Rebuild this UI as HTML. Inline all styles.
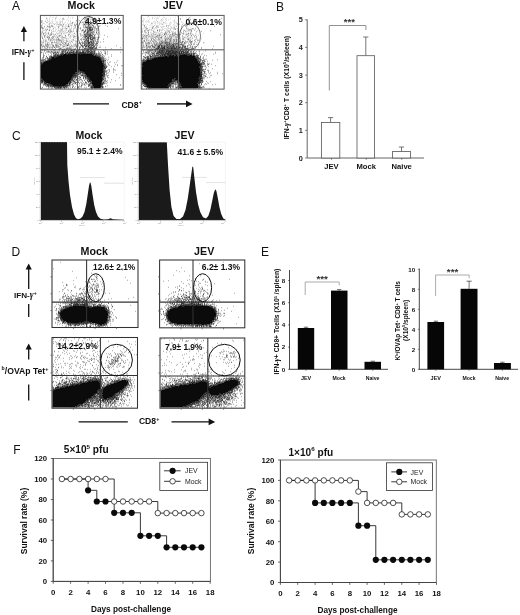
<!DOCTYPE html>
<html lang="en">
<head>
<meta charset="utf-8">
<title>Figure</title>
<style>
html,body{margin:0;padding:0;background:#fff;}
body{width:520px;height:615px;overflow:hidden;font-family:'Liberation Sans', sans-serif;}
svg text{white-space:pre;}
</style>
</head>
<body>
<svg width="520" height="615" viewBox="0 0 520 615" font-family="'Liberation Sans', sans-serif" style="display:block">
<rect width="520" height="615" fill="#fff"/>
<text x="11.9" y="10" font-size="12" font-weight="normal" text-anchor="start" fill="#111">A</text>
<text x="276" y="11.2" font-size="12" font-weight="normal" text-anchor="start" fill="#111">B</text>
<text x="12" y="139.5" font-size="12" font-weight="normal" text-anchor="start" fill="#111">C</text>
<text x="11.5" y="255.5" font-size="12" font-weight="normal" text-anchor="start" fill="#111">D</text>
<text x="261" y="255.5" font-size="12" font-weight="normal" text-anchor="start" fill="#111">E</text>
<text x="13.3" y="454" font-size="12" font-weight="normal" text-anchor="start" fill="#111">F</text>
<text x="81.2" y="9.1" font-size="10.7" font-weight="bold" text-anchor="middle" fill="#111">Mock</text>
<text x="172.8" y="9.1" font-size="10.7" font-weight="bold" text-anchor="middle" fill="#111">JEV</text>
<path d="M81 53h0.5v0.5h-0.5zM75.5 53.5h1.5v0.5h-1.5zM78 53.5h0.5v0.5h-0.5zM72.5 53.5h2v0.5h-2zM90.5 53.5h0.5v0.5h-0.5zM86 53.5h1.5v0.5h-1.5zM81 53.5h1.5v0.5h-1.5zM84 53.5h1.5v0.5h-1.5zM89.5 53.5h0.5v0.5h-0.5zM78 54h2.5v0.5h-2.5zM63.5 54h3v0.5h-3zM68 54h1.5v0.5h-1.5zM70 54h7.5v0.5h-7.5zM81 54h11v0.5h-11zM62 54.5h0.5v0.5h-0.5zM63.5 54.5h29.5v0.5h-29.5zM95 55h0.5v0.5h-0.5zM61 55h1.5v0.5h-1.5zM63 55h30.5v0.5h-30.5zM60 55.5h36.5v0.5h-36.5zM58 55.5h0.5v0.5h-0.5zM58 56h38.5v0.5h-38.5zM55.5 56.5h1.5v0.5h-1.5zM57.5 56.5h41.5v0.5h-41.5zM55.5 57h44v0.5h-44zM52 57h2.5v0.5h-2.5zM55 57.5h45.5v0.5h-45.5zM51.5 57.5h3v0.5h-3zM51.5 58h49v0.5h-49zM51 58.5h50.5v1h-50.5zM50.5 59.5h51v0.5h-51zM48.5 60h52.5v0.5h-52.5zM46.5 60.5h56v0.5h-56zM45.5 61h57v0.5h-57zM44.5 61.5h58v0.5h-58zM44 62h58v0.5h-58zM43.5 62.5h60v0.5h-60zM42.5 63h61v1h-61zM42 64h61.5v1h-61.5zM41 65h63v1.5h-63zM41 66.5h62.5v0.5h-62.5zM41 67h62v2h-62zM41 69h62.5v1.5h-62.5zM41 70.5h37.5v0.5h-37.5zM80 70.5h23.5v0.5h-23.5zM41 71h37v0.5h-37zM81.5 71h22v0.5h-22zM41 71.5h36v0.5h-36zM82.5 71.5h21.5v0.5h-21.5zM41 72h34.5v0.5h-34.5zM83.5 72h20v0.5h-20zM41 72.5h34v0.5h-34zM84.5 72.5h18.5v0.5h-18.5zM41 73h34.5v0.5h-34.5zM84.5 73h18v0.5h-18zM84 73.5h18.5v0.5h-18.5zM41 73.5h34v1h-34zM85.5 74h17.5v0.5h-17.5zM86 74.5h17v0.5h-17zM86.5 75h16.5v1h-16.5zM41 74.5h32v2h-32zM87 76h15.5v1h-15.5zM88 77h14.5v0.5h-14.5zM41 76.5h31.5v1.5h-31.5zM89 77.5h13.5v1h-13.5zM71.5 78h0.5v0.5h-0.5zM41 78h30v0.5h-30zM89.5 78.5h13v0.5h-13zM41.5 78.5h29.5v0.5h-29.5zM41.5 79h0.5v0.5h-0.5zM42.5 79h28.5v0.5h-28.5zM90 79h12v1h-12zM43 79.5h28v0.5h-28zM90.5 80h11.5v0.5h-11.5zM44 80h26v1h-26zM90 80.5h12v0.5h-12zM44 81h25.5v0.5h-25.5zM44.5 81.5h24.5v0.5h-24.5zM91.5 81h10.5v1.5h-10.5zM45 82h23.5v0.5h-23.5zM46 82.5h22.5v0.5h-22.5zM91.5 82.5h10v1h-10zM47 83h21.5v0.5h-21.5zM49.5 83.5h18.5v0.5h-18.5zM91.5 83.5h9.5v1h-9.5zM50 84h16.5v0.5h-16.5zM92.5 84.5h8.5v0.5h-8.5zM51.5 84.5h15v0.5h-15zM52.5 85h14v0.5h-14zM93 85h8.5v0.5h-8.5zM92.5 85.5h9v0.5h-9zM52.5 85.5h12.5v0.5h-12.5zM53 86h3v0.5h-3zM61 86h1v0.5h-1zM57 86h3.5v0.5h-3.5zM63 86h1.5v0.5h-1.5zM93 86h8.5v0.5h-8.5zM94 86.5h7v0.5h-7zM57 86.5h0.5v0.5h-0.5zM58.5 86.5h1.5v0.5h-1.5zM94 87h6.5v0.5h-6.5zM59 87h0.5v0.5h-0.5zM93.5 87.5h7v0.5h-7zM99.5 88h1v0.5h-1zM96 88h2.5v0.5h-2.5zM93.5 88h1.5v0.5h-1.5z" fill="#0b0b0b"/>
<path d="M89.5 16.25h0.5M90.5 16.25h0.5M88.5 16.75h1M84 17.25h0.5M91 17.25h0.5M92 17.25h0.5M84 17.75h0.5M55.5 18.25h0.5M98.5 18.25h0.5M111.5 18.25h0.5M63.5 18.75h0.5M85 18.75h0.5M86 18.75h0.5M84 19.25h0.5M87 19.25h0.5M92 19.25h0.5M94 19.75h0.5M87 20.25h0.5M93 20.25h0.5M41.5 20.75h0.5M79 20.75h0.5M85.5 20.75h0.5M87 20.75h0.5M88.5 20.75h0.5M93 20.75h0.5M45 21.25h0.5M84 21.25h0.5M90.5 21.25h0.5M41.5 21.75h0.5M87.5 21.75h0.5M90 21.75h0.5M97 21.75h0.5M80 22.25h0.5M82.5 22.25h0.5M83.5 22.25h0.5M85.5 22.25h0.5M86.5 22.25h0.5M91.5 22.25h0.5M95 22.25h0.5M72.5 22.75h0.5M87 22.75h0.5M88 22.75h1M90 22.75h0.5M91.5 22.75h1M93 22.75h0.5M95.5 22.75h0.5M85 23.25h0.5M86.5 23.25h0.5M88.5 23.25h0.5M114 23.25h0.5M49 23.75h0.5M79.5 23.75h0.5M88 23.75h1M90 23.75h1M54.5 24.25h0.5M63.5 24.25h0.5M74 24.25h0.5M76.5 24.25h0.5M84 24.25h1M85.5 24.25h0.5M86.5 24.25h0.5M88 24.25h2M94 24.25h0.5M97 24.25h0.5M58 24.75h0.5M60 24.75h0.5M61 24.75h0.5M83 24.75h0.5M87.5 24.75h0.5M91 24.75h0.5M96 24.75h0.5M68.5 25.25h0.5M74 25.25h0.5M88.5 25.25h0.5M90 25.25h0.5M92 25.25h0.5M93 25.25h0.5M105.5 25.25h0.5M41.5 25.75h0.5M49.5 25.75h0.5M75.5 25.75h0.5M85.5 25.75h0.5M88 25.75h0.5M89.5 25.75h0.5M92 25.75h0.5M97 25.75h0.5M47 26.25h0.5M68.5 26.25h0.5M75 26.25h0.5M87.5 26.25h0.5M88.5 26.25h0.5M93.5 26.25h0.5M98.5 26.25h0.5M99.5 26.25h0.5M107.5 26.25h0.5M44.5 26.75h0.5M48.5 26.75h0.5M52.5 26.75h0.5M62 26.75h0.5M68 26.75h0.5M69 26.75h0.5M83.5 26.75h0.5M85 26.75h0.5M88.5 26.75h0.5M90.5 26.75h0.5M93 26.75h0.5M49 27.25h0.5M78.5 27.25h0.5M85.5 27.25h0.5M87.5 27.25h0.5M88.5 27.25h1M90 27.25h0.5M91 27.25h0.5M93 27.25h0.5M95 27.25h0.5M41.5 27.75h0.5M42.5 27.75h0.5M58.5 27.75h0.5M75 27.75h0.5M80 27.75h0.5M83 27.75h0.5M84 27.75h0.5M86 27.75h1.5M89 27.75h2M91.5 27.75h1M94.5 27.75h0.5M42.5 28.25h0.5M43.5 28.25h0.5M53.5 28.25h0.5M87 28.25h0.5M88.5 28.25h0.5M90.5 28.25h1M92.5 28.25h0.5M97 28.25h0.5M62 28.75h0.5M66 28.75h0.5M80 28.75h0.5M88.5 28.75h1.5M92 28.75h0.5M95.5 28.75h0.5M96.5 28.75h0.5M118.5 28.75h0.5M45 29.25h0.5M70.5 29.25h0.5M76 29.25h0.5M89 29.25h0.5M90 29.25h1M92 29.25h1M96.5 29.25h0.5M61.5 29.75h0.5M83.5 29.75h0.5M85 29.75h0.5M87 29.75h1M89 29.75h0.5M90 29.75h0.5M91 29.75h1M92.5 29.75h0.5M49 30.25h0.5M82 30.25h1M87 30.25h0.5M88.5 30.25h2.5M91.5 30.25h1M46.5 30.75h0.5M68.5 30.75h0.5M70 30.75h0.5M81 30.75h0.5M83 30.75h0.5M85 30.75h1M87 30.75h0.5M88.5 30.75h0.5M91 30.75h0.5M94.5 30.75h0.5M96 30.75h0.5M97.5 30.75h0.5M71.5 31.25h0.5M84.5 31.25h0.5M85.5 31.25h0.5M88 31.25h0.5M89 31.25h0.5M90 31.25h0.5M92.5 31.25h0.5M93.5 31.25h0.5M68.5 31.75h0.5M76.5 31.75h0.5M84.5 31.75h1M87 31.75h1M88.5 31.75h0.5M93.5 31.75h0.5M96 31.75h0.5M45 32.25h0.5M83 32.25h0.5M84 32.25h1M87 32.25h1.5M90.5 32.25h1M92.5 32.25h0.5M42.5 32.75h0.5M48.5 32.75h0.5M51 32.75h0.5M86.5 32.75h1M89.5 32.75h0.5M91 32.75h0.5M92 32.75h0.5M93.5 32.75h0.5M94.5 32.75h0.5M96 32.75h1M98.5 32.75h0.5M61 33.25h0.5M74 33.25h0.5M90 33.25h0.5M43 33.75h0.5M48.5 33.75h0.5M80.5 33.75h0.5M83 33.75h0.5M85 33.75h0.5M86.5 33.75h2M89.5 33.75h0.5M90.5 33.75h1M92.5 33.75h0.5M50.5 34.25h0.5M55.5 34.25h0.5M69 34.25h0.5M84 34.25h1M85.5 34.25h1M87 34.25h0.5M88 34.25h1M89.5 34.25h0.5M92 34.25h0.5M93 34.25h0.5M95.5 34.25h0.5M97 34.25h0.5M43.5 34.75h0.5M51 34.75h0.5M53 34.75h0.5M80 34.75h0.5M84.5 34.75h1M87 34.75h0.5M89.5 34.75h1.5M93.5 34.75h0.5M82 35.25h0.5M84.5 35.25h0.5M85.5 35.25h0.5M86.5 35.25h0.5M87.5 35.25h0.5M88.5 35.25h1M90 35.25h1.5M94 35.25h0.5M104 35.25h0.5M44.5 35.75h0.5M60 35.75h0.5M65 35.75h0.5M83 35.75h0.5M85 35.75h0.5M86.5 35.75h1M88 35.75h0.5M89 35.75h0.5M90 35.75h0.5M91 35.75h1M92.5 35.75h0.5M94.5 35.75h0.5M74 36.25h0.5M84 36.25h0.5M85 36.25h2M87.5 36.25h0.5M88.5 36.25h1.5M90.5 36.25h0.5M92 36.25h1M94 36.25h0.5M52.5 36.75h0.5M53.5 36.75h0.5M83.5 36.75h0.5M84.5 36.75h0.5M86 36.75h1M88.5 36.75h0.5M89.5 36.75h0.5M90.5 36.75h0.5M93 36.75h0.5M107.5 36.75h0.5M44.5 37.25h0.5M47.5 37.25h0.5M57.5 37.25h0.5M85 37.25h1M87 37.25h1.5M89 37.25h0.5M90 37.25h1.5M92.5 37.25h0.5M95 37.25h0.5M99.5 37.25h0.5M49 37.75h0.5M63.5 37.75h0.5M73.5 37.75h0.5M78.5 37.75h0.5M82.5 37.75h0.5M84 37.75h0.5M88 37.75h1M90 37.75h0.5M91 37.75h0.5M92 37.75h0.5M93 37.75h2M97 37.75h0.5M98 37.75h0.5M42 38.25h0.5M52 38.25h0.5M58.5 38.25h0.5M85.5 38.25h0.5M87 38.25h1.5M90 38.25h1M92 38.25h0.5M94 38.25h0.5M66 38.75h0.5M81 38.75h0.5M85.5 38.75h0.5M86.5 38.75h0.5M88 38.75h1M89.5 38.75h1.5M92.5 38.75h2M95.5 38.75h0.5M48 39.25h0.5M56.5 39.25h0.5M58.5 39.25h0.5M80.5 39.25h0.5M83.5 39.25h0.5M86 39.25h1M88.5 39.25h0.5M91 39.25h0.5M92 39.25h1M94 39.25h0.5M97.5 39.25h0.5M103.5 39.25h0.5M50 39.75h0.5M57.5 39.75h1M81 39.75h0.5M83.5 39.75h0.5M84.5 39.75h0.5M87.5 39.75h1M90 39.75h2M92.5 39.75h0.5M97.5 39.75h0.5M43 40.25h0.5M59 40.25h0.5M60.5 40.25h0.5M66 40.25h0.5M85.5 40.25h1M88 40.25h1M91.5 40.25h0.5M93.5 40.25h1M95 40.25h0.5M81 40.75h0.5M85 40.75h0.5M86 40.75h0.5M87 40.75h1M88.5 40.75h0.5M92.5 40.75h0.5M93.5 40.75h0.5M41.5 41.25h0.5M45 41.25h0.5M71.5 41.25h0.5M87.5 41.25h1.5M90.5 41.25h0.5M92.5 41.25h0.5M95 41.25h0.5M98 41.25h0.5M61.5 41.75h0.5M76 41.75h0.5M82.5 41.75h0.5M84 41.75h1.5M86.5 41.75h0.5M90 41.75h2M93 41.75h1.5M96 41.75h0.5M103 41.75h0.5M43.5 42.25h0.5M52 42.25h0.5M54 42.25h0.5M82.5 42.25h0.5M85.5 42.25h0.5M86.5 42.25h0.5M87.5 42.25h2.5M90.5 42.25h1.5M92.5 42.25h1M98.5 42.25h0.5M100 42.25h0.5M66 42.75h0.5M79.5 42.75h0.5M81.5 42.75h0.5M84.5 42.75h0.5M85.5 42.75h0.5M87 42.75h0.5M88 42.75h2M91 42.75h0.5M93.5 42.75h0.5M94.5 42.75h0.5M79.5 43.25h1M82 43.25h1M83.5 43.25h1M86.5 43.25h1M88 43.25h1M89.5 43.25h0.5M91 43.25h0.5M92 43.25h1M93.5 43.25h0.5M96.5 43.25h1.5M57.5 43.75h0.5M65.5 43.75h0.5M68.5 43.75h0.5M78 43.75h0.5M84.5 43.75h1M86 43.75h0.5M88 43.75h1M89.5 43.75h0.5M90.5 43.75h1M94 43.75h0.5M95.5 43.75h0.5M45.5 44.25h0.5M47.5 44.25h0.5M59.5 44.25h0.5M68.5 44.25h0.5M80 44.25h0.5M84.5 44.25h0.5M86.5 44.25h0.5M87.5 44.25h0.5M88.5 44.25h1M90 44.25h0.5M91.5 44.25h1M93 44.25h1M96.5 44.25h0.5M55.5 44.75h0.5M61 44.75h0.5M64.5 44.75h0.5M74.5 44.75h0.5M75.5 44.75h0.5M81 44.75h0.5M82.5 44.75h0.5M84 44.75h0.5M85 44.75h1M87 44.75h0.5M88 44.75h0.5M90 44.75h1M91.5 44.75h1M93.5 44.75h0.5M95.5 44.75h0.5M46.5 45.25h1M48.5 45.25h0.5M52 45.25h0.5M56 45.25h0.5M60 45.25h0.5M67 45.25h1M68.5 45.25h0.5M84 45.25h1M86.5 45.25h1M88 45.25h0.5M89 45.25h1M91 45.25h0.5M92.5 45.25h1M96 45.25h0.5M97 45.25h0.5M43 45.75h0.5M53.5 45.75h0.5M55.5 45.75h0.5M57.5 45.75h0.5M66 45.75h0.5M67 45.75h0.5M71.5 45.75h0.5M75 45.75h0.5M78 45.75h0.5M81 45.75h1.5M83 45.75h0.5M84 45.75h0.5M86 45.75h1.5M88 45.75h0.5M89.5 45.75h1M91.5 45.75h1.5M93.5 45.75h0.5M94.5 45.75h0.5M116.5 45.75h0.5M43 46.25h0.5M53 46.25h0.5M63 46.25h0.5M64.5 46.25h0.5M74 46.25h0.5M76.5 46.25h0.5M82.5 46.25h1M85 46.25h1M86.5 46.25h1M88 46.25h1.5M91 46.25h1M93 46.25h0.5M94 46.25h0.5M96.5 46.25h0.5M42.5 46.75h0.5M47 46.75h0.5M56 46.75h0.5M58 46.75h0.5M59 46.75h0.5M70.5 46.75h0.5M72 46.75h0.5M80 46.75h0.5M82.5 46.75h0.5M85 46.75h0.5M86 46.75h1M88 46.75h1M90 46.75h0.5M93.5 46.75h0.5M94.5 46.75h0.5M96 46.75h0.5M44.5 47.25h0.5M47.5 47.25h0.5M49.5 47.25h0.5M54 47.25h1M56.5 47.25h0.5M57.5 47.25h0.5M69.5 47.25h0.5M79 47.25h0.5M82 47.25h0.5M85 47.25h0.5M88.5 47.25h0.5M89.5 47.25h1M91 47.25h0.5M92 47.25h0.5M93 47.25h1M94.5 47.25h0.5M95.5 47.25h0.5M99.5 47.25h1M77 47.75h0.5M79 47.75h0.5M80 47.75h0.5M87 47.75h0.5M88 47.75h0.5M89 47.75h4M96 47.75h1M105 47.75h0.5M120 47.75h0.5M45 48.25h0.5M67 48.25h0.5M68.5 48.25h0.5M69.5 48.25h1M71.5 48.25h0.5M85.5 48.25h0.5M87 48.25h0.5M88 48.25h0.5M89 48.25h0.5M90.5 48.25h0.5M92 48.25h0.5M93.5 48.25h1M95 48.25h0.5M96.5 48.25h0.5M52 48.75h0.5M59.5 48.75h1M61.5 48.75h0.5M66 48.75h0.5M75 48.75h0.5M79.5 48.75h0.5M82 48.75h0.5M84.5 48.75h1M86.5 48.75h0.5M88.5 48.75h0.5M89.5 48.75h1M91.5 48.75h2M94.5 48.75h1.5M96.5 48.75h0.5M111 48.75h0.5M41 49.25h0.5M70 49.25h0.5M74 49.25h1M79 49.25h1M81 49.25h0.5M84.5 49.25h0.5M86.5 49.25h2M90 49.25h2.5M94 49.25h0.5M47.5 49.75h0.5M52 49.75h0.5M54.5 49.75h0.5M62 49.75h0.5M63.5 49.75h0.5M64.5 49.75h0.5M66.5 49.75h0.5M71 49.75h0.5M72 49.75h0.5M79.5 49.75h0.5M81 49.75h0.5M82.5 49.75h2M85.5 49.75h1M87.5 49.75h1M89.5 49.75h0.5M93 49.75h1M54.5 50.25h0.5M58 50.25h0.5M62 50.25h0.5M63 50.25h0.5M68.5 50.25h0.5M71.5 50.25h0.5M73.5 50.25h0.5M78 50.25h0.5M79.5 50.25h0.5M84.5 50.25h0.5M87 50.25h1.5M90 50.25h0.5M91 50.25h0.5M93 50.25h0.5M94 50.25h0.5M95.5 50.25h0.5M103 50.25h0.5M105 50.25h0.5M44 50.75h0.5M63 50.75h0.5M64.5 50.75h0.5M65.5 50.75h0.5M66.5 50.75h0.5M68 50.75h1M70.5 50.75h2M76 50.75h1M78.5 50.75h0.5M80 50.75h0.5M82 50.75h1.5M84.5 50.75h0.5M85.5 50.75h1.5M87.5 50.75h1.5M90 50.75h1M91.5 50.75h0.5M92.5 50.75h0.5M94 50.75h0.5M48 51.25h0.5M49.5 51.25h0.5M55.5 51.25h0.5M57.5 51.25h0.5M59 51.25h0.5M61 51.25h0.5M62 51.25h1.5M64 51.25h0.5M65.5 51.25h0.5M70 51.25h0.5M72.5 51.25h1.5M74.5 51.25h0.5M76 51.25h1.5M78.5 51.25h1M83 51.25h1M85 51.25h0.5M86 51.25h0.5M87 51.25h0.5M88.5 51.25h1M91 51.25h1M93 51.25h0.5M94.5 51.25h1M98.5 51.25h0.5M104.5 51.25h0.5M107.5 51.25h0.5M51 51.75h1.5M61.5 51.75h1M63.5 51.75h0.5M65 51.75h1M67.5 51.75h0.5M69.5 51.75h0.5M73 51.75h0.5M74 51.75h0.5M75 51.75h0.5M76 51.75h0.5M77.5 51.75h0.5M78.5 51.75h0.5M79.5 51.75h0.5M80.5 51.75h0.5M82 51.75h1.5M84.5 51.75h1M86 51.75h0.5M87 51.75h3M91.5 51.75h2M94 51.75h1M100 51.75h0.5M105 51.75h0.5M47.5 52.25h1M49 52.25h0.5M50.5 52.25h0.5M54.5 52.25h0.5M55.5 52.25h0.5M57.5 52.25h1M62 52.25h0.5M64 52.25h0.5M66.5 52.25h1.5M69 52.25h3M72.5 52.25h1.5M76 52.25h2M79.5 52.25h1.5M81.5 52.25h2.5M85 52.25h0.5M86.5 52.25h0.5M88 52.25h1M90 52.25h1.5M92 52.25h0.5M93.5 52.25h0.5M94.5 52.25h0.5M98 52.25h0.5M101 52.25h0.5M120.5 52.25h0.5M41.5 52.75h0.5M52 52.75h0.5M53 52.75h1M54.5 52.75h2M57 52.75h1M61 52.75h0.5M62 52.75h1M65.5 52.75h0.5M66.5 52.75h1.5M69 52.75h1M71 52.75h2.5M74.5 52.75h2.5M78 52.75h8M87 52.75h1M88.5 52.75h0.5M89.5 52.75h2.5M92.5 52.75h1M94.5 52.75h1M99 52.75h0.5M105.5 52.75h0.5M107 52.75h0.5M43.5 53.25h0.5M45.5 53.25h0.5M50 53.25h0.5M56.5 53.25h0.5M58 53.25h0.5M62 53.25h0.5M63 53.25h0.5M65 53.25h1.5M67 53.25h0.5M68 53.25h1.5M70 53.25h1M71.5 53.25h0.5M72.5 53.25h2.5M75.5 53.25h5.5M82 53.25h4.5M87 53.25h1.5M89 53.25h3M92.5 53.25h0.5M93.5 53.25h1.5M96.5 53.25h0.5M98 53.25h0.5M101.5 53.25h0.5M104.5 53.25h1.5M51.5 53.75h0.5M53 53.75h1M54.5 53.75h0.5M55.5 53.75h1M58 53.75h0.5M60 53.75h0.5M61 53.75h3M64.5 53.75h3M68 53.75h3M71.5 53.75h1M74.5 53.75h1M77 53.75h1M78.5 53.75h2.5M82.5 53.75h1.5M85.5 53.75h0.5M87.5 53.75h2M90 53.75h0.5M91 53.75h2.5M94 53.75h1M95.5 53.75h0.5M96.5 53.75h0.5M97.5 53.75h1M99.5 53.75h0.5M100.5 53.75h0.5M43.5 54.25h0.5M53 54.25h0.5M55.5 54.25h0.5M56.5 54.25h0.5M58.5 54.25h0.5M59.5 54.25h1M61 54.25h2.5M66.5 54.25h1.5M69.5 54.25h0.5M77.5 54.25h0.5M80.5 54.25h0.5M92 54.25h2M94.5 54.25h0.5M95.5 54.25h1M97 54.25h0.5M98.5 54.25h0.5M99.5 54.25h0.5M107.5 54.25h0.5M48 54.75h0.5M51 54.75h0.5M54.5 54.75h1.5M56.5 54.75h1.5M58.5 54.75h0.5M60 54.75h2M62.5 54.75h1M93 54.75h1.5M95 54.75h0.5M96 54.75h1M98 54.75h0.5M99 54.75h0.5M100 54.75h0.5M102 54.75h1M105 54.75h0.5M111.5 54.75h0.5M43 55.25h0.5M53.5 55.25h3M57 55.25h4M62.5 55.25h0.5M93.5 55.25h1M95.5 55.25h1M98.5 55.25h1M100.5 55.25h1M43 55.75h0.5M44 55.75h0.5M50.5 55.75h1M53.5 55.75h0.5M54.5 55.75h0.5M55.5 55.75h1M57 55.75h1M58.5 55.75h1.5M96.5 55.75h1.5M98.5 55.75h0.5M99.5 55.75h1M103.5 55.75h0.5M43 56.25h0.5M46 56.25h1M49.5 56.25h1M51 56.25h0.5M52.5 56.25h1M54 56.25h4M96.5 56.25h3M100.5 56.25h0.5M102 56.25h0.5M104.5 56.25h0.5M111 56.25h0.5M43.5 56.75h0.5M49 56.75h0.5M50.5 56.75h2M53 56.75h2.5M57 56.75h0.5M99 56.75h1M101 56.75h0.5M102 56.75h0.5M46.5 57.25h0.5M49 57.25h0.5M50.5 57.25h1.5M54.5 57.25h1M99.5 57.25h1.5M101.5 57.25h0.5M102.5 57.25h1M108.5 57.25h0.5M42.5 57.75h1.5M47 57.75h1M49.5 57.75h0.5M50.5 57.75h1M54.5 57.75h0.5M100.5 57.75h0.5M101.5 57.75h0.5M102.5 57.75h1M45 58.25h0.5M47 58.25h0.5M48 58.25h0.5M49.5 58.25h0.5M50.5 58.25h1M100.5 58.25h1M102.5 58.25h1M104 58.25h0.5M105 58.25h0.5M42.5 58.75h0.5M45 58.75h0.5M46.5 58.75h1M48.5 58.75h2.5M101.5 58.75h1M103 58.75h0.5M41.5 59.25h0.5M43.5 59.25h0.5M48 59.25h0.5M49 59.25h2M102 59.25h1.5M104.5 59.25h0.5M106 59.25h0.5M108 59.25h0.5M42 59.75h0.5M43.5 59.75h1.5M45.5 59.75h0.5M47.5 59.75h3M101.5 59.75h0.5M103.5 59.75h0.5M41.5 60.25h1M43 60.25h0.5M45 60.25h0.5M47 60.25h1.5M101 60.25h1.5M103 60.25h1.5M105 60.25h1M41 60.75h1M42.5 60.75h0.5M43.5 60.75h0.5M45.5 60.75h1M102.5 60.75h1M104.5 60.75h1M107.5 60.75h0.5M117.5 60.75h0.5M42 61.25h0.5M43 61.25h0.5M44 61.25h1.5M102.5 61.25h2M41.5 61.75h0.5M42.5 61.75h0.5M43.5 61.75h1M102.5 61.75h1.5M104.5 61.75h0.5M105.5 61.75h0.5M110.5 61.75h0.5M41.5 62.25h0.5M43 62.25h1M102.5 62.25h1.5M109.5 62.25h0.5M116 62.25h0.5M41 62.75h2.5M104.5 62.75h1M107.5 62.75h0.5M114.5 62.75h0.5M41 63.25h1.5M103.5 63.25h0.5M105 63.25h0.5M41 63.75h1.5M103.5 63.75h1M108 63.75h0.5M41 64.25h1M103.5 64.25h2.5M115 64.25h0.5M41 64.75h1M103.5 64.75h1M108 64.75h0.5M117 64.75h0.5M106 65.25h0.5M109.5 65.25h0.5M104 65.75h2M117 65.75h0.5M121.5 65.75h1M104.5 66.25h1M106 66.25h0.5M107.5 66.25h0.5M114.5 66.25h0.5M103.5 66.75h2M106.5 66.75h0.5M111.5 66.75h0.5M103 67.25h2.5M106 67.25h1M103 67.75h2M105.5 67.75h1M103 68.25h3M103 68.75h1M104.5 68.75h1.5M113.5 68.75h0.5M103.5 69.25h1M113.5 69.25h0.5M103.5 69.75h0.5M104.5 69.75h1M108 69.75h0.5M109 69.75h0.5M114 69.75h0.5M103.5 70.25h1.5M115.5 70.25h0.5M78.5 70.75h1.5M103.5 70.75h1M105.5 70.75h1M107 70.75h0.5M109 70.75h0.5M113 70.75h0.5M78 71.25h1M79.5 71.25h2M103.5 71.25h1.5M105.5 71.25h1M77 71.75h5.5M104.5 71.75h1M106 71.75h0.5M109 71.75h0.5M75.5 72.25h1M77 72.25h1.5M79.5 72.25h0.5M80.5 72.25h1M82 72.25h1.5M103.5 72.25h1M105.5 72.25h0.5M113.5 72.25h0.5M75 72.75h2M77.5 72.75h1.5M79.5 72.75h5M103 72.75h2M106.5 72.75h0.5M108 72.75h0.5M75.5 73.25h1.5M80 73.25h0.5M82.5 73.25h2M102.5 73.25h2.5M107 73.25h0.5M121.5 73.25h0.5M75 73.75h3.5M79 73.75h2M82 73.75h0.5M102.5 73.75h1.5M104.5 73.75h0.5M106 73.75h0.5M75 74.25h1M76.5 74.25h0.5M77.5 74.25h2M81.5 74.25h0.5M82.5 74.25h0.5M83.5 74.25h0.5M84.5 74.25h0.5M103 74.25h0.5M104 74.25h1M105.5 74.25h1M73 74.75h2.5M76 74.75h0.5M77.5 74.75h0.5M78.5 74.75h0.5M80 74.75h0.5M82.5 74.75h0.5M83.5 74.75h1M85 74.75h1M103 74.75h2M116.5 74.75h0.5M73 75.25h5M81.5 75.25h2M84 75.25h0.5M85 75.25h1.5M103 75.25h2M108.5 75.25h0.5M121 75.25h0.5M73 75.75h3.5M77.5 75.75h0.5M80.5 75.75h3M84.5 75.75h0.5M85.5 75.75h1M103.5 75.75h0.5M105 75.75h0.5M106 75.75h0.5M107 75.75h0.5M73 76.25h2.5M77 76.25h0.5M78.5 76.25h0.5M79.5 76.25h0.5M83 76.25h0.5M84 76.25h3M102.5 76.25h1M104 76.25h1M107.5 76.25h0.5M72.5 76.75h0.5M73.5 76.75h0.5M74.5 76.75h2.5M79 76.75h0.5M83.5 76.75h0.5M86.5 76.75h0.5M102.5 76.75h1.5M104.5 76.75h0.5M72.5 77.25h1.5M75.5 77.25h0.5M76.5 77.25h1M79 77.25h0.5M80.5 77.25h0.5M83 77.25h0.5M85 77.25h1M86.5 77.25h1.5M102.5 77.25h1.5M105 77.25h0.5M107.5 77.25h0.5M72.5 77.75h0.5M73.5 77.75h2.5M77.5 77.75h0.5M80 77.75h1M83 77.75h0.5M84.5 77.75h2M87.5 77.75h1.5M102.5 77.75h0.5M104 77.75h0.5M108.5 77.75h0.5M119.5 77.75h0.5M71 78.25h0.5M72.5 78.25h1M77 78.25h0.5M78.5 78.25h0.5M79.5 78.25h0.5M83 78.25h1M85 78.25h0.5M86.5 78.25h2.5M102.5 78.25h0.5M104.5 78.25h1M41 78.75h0.5M71 78.75h2M74 78.75h0.5M75 78.75h0.5M78.5 78.75h0.5M83.5 78.75h0.5M85 78.75h0.5M86.5 78.75h0.5M87.5 78.75h2M102.5 78.75h1.5M105.5 78.75h0.5M42 79.25h0.5M71 79.25h1.5M73 79.25h0.5M74 79.25h0.5M76 79.25h0.5M77 79.25h1M80 79.25h0.5M81 79.25h0.5M85.5 79.25h0.5M87 79.25h0.5M88 79.25h0.5M89 79.25h1M102 79.25h2.5M41 79.75h2M71.5 79.75h1.5M74 79.75h0.5M76 79.75h1M79.5 79.75h0.5M80.5 79.75h0.5M86.5 79.75h0.5M87.5 79.75h2.5M102 79.75h1.5M105.5 79.75h0.5M111 79.75h0.5M41 80.25h3M70 80.25h2M72.5 80.25h1M75.5 80.25h1M79 80.25h0.5M81 80.25h0.5M84 80.25h1M87 80.25h0.5M88.5 80.25h2M102 80.25h1.5M104 80.25h0.5M105.5 80.25h0.5M41 80.75h3M70 80.75h0.5M71.5 80.75h1M73 80.75h1M77 80.75h0.5M78.5 80.75h0.5M82 80.75h0.5M87 80.75h1M89 80.75h1M102 80.75h0.5M104.5 80.75h0.5M105.5 80.75h0.5M107 80.75h0.5M115 80.75h0.5M41 81.25h2M43.5 81.25h0.5M69.5 81.25h1.5M72 81.25h0.5M73.5 81.25h0.5M74.5 81.25h0.5M82 81.25h0.5M87 81.25h0.5M88.5 81.25h3M102 81.25h0.5M106.5 81.25h0.5M41.5 81.75h2M44 81.75h0.5M69 81.75h2.5M73.5 81.75h1.5M77 81.75h0.5M85 81.75h0.5M88 81.75h3M103.5 81.75h1M105.5 81.75h1M41 82.25h2.5M44 82.25h1M68.5 82.25h3M74.5 82.25h1.5M76.5 82.25h0.5M77.5 82.25h1.5M80.5 82.25h1M85 82.25h1.5M88.5 82.25h0.5M90.5 82.25h1M102 82.25h0.5M103 82.25h1M104.5 82.25h0.5M110 82.25h0.5M41.5 82.75h0.5M42.5 82.75h0.5M44 82.75h2M68.5 82.75h0.5M69.5 82.75h1M71 82.75h0.5M72 82.75h0.5M76.5 82.75h1.5M83.5 82.75h0.5M86.5 82.75h0.5M88 82.75h0.5M90.5 82.75h1M101.5 82.75h1M103 82.75h1M107 82.75h0.5M41.5 83.25h0.5M43 83.25h0.5M44.5 83.25h1.5M46.5 83.25h0.5M68.5 83.25h2.5M73 83.25h0.5M75 83.25h1M79 83.25h0.5M81 83.25h0.5M82 83.25h0.5M85 83.25h0.5M86 83.25h0.5M89.5 83.25h0.5M90.5 83.25h1M101.5 83.25h2M104.5 83.25h0.5M105.5 83.25h0.5M42 83.75h0.5M44 83.75h3M48 83.75h1.5M68.5 83.75h1.5M73.5 83.75h1M75 83.75h0.5M79.5 83.75h0.5M84 83.75h0.5M87 83.75h0.5M89.5 83.75h2M101 83.75h1.5M103 83.75h0.5M104 83.75h0.5M106 83.75h0.5M43.5 84.25h0.5M45.5 84.25h0.5M46.5 84.25h3.5M66.5 84.25h1.5M69.5 84.25h0.5M70.5 84.25h0.5M72 84.25h1M81.5 84.25h0.5M82.5 84.25h1M86 84.25h0.5M88.5 84.25h0.5M90.5 84.25h0.5M101 84.25h2.5M43.5 84.75h1.5M45.5 84.75h0.5M46.5 84.75h2M49 84.75h0.5M50 84.75h1.5M66.5 84.75h1M68.5 84.75h1.5M71.5 84.75h0.5M76.5 84.75h0.5M84 84.75h1M88.5 84.75h1.5M92 84.75h0.5M101 84.75h2M120 84.75h0.5M45.5 85.25h0.5M46.5 85.25h1M48 85.25h1M49.5 85.25h3M66.5 85.25h1M68 85.25h0.5M69 85.25h1M70.5 85.25h0.5M72 85.25h0.5M77.5 85.25h0.5M79 85.25h0.5M82.5 85.25h0.5M85 85.25h0.5M88 85.25h0.5M89.5 85.25h1M91.5 85.25h0.5M92.5 85.25h0.5M120.5 85.25h0.5M43.5 85.75h0.5M45 85.75h0.5M47 85.75h1.5M49.5 85.75h0.5M50.5 85.75h2M65 85.75h4M73 85.75h0.5M81 85.75h1M88.5 85.75h2M91.5 85.75h1M101.5 85.75h1M107.5 85.75h0.5M46.5 86.25h0.5M47.5 86.25h2M50 86.25h0.5M51.5 86.25h1.5M56 86.25h1M60.5 86.25h0.5M62 86.25h1M65 86.25h2.5M70.5 86.25h0.5M73.5 86.25h0.5M81.5 86.25h0.5M88 86.25h1M91 86.25h0.5M92 86.25h1M102 86.25h0.5M105.5 86.25h0.5M46.5 86.75h0.5M48.5 86.75h0.5M50 86.75h1M51.5 86.75h1M53 86.75h4M57.5 86.75h1M60 86.75h2M62.5 86.75h3M66 86.75h0.5M67 86.75h0.5M69.5 86.75h0.5M72.5 86.75h0.5M75.5 86.75h0.5M77 86.75h0.5M78 86.75h0.5M79 86.75h0.5M80.5 86.75h0.5M90.5 86.75h1.5M92.5 86.75h1.5M101 86.75h2.5M105.5 86.75h0.5M42.5 87.25h0.5M48 87.25h0.5M49.5 87.25h0.5M52 87.25h0.5M54 87.25h1M55.5 87.25h0.5M57.5 87.25h1.5M59.5 87.25h2.5M63 87.25h1M64.5 87.25h1M66 87.25h1M67.5 87.25h0.5M68.5 87.25h0.5M72 87.25h1M77.5 87.25h1M84.5 87.25h0.5M86 87.25h0.5M90 87.25h0.5M91 87.25h3M100.5 87.25h0.5M101.5 87.25h1.5M42.5 87.75h0.5M51.5 87.75h0.5M54.5 87.75h0.5M55.5 87.75h4M60 87.75h1M61.5 87.75h1M63 87.75h0.5M64 87.75h1M65.5 87.75h0.5M70.5 87.75h0.5M74 87.75h0.5M77 87.75h0.5M78.5 87.75h0.5M81.5 87.75h0.5M90.5 87.75h1M92 87.75h0.5M93 87.75h0.5M100.5 87.75h0.5M102 87.75h0.5M103 87.75h0.5M41.5 88.25h0.5M48.5 88.25h0.5M51.5 88.25h1M55 88.25h2.5M58 88.25h3.5M62 88.25h0.5M64 88.25h1M66.5 88.25h0.5M68 88.25h0.5M79 88.25h0.5M85 88.25h0.5M89.5 88.25h0.5M91 88.25h2M95 88.25h1M98.5 88.25h1M100.5 88.25h1M102.5 88.25h0.5" stroke="#000" stroke-width="0.7" fill="none"/>
<path d="M44.5 16.25h0.5M68.5 16.25h0.5M50.5 16.75h0.5M56.5 16.75h0.5M79 16.75h0.5M85 16.75h0.5M87 16.75h0.5M46.5 17.25h0.5M49.5 17.25h0.5M53.5 17.25h0.5M72 17.25h0.5M86.5 17.25h0.5M52 17.75h0.5M56.5 17.75h0.5M68.5 17.75h0.5M89.5 17.75h1M94.5 17.75h0.5M46.5 18.25h0.5M60.5 18.25h0.5M63.5 18.25h0.5M70 18.25h0.5M72 18.25h0.5M83 18.25h0.5M85 18.25h0.5M92 18.25h0.5M46 18.75h1.5M49 18.75h0.5M62 18.75h1M67.5 18.75h0.5M83.5 18.75h0.5M91 18.75h0.5M98 18.75h0.5M49 19.25h0.5M55.5 19.25h0.5M64.5 19.25h0.5M85 19.25h0.5M86.5 19.25h0.5M90 19.25h0.5M91.5 19.25h0.5M93 19.25h0.5M95 19.25h0.5M52.5 19.75h0.5M59 19.75h0.5M62.5 19.75h1M78 19.75h0.5M88 19.75h0.5M89 19.75h0.5M90.5 19.75h0.5M92.5 19.75h0.5M47.5 20.25h0.5M66.5 20.25h0.5M68.5 20.25h0.5M76 20.25h1M92.5 20.25h0.5M99.5 20.25h0.5M42 20.75h0.5M47 20.75h0.5M49.5 20.75h0.5M55 20.75h0.5M62 20.75h0.5M70.5 20.75h0.5M76.5 20.75h0.5M95 20.75h0.5M42.5 21.25h0.5M52 21.25h0.5M56 21.25h0.5M59 21.25h0.5M60.5 21.25h0.5M61.5 21.25h0.5M68 21.25h0.5M70 21.25h0.5M95 21.25h0.5M48 21.75h0.5M49 21.75h0.5M51.5 21.75h0.5M62.5 21.75h0.5M76 21.75h0.5M87 21.75h0.5M42.5 22.25h0.5M46 22.25h0.5M47.5 22.25h0.5M50 22.25h0.5M52 22.25h0.5M57 22.25h0.5M60.5 22.25h0.5M62.5 22.25h0.5M65.5 22.25h0.5M72 22.25h0.5M73.5 22.25h0.5M75 22.25h0.5M80.5 22.25h0.5M86 22.25h0.5M92.5 22.25h0.5M41 22.75h1M46 22.75h0.5M47 22.75h0.5M56.5 22.75h0.5M57.5 22.75h0.5M60.5 22.75h0.5M70.5 22.75h0.5M72 22.75h0.5M81.5 22.75h1M84 22.75h0.5M92.5 22.75h0.5M43.5 23.25h1M50.5 23.25h0.5M52 23.25h0.5M59 23.25h0.5M60.5 23.25h0.5M62.5 23.25h0.5M64 23.25h0.5M67.5 23.25h0.5M69 23.25h0.5M70 23.25h0.5M71.5 23.25h0.5M83 23.25h0.5M85.5 23.25h0.5M87 23.25h0.5M42.5 23.75h0.5M51.5 23.75h0.5M53.5 23.75h0.5M55 23.75h0.5M57 23.75h0.5M71.5 23.75h1.5M76.5 23.75h0.5M83 23.75h0.5M86 23.75h0.5M96.5 23.75h0.5M42.5 24.25h0.5M48 24.25h0.5M49.5 24.25h0.5M56.5 24.25h0.5M59 24.25h1M68 24.25h0.5M75.5 24.25h0.5M85 24.25h0.5M87.5 24.25h0.5M102.5 24.25h0.5M45 24.75h0.5M57.5 24.75h0.5M63 24.75h0.5M65.5 24.75h0.5M66.5 24.75h0.5M68.5 24.75h0.5M69.5 24.75h0.5M70.5 24.75h0.5M76.5 24.75h0.5M82 24.75h0.5M84 24.75h0.5M89 24.75h1M92.5 24.75h0.5M41.5 25.25h1M51.5 25.25h1M56 25.25h0.5M60.5 25.25h0.5M62.5 25.25h1M71.5 25.25h0.5M72.5 25.25h0.5M75.5 25.25h0.5M77 25.25h0.5M83 25.25h0.5M84.5 25.25h0.5M86.5 25.25h0.5M88 25.25h0.5M91 25.25h0.5M92.5 25.25h0.5M47.5 25.75h0.5M51.5 25.75h0.5M52.5 25.75h0.5M59.5 25.75h0.5M61 25.75h0.5M62 25.75h0.5M65.5 25.75h0.5M70 25.75h0.5M71 25.75h1M83 25.75h0.5M84.5 25.75h0.5M100.5 25.75h0.5M41.5 26.25h0.5M49 26.25h0.5M50.5 26.25h2M53.5 26.25h0.5M58.5 26.25h0.5M66 26.25h0.5M67.5 26.25h1M85 26.25h0.5M88 26.25h0.5M89.5 26.25h1M91 26.25h0.5M95.5 26.25h0.5M41 26.75h0.5M42 26.75h0.5M47.5 26.75h0.5M49.5 26.75h0.5M57.5 26.75h1.5M59.5 26.75h0.5M62.5 26.75h0.5M63.5 26.75h0.5M64.5 26.75h0.5M73.5 26.75h0.5M74.5 26.75h0.5M77 26.75h0.5M86 26.75h1M89 26.75h0.5M91.5 26.75h0.5M94.5 26.75h1M41 27.25h0.5M44.5 27.25h0.5M46.5 27.25h0.5M50 27.25h1M54 27.25h0.5M55 27.25h0.5M65 27.25h0.5M67.5 27.25h0.5M71.5 27.25h0.5M85 27.25h0.5M86.5 27.25h0.5M89.5 27.25h0.5M94 27.25h0.5M97.5 27.25h0.5M41 27.75h0.5M49.5 27.75h0.5M65.5 27.75h0.5M87.5 27.75h0.5M98 27.75h1M65 28.25h0.5M69 28.25h0.5M71.5 28.25h0.5M73.5 28.25h1.5M79.5 28.25h0.5M80.5 28.25h0.5M85 28.25h0.5M87.5 28.25h1M89.5 28.25h1M42 28.75h0.5M47.5 28.75h0.5M49.5 28.75h0.5M55.5 28.75h0.5M58.5 28.75h0.5M60 28.75h0.5M63.5 28.75h0.5M64.5 28.75h1M66.5 28.75h0.5M67.5 28.75h0.5M71.5 28.75h0.5M73 28.75h0.5M87.5 28.75h0.5M90.5 28.75h0.5M93.5 28.75h1.5M96 28.75h0.5M42 29.25h0.5M46 29.25h0.5M47 29.25h1M49 29.25h0.5M50 29.25h0.5M52 29.25h0.5M53 29.25h0.5M56.5 29.25h0.5M61 29.25h0.5M69.5 29.25h0.5M80 29.25h0.5M85.5 29.25h0.5M86.5 29.25h1M88.5 29.25h0.5M89.5 29.25h0.5M93 29.25h0.5M94 29.25h0.5M97.5 29.25h1M43 29.75h0.5M46 29.75h0.5M47 29.75h0.5M60 29.75h0.5M62 29.75h0.5M66.5 29.75h0.5M69.5 29.75h0.5M73.5 29.75h0.5M82 29.75h0.5M86.5 29.75h0.5M88 29.75h0.5M89.5 29.75h0.5M90.5 29.75h0.5M94 29.75h0.5M97 29.75h0.5M98.5 29.75h0.5M44.5 30.25h0.5M45.5 30.25h0.5M48 30.25h0.5M51 30.25h0.5M53 30.25h0.5M55.5 30.25h0.5M58 30.25h0.5M59.5 30.25h0.5M62 30.25h0.5M65 30.25h0.5M66.5 30.25h0.5M69.5 30.25h0.5M73 30.25h0.5M76.5 30.25h0.5M91 30.25h0.5M42.5 30.75h1M49 30.75h1M51 30.75h0.5M58 30.75h0.5M60 30.75h0.5M61.5 30.75h0.5M64.5 30.75h0.5M71 30.75h0.5M76 30.75h0.5M77 30.75h0.5M86.5 30.75h0.5M88 30.75h0.5M89.5 30.75h1.5M95.5 30.75h0.5M42.5 31.25h0.5M53.5 31.25h0.5M55.5 31.25h0.5M57.5 31.25h0.5M59 31.25h0.5M60.5 31.25h0.5M62.5 31.25h0.5M63.5 31.25h0.5M68 31.25h0.5M70 31.25h0.5M72 31.25h0.5M73 31.25h1M76.5 31.25h0.5M79 31.25h0.5M84 31.25h0.5M86 31.25h0.5M91.5 31.25h0.5M41 31.75h0.5M42.5 31.75h0.5M51 31.75h0.5M52 31.75h0.5M53.5 31.75h1M60 31.75h0.5M61.5 31.75h0.5M63.5 31.75h0.5M65.5 31.75h0.5M69 31.75h0.5M70.5 31.75h0.5M82.5 31.75h0.5M88 31.75h0.5M89.5 31.75h1M94.5 31.75h0.5M56.5 32.25h0.5M59 32.25h0.5M62 32.25h0.5M64 32.25h0.5M66.5 32.25h1M69 32.25h0.5M70 32.25h1M71.5 32.25h0.5M76.5 32.25h0.5M81 32.25h0.5M89 32.25h0.5M90 32.25h0.5M91.5 32.25h0.5M41 32.75h0.5M44 32.75h0.5M59.5 32.75h1M66.5 32.75h1M69.5 32.75h0.5M72.5 32.75h0.5M77 32.75h0.5M86 32.75h0.5M87.5 32.75h1.5M41.5 33.25h0.5M43 33.25h1M46.5 33.25h1M48.5 33.25h0.5M50.5 33.25h1M56.5 33.25h1M58 33.25h0.5M63 33.25h0.5M64 33.25h0.5M65 33.25h0.5M86.5 33.25h0.5M90.5 33.25h0.5M93 33.25h0.5M97.5 33.25h0.5M41 33.75h0.5M44.5 33.75h0.5M45.5 33.75h0.5M51.5 33.75h0.5M52.5 33.75h0.5M53.5 33.75h0.5M57 33.75h0.5M58 33.75h0.5M59 33.75h0.5M61.5 33.75h0.5M63.5 33.75h0.5M68 33.75h0.5M70.5 33.75h0.5M73.5 33.75h1M76 33.75h0.5M77 33.75h0.5M79.5 33.75h0.5M84 33.75h0.5M86 33.75h0.5M89 33.75h0.5M92 33.75h0.5M96.5 33.75h0.5M45 34.25h0.5M46 34.25h0.5M48.5 34.25h0.5M51 34.25h0.5M75.5 34.25h0.5M81.5 34.25h0.5M89 34.25h0.5M90 34.25h1M41.5 34.75h0.5M49.5 34.75h1M51.5 34.75h0.5M54.5 34.75h1M57.5 34.75h0.5M60 34.75h0.5M61 34.75h0.5M64.5 34.75h0.5M68 34.75h1M71.5 34.75h0.5M72.5 34.75h0.5M77 34.75h0.5M86 34.75h0.5M88 34.75h0.5M91.5 34.75h1M94.5 34.75h0.5M100 34.75h0.5M41 35.25h0.5M42 35.25h0.5M44 35.25h0.5M45 35.25h0.5M47.5 35.25h0.5M49 35.25h0.5M50 35.25h0.5M59 35.25h1M62.5 35.25h0.5M65 35.25h0.5M68 35.25h1M73.5 35.25h0.5M76 35.25h0.5M77 35.25h0.5M91.5 35.25h0.5M95 35.25h0.5M45.5 35.75h0.5M47 35.75h0.5M49.5 35.75h1M54 35.75h0.5M56 35.75h1M58 35.75h0.5M59 35.75h1M61 35.75h0.5M65.5 35.75h0.5M70 35.75h1M73 35.75h0.5M74.5 35.75h0.5M80.5 35.75h0.5M81.5 35.75h0.5M88.5 35.75h0.5M89.5 35.75h0.5M90.5 35.75h0.5M94 35.75h0.5M41.5 36.25h0.5M44.5 36.25h1M48 36.25h0.5M49.5 36.25h0.5M54.5 36.25h0.5M57.5 36.25h0.5M58.5 36.25h0.5M59.5 36.25h0.5M68 36.25h0.5M70.5 36.25h0.5M72.5 36.25h0.5M75.5 36.25h1M80.5 36.25h0.5M81.5 36.25h0.5M42.5 36.75h0.5M44.5 36.75h0.5M46 36.75h0.5M47.5 36.75h1M52 36.75h0.5M54 36.75h0.5M55 36.75h0.5M59.5 36.75h0.5M61.5 36.75h1.5M65 36.75h0.5M66 36.75h0.5M69.5 36.75h0.5M71 36.75h0.5M73.5 36.75h0.5M74.5 36.75h0.5M75.5 36.75h0.5M91.5 36.75h0.5M94 36.75h0.5M41 37.25h0.5M42 37.25h0.5M46.5 37.25h0.5M48.5 37.25h0.5M49.5 37.25h0.5M53 37.25h1M55 37.25h0.5M56 37.25h0.5M58.5 37.25h0.5M60.5 37.25h0.5M62 37.25h0.5M63.5 37.25h0.5M64.5 37.25h0.5M65.5 37.25h0.5M73 37.25h0.5M75 37.25h0.5M83.5 37.25h1M88.5 37.25h0.5M94 37.25h0.5M96.5 37.25h0.5M98 37.25h0.5M42 37.75h0.5M47 37.75h1.5M49.5 37.75h0.5M51 37.75h1M57.5 37.75h0.5M61 37.75h0.5M62.5 37.75h0.5M64 37.75h0.5M65.5 37.75h0.5M69 37.75h0.5M70 37.75h0.5M74 37.75h0.5M85 37.75h0.5M87 37.75h0.5M98.5 37.75h0.5M42.5 38.25h0.5M48 38.25h0.5M49 38.25h0.5M51.5 38.25h0.5M53.5 38.25h0.5M57.5 38.25h0.5M61.5 38.25h0.5M64.5 38.25h0.5M70 38.25h0.5M76 38.25h0.5M77 38.25h0.5M83.5 38.25h0.5M84.5 38.25h0.5M86 38.25h1M91 38.25h0.5M93.5 38.25h0.5M95 38.25h0.5M42 38.75h0.5M45.5 38.75h0.5M48.5 38.75h0.5M50 38.75h0.5M52.5 38.75h0.5M54 38.75h0.5M56.5 38.75h0.5M62.5 38.75h0.5M65 38.75h0.5M67 38.75h0.5M68.5 38.75h0.5M75 38.75h0.5M87 38.75h0.5M89 38.75h0.5M92 38.75h0.5M43 39.25h0.5M49 39.25h0.5M51.5 39.25h0.5M52.5 39.25h1.5M55 39.25h0.5M59 39.25h1M61.5 39.25h0.5M62.5 39.25h1M68 39.25h0.5M71.5 39.25h0.5M72.5 39.25h0.5M73.5 39.25h0.5M77 39.25h0.5M82.5 39.25h0.5M84 39.25h0.5M85 39.25h0.5M87 39.25h0.5M90.5 39.25h0.5M96 39.25h0.5M44.5 39.75h0.5M46.5 39.75h0.5M48 39.75h0.5M51.5 39.75h0.5M54 39.75h1M60 39.75h0.5M63.5 39.75h0.5M73 39.75h1M77 39.75h1M80.5 39.75h0.5M84 39.75h0.5M85 39.75h0.5M86.5 39.75h0.5M88.5 39.75h0.5M95.5 39.75h0.5M45 40.25h1.5M50.5 40.25h0.5M51.5 40.25h0.5M53 40.25h0.5M55.5 40.25h0.5M56.5 40.25h0.5M58 40.25h1M61.5 40.25h0.5M62.5 40.25h0.5M64 40.25h0.5M72 40.25h0.5M73.5 40.25h0.5M75 40.25h0.5M84 40.25h0.5M85 40.25h0.5M92.5 40.25h0.5M48.5 40.75h0.5M49.5 40.75h1.5M52 40.75h1M54 40.75h0.5M56 40.75h1.5M59.5 40.75h0.5M60.5 40.75h0.5M61.5 40.75h1M63.5 40.75h0.5M65 40.75h0.5M67.5 40.75h0.5M69 40.75h0.5M70.5 40.75h0.5M73.5 40.75h1M76 40.75h0.5M86.5 40.75h0.5M88 40.75h0.5M89 40.75h0.5M93 40.75h0.5M43.5 41.25h0.5M46.5 41.25h0.5M50 41.25h0.5M58.5 41.25h1M61.5 41.25h0.5M63.5 41.25h0.5M66.5 41.25h2M75 41.25h0.5M84 41.25h0.5M85.5 41.25h0.5M87 41.25h0.5M95.5 41.25h0.5M44.5 41.75h0.5M46.5 41.75h0.5M51 41.75h0.5M54.5 41.75h0.5M56 41.75h0.5M57.5 41.75h0.5M60 41.75h0.5M63 41.75h0.5M66 41.75h1M69 41.75h0.5M71 41.75h0.5M72.5 41.75h0.5M75 41.75h0.5M77 41.75h0.5M87 41.75h1.5M42 42.25h0.5M45.5 42.25h0.5M47 42.25h1.5M51.5 42.25h0.5M55 42.25h0.5M56 42.25h0.5M57 42.25h0.5M58 42.25h1.5M61 42.25h1M62.5 42.25h1M64.5 42.25h0.5M70.5 42.25h0.5M72 42.25h0.5M83 42.25h0.5M92 42.25h0.5M41.5 42.75h0.5M42.5 42.75h0.5M43.5 42.75h0.5M48 42.75h0.5M49.5 42.75h0.5M51 42.75h2M53.5 42.75h0.5M54.5 42.75h1M56 42.75h1M60.5 42.75h0.5M62 42.75h0.5M64 42.75h2M68.5 42.75h1M70 42.75h0.5M72.5 42.75h0.5M76 42.75h0.5M77 42.75h0.5M83 42.75h0.5M86 42.75h0.5M90.5 42.75h0.5M41.5 43.25h1M45 43.25h0.5M47.5 43.25h0.5M51 43.25h1M60.5 43.25h0.5M62 43.25h1M63.5 43.25h0.5M65 43.25h0.5M67.5 43.25h1M70 43.25h0.5M75 43.25h1M78.5 43.25h0.5M83 43.25h0.5M85.5 43.25h1M94.5 43.25h0.5M45 43.75h0.5M47 43.75h1M49.5 43.75h0.5M55.5 43.75h1M58.5 43.75h1M62.5 43.75h0.5M63.5 43.75h0.5M65 43.75h0.5M73.5 43.75h0.5M76.5 43.75h0.5M84 43.75h0.5M89 43.75h0.5M91.5 43.75h0.5M92.5 43.75h0.5M93.5 43.75h0.5M97 43.75h0.5M41.5 44.25h1M43 44.25h0.5M46.5 44.25h0.5M48 44.25h0.5M49 44.25h0.5M51.5 44.25h0.5M52.5 44.25h0.5M56.5 44.25h0.5M58 44.25h0.5M60 44.25h1M63 44.25h0.5M65 44.25h0.5M66 44.25h1M71.5 44.25h0.5M75.5 44.25h0.5M85 44.25h0.5M87 44.25h0.5M41 44.75h1M46.5 44.75h1M48.5 44.75h0.5M50 44.75h0.5M51 44.75h0.5M52.5 44.75h1M56 44.75h0.5M57 44.75h0.5M60.5 44.75h0.5M63.5 44.75h0.5M67 44.75h0.5M68.5 44.75h1M70 44.75h0.5M73.5 44.75h0.5M76 44.75h0.5M77 44.75h0.5M89.5 44.75h0.5M98.5 44.75h0.5M41 45.25h1M42.5 45.25h0.5M45 45.25h1M49 45.25h0.5M50 45.25h0.5M52.5 45.25h0.5M55 45.25h0.5M56.5 45.25h0.5M62 45.25h0.5M71.5 45.25h0.5M73 45.25h0.5M76 45.25h0.5M77 45.25h0.5M91.5 45.25h0.5M41 45.75h1M45.5 45.75h0.5M53 45.75h0.5M56 45.75h0.5M58 45.75h1M62.5 45.75h0.5M65 45.75h1M69 45.75h0.5M72 45.75h0.5M76 45.75h1M80 45.75h0.5M82.5 45.75h0.5M84.5 45.75h0.5M85.5 45.75h0.5M88.5 45.75h1M97 45.75h0.5M100 45.75h0.5M41.5 46.25h0.5M44.5 46.25h0.5M46 46.25h1.5M48 46.25h0.5M53.5 46.25h0.5M56 46.25h0.5M57 46.25h0.5M58.5 46.25h0.5M60.5 46.25h0.5M62.5 46.25h0.5M63.5 46.25h1M66.5 46.25h0.5M69.5 46.25h0.5M73.5 46.25h0.5M76 46.25h0.5M83.5 46.25h0.5M89.5 46.25h1M42 46.75h0.5M44 46.75h1.5M46.5 46.75h0.5M48.5 46.75h0.5M50 46.75h0.5M51.5 46.75h1.5M55 46.75h0.5M63.5 46.75h0.5M70 46.75h0.5M71 46.75h0.5M75.5 46.75h1M79.5 46.75h0.5M85.5 46.75h0.5M41 47.25h0.5M45 47.25h0.5M47 47.25h0.5M49 47.25h0.5M50.5 47.25h0.5M51.5 47.25h2M58 47.25h0.5M62.5 47.25h0.5M65 47.25h0.5M68 47.25h0.5M73 47.25h0.5M76 47.25h1M42 47.75h0.5M48 47.75h0.5M51 47.75h0.5M52.5 47.75h0.5M55 47.75h0.5M59.5 47.75h1M61 47.75h0.5M62 47.75h0.5M63.5 47.75h0.5M66.5 47.75h1.5M71 47.75h0.5M76.5 47.75h0.5M85 47.75h0.5M86 47.75h0.5M98 47.75h0.5M42 48.25h0.5M46 48.25h0.5M47.5 48.25h0.5M49.5 48.25h1M51.5 48.25h0.5M55.5 48.25h0.5M58.5 48.25h0.5M59.5 48.25h1.5M63.5 48.25h1M66.5 48.25h0.5M69 48.25h0.5M70.5 48.25h0.5M72.5 48.25h0.5M73.5 48.25h0.5M75 48.25h0.5M79 48.25h0.5M83.5 48.25h0.5M43.5 48.75h1M46 48.75h1M49 48.75h0.5M55 48.75h1M60.5 48.75h0.5M64.5 48.75h1M66.5 48.75h1.5M68.5 48.75h1M75.5 48.75h0.5M77 48.75h0.5M84 48.75h0.5M97.5 48.75h0.5M41.5 49.25h0.5M44.5 49.25h0.5M47 49.25h1M49 49.25h0.5M53.5 49.25h0.5M58 49.25h0.5M59.5 49.25h1M62.5 49.25h0.5M64 49.25h0.5M66 49.25h0.5M67 49.25h0.5M69.5 49.25h0.5M70.5 49.25h0.5M73.5 49.25h0.5M88.5 49.25h0.5M96.5 49.25h0.5M41.5 49.75h1M44 49.75h0.5M51 49.75h0.5M53 49.75h0.5M59 49.75h1M64 49.75h0.5M65 49.75h0.5M67.5 49.75h0.5M69.5 49.75h0.5M72.5 49.75h0.5M73.5 49.75h2M77 49.75h0.5M84.5 49.75h0.5M87 49.75h0.5M42 50.25h1M44 50.25h1M45.5 50.25h0.5M46.5 50.25h0.5M50 50.25h0.5M51 50.25h0.5M53 50.25h1M55.5 50.25h0.5M63.5 50.25h0.5M65 50.25h2M67.5 50.25h0.5M69.5 50.25h0.5M73 50.25h0.5M74 50.25h0.5M75.5 50.25h0.5M77 50.25h0.5M41 50.75h0.5M42 50.75h0.5M45 50.75h0.5M48.5 50.75h0.5M56 50.75h0.5M59.5 50.75h0.5M61.5 50.75h0.5M65 50.75h0.5M70 50.75h0.5M72.5 50.75h0.5M74 50.75h0.5M87 50.75h0.5M91 50.75h0.5M44.5 51.25h0.5M46.5 51.25h1M50 51.25h0.5M53.5 51.25h1M63.5 51.25h0.5M68.5 51.25h0.5M70.5 51.25h1.5M80.5 51.25h0.5M84.5 51.25h0.5M89.5 51.25h1.5M41.5 51.75h0.5M44 51.75h0.5M46.5 51.75h0.5M47.5 51.75h1.5M53.5 51.75h1M55 51.75h0.5M56.5 51.75h1M58 51.75h0.5M67 51.75h0.5M68.5 51.75h0.5M73.5 51.75h0.5M41.5 52.25h1M43 52.25h0.5M46 52.25h0.5M51.5 52.25h0.5M52.5 52.25h0.5M59 52.25h1M63 52.25h1M64.5 52.25h0.5M68.5 52.25h0.5M75.5 52.25h0.5M86 52.25h0.5M87 52.25h0.5M92.5 52.25h0.5M41 52.75h0.5M45.5 52.75h0.5M54 52.75h0.5M58.5 52.75h0.5M60 52.75h1M61.5 52.75h0.5M63 52.75h0.5M64.5 52.75h0.5M68 52.75h0.5M73.5 52.75h1M86.5 53.25h0.5" stroke="#000" stroke-opacity="0.5" stroke-width="0.6" fill="none"/>
<path d="M184 54h1.5v0.5h-1.5zM190.5 54.5h1v0.5h-1zM187 54.5h1v0.5h-1zM180.5 54.5h5v0.5h-5zM178 55h0.5v0.5h-0.5zM171.5 55h1v0.5h-1zM180 55h7.5v0.5h-7.5zM189.5 55h2.5v0.5h-2.5zM173 55h1v0.5h-1zM175.5 55h1.5v0.5h-1.5zM169.5 55h1.5v0.5h-1.5zM175.5 55.5h16.5v0.5h-16.5zM168 55.5h6v0.5h-6zM165 55.5h2v0.5h-2zM177.5 56h17.5v0.5h-17.5zM175 56h2v0.5h-2zM164.5 56h10v0.5h-10zM168.5 56.5h27v0.5h-27zM159 56.5h8v0.5h-8zM158 57h37.5v0.5h-37.5zM154.5 57.5h1.5v0.5h-1.5zM157 57.5h38.5v0.5h-38.5zM154 58h42v0.5h-42zM154 58.5h43.5v0.5h-43.5zM198 59h0.5v0.5h-0.5zM152 59h45.5v0.5h-45.5zM148.5 59.5h49v0.5h-49zM147 60h50.5v0.5h-50.5zM198 60h0.5v1h-0.5zM145.5 60.5h52v0.5h-52zM145.5 61h53v0.5h-53zM144.5 61.5h54v0.5h-54zM143 62h55.5v0.5h-55.5zM142 62.5h56.5v0.5h-56.5zM142.5 63h56.5v0.5h-56.5zM142 63.5h58v0.5h-58zM142 64h58.5v0.5h-58.5zM142 64.5h58v1h-58zM142.5 65.5h57.5v1h-57.5zM200 67h1v0.5h-1zM142 66.5h57.5v1.5h-57.5zM200 67.5h0.5v0.5h-0.5zM142 68h58.5v3h-58.5zM142 71h58v1h-58zM142 72h58.5v2h-58.5zM142 74h58v1h-58zM142.5 75h57.5v0.5h-57.5zM142 75.5h58v0.5h-58zM142 76h57.5v0.5h-57.5zM142 76.5h58v0.5h-58zM142 77h57.5v0.5h-57.5zM142 77.5h58v0.5h-58zM142 78h56.5v0.5h-56.5zM175.5 78.5h24v0.5h-24zM142 78.5h32v0.5h-32zM142 79h30.5v0.5h-30.5zM174.5 79h24.5v0.5h-24.5zM142 79.5h30v0.5h-30zM175 79.5h25v0.5h-25zM174 79.5h0.5v1h-0.5zM176 80h0.5v0.5h-0.5zM142.5 80h29.5v0.5h-29.5zM177 80h22v0.5h-22zM177.5 80.5h21.5v0.5h-21.5zM142.5 80.5h30v0.5h-30zM177.5 81h1v0.5h-1zM179 81h19.5v0.5h-19.5zM143 81h29.5v0.5h-29.5zM143 81.5h29v0.5h-29zM179 81.5h19v0.5h-19zM143 82h28.5v0.5h-28.5zM179.5 82h18.5v0.5h-18.5zM143.5 82.5h27v0.5h-27zM180 82.5h18.5v0.5h-18.5zM144.5 83h25v0.5h-25zM180.5 83h17v0.5h-17zM180 83.5h17.5v0.5h-17.5zM145 83.5h24v0.5h-24zM145 84h23.5v0.5h-23.5zM181 84h17v0.5h-17zM146 84.5h22.5v0.5h-22.5zM146.5 85h22v0.5h-22zM181 84.5h17.5v1.5h-17.5zM146.5 85.5h21.5v1h-21.5zM181.5 86h17v0.5h-17zM182 86.5h16.5v0.5h-16.5zM146 86.5h21.5v0.5h-21.5zM181.5 87h17v0.5h-17zM148 87h20v0.5h-20zM151 87.5h17v0.5h-17zM181.5 87.5h16.5v0.5h-16.5zM149 87.5h1.5v0.5h-1.5zM182 88h0.5v0.5h-0.5zM184 88h13v0.5h-13zM167 88h1v0.5h-1zM152 88h14v0.5h-14z" fill="#0b0b0b"/>
<path d="M189 17.75h0.5M188 18.25h0.5M221.5 18.25h0.5M180 18.75h0.5M180.5 19.25h0.5M194.5 19.25h0.5M161 19.75h0.5M190 19.75h0.5M174.5 20.25h0.5M195.5 20.25h0.5M142.5 21.25h0.5M157.5 21.75h0.5M163.5 22.25h0.5M192.5 22.75h0.5M151 23.25h0.5M192.5 23.25h0.5M177.5 23.75h0.5M200.5 23.75h0.5M162.5 24.25h0.5M179 24.25h0.5M189 24.25h0.5M182.5 24.75h0.5M195.5 25.25h0.5M144.5 25.75h0.5M186.5 25.75h0.5M144 26.25h0.5M156 26.25h0.5M185 26.25h0.5M214 26.25h0.5M153.5 26.75h0.5M181.5 26.75h0.5M152.5 27.25h0.5M158 27.25h0.5M178 27.25h0.5M145.5 27.75h0.5M146 28.25h0.5M195 28.25h0.5M147.5 28.75h0.5M181 28.75h0.5M186 28.75h0.5M192.5 28.75h0.5M193.5 28.75h0.5M175.5 29.25h0.5M191 29.25h0.5M149 29.75h0.5M159.5 29.75h0.5M189.5 29.75h1M157 30.25h1M188 30.25h0.5M194.5 30.25h0.5M148.5 30.75h0.5M191.5 30.75h0.5M210.5 30.75h0.5M159 31.25h0.5M185 31.25h0.5M191 31.25h0.5M201 31.25h0.5M142.5 31.75h0.5M168.5 31.75h0.5M180 31.75h0.5M183 31.75h0.5M196.5 31.75h0.5M148.5 32.75h0.5M165.5 32.75h0.5M169.5 32.75h0.5M172 32.75h0.5M181 32.75h0.5M153 33.25h0.5M164 33.25h0.5M165.5 33.25h0.5M188.5 33.25h0.5M190.5 33.25h0.5M172 33.75h0.5M173.5 33.75h0.5M182.5 33.75h0.5M183.5 33.75h0.5M188.5 33.75h0.5M148 34.25h0.5M151 34.25h0.5M175.5 34.25h0.5M186 34.25h0.5M187 34.25h0.5M153 34.75h0.5M155 34.75h0.5M159.5 34.75h0.5M164 34.75h1M170 34.75h0.5M172 34.75h0.5M176.5 34.75h0.5M179.5 34.75h1M220.5 34.75h0.5M144.5 35.25h0.5M147 35.25h0.5M177 35.25h0.5M188 35.25h0.5M191 35.25h0.5M195 35.25h0.5M157.5 35.75h0.5M159.5 35.75h0.5M169 35.75h0.5M174 35.75h0.5M191 35.75h0.5M143 36.25h0.5M149 36.25h0.5M152.5 36.25h0.5M194.5 36.25h0.5M196 36.25h0.5M156 36.75h0.5M161.5 36.75h0.5M171.5 36.75h0.5M182 36.75h0.5M187 36.75h0.5M146 37.25h0.5M154 37.25h0.5M171.5 37.25h0.5M184.5 37.25h0.5M190 37.25h0.5M161 37.75h1M196.5 37.75h0.5M144 38.25h0.5M152 38.25h0.5M155 38.25h0.5M158 38.25h0.5M168 38.25h0.5M176.5 38.25h0.5M192.5 38.25h0.5M142 38.75h1M170 38.75h0.5M183 38.75h0.5M153.5 39.25h0.5M159 39.25h0.5M183 39.25h0.5M187 39.25h0.5M188 39.25h1M165 39.75h0.5M173.5 39.75h1M176.5 39.75h0.5M195 39.75h0.5M146.5 40.25h0.5M151.5 40.25h0.5M165 40.25h0.5M170 40.25h0.5M176.5 40.25h0.5M194 40.25h0.5M197 40.25h0.5M198 40.25h0.5M144.5 40.75h0.5M148.5 40.75h0.5M171 40.75h0.5M144.5 41.25h0.5M150.5 41.25h0.5M152 41.25h0.5M155.5 41.25h0.5M161.5 41.25h0.5M176 41.25h0.5M182.5 41.25h1M185.5 41.25h0.5M189 41.25h0.5M190.5 41.25h0.5M153 41.75h0.5M156 41.75h0.5M164 41.75h0.5M178 41.75h0.5M179.5 41.75h0.5M182 41.75h0.5M187 41.75h0.5M191 41.75h1M195 41.75h0.5M142 42.25h1M154 42.25h0.5M159.5 42.25h0.5M163.5 42.25h1M166 42.25h0.5M167.5 42.25h0.5M169.5 42.25h0.5M179.5 42.25h0.5M181 42.25h0.5M182.5 42.25h0.5M190 42.25h0.5M145.5 42.75h0.5M148 42.75h0.5M157 42.75h0.5M161 42.75h0.5M162 42.75h1M165.5 42.75h1M167.5 42.75h0.5M184 42.75h1M203.5 42.75h0.5M148 43.25h0.5M159.5 43.25h0.5M165 43.25h1M167.5 43.25h0.5M176.5 43.25h0.5M177.5 43.25h1M179 43.25h0.5M182 43.25h0.5M185 43.25h0.5M188 43.25h0.5M190.5 43.25h0.5M149.5 43.75h0.5M154.5 43.75h0.5M156.5 43.75h0.5M161.5 43.75h0.5M162.5 43.75h1M164 43.75h0.5M168 43.75h0.5M169 43.75h1M174 43.75h0.5M175 43.75h0.5M176 43.75h0.5M177 43.75h0.5M178 43.75h0.5M184 43.75h0.5M148 44.25h0.5M160 44.25h1M161.5 44.25h0.5M166 44.25h1.5M168 44.25h0.5M169.5 44.25h0.5M172.5 44.25h1.5M175 44.25h0.5M176.5 44.25h0.5M179.5 44.25h0.5M180.5 44.25h0.5M181.5 44.25h0.5M191 44.25h0.5M194.5 44.25h0.5M196 44.25h0.5M155 44.75h0.5M156 44.75h0.5M158.5 44.75h0.5M169.5 44.75h0.5M170.5 44.75h0.5M172 44.75h0.5M174.5 44.75h1M180.5 44.75h1M182.5 44.75h0.5M183.5 44.75h0.5M189.5 44.75h0.5M191.5 44.75h0.5M193.5 44.75h0.5M198.5 44.75h0.5M143.5 45.25h0.5M146 45.25h1M151.5 45.25h0.5M155 45.25h0.5M159 45.25h0.5M160 45.25h0.5M161 45.25h0.5M162 45.25h0.5M163.5 45.25h0.5M166 45.25h0.5M167 45.25h1M171 45.25h0.5M172 45.25h0.5M173 45.25h1M174.5 45.25h0.5M175.5 45.25h1M179 45.25h0.5M182.5 45.25h0.5M183.5 45.25h0.5M188.5 45.25h0.5M146.5 45.75h0.5M152.5 45.75h0.5M155.5 45.75h0.5M156.5 45.75h0.5M159 45.75h1M161 45.75h1.5M164 45.75h1M165.5 45.75h0.5M166.5 45.75h0.5M167.5 45.75h0.5M168.5 45.75h0.5M169.5 45.75h1M171 45.75h0.5M172.5 45.75h1M175 45.75h0.5M183 45.75h0.5M187 45.75h0.5M190 45.75h0.5M148.5 46.25h0.5M150 46.25h0.5M152 46.25h0.5M153.5 46.25h1M158 46.25h1M161 46.25h1M162.5 46.25h0.5M164 46.25h1M166 46.25h1M168.5 46.25h1M171.5 46.25h0.5M173 46.25h1M174.5 46.25h0.5M177.5 46.25h0.5M179.5 46.25h0.5M182.5 46.25h0.5M184.5 46.25h1.5M187.5 46.25h0.5M213 46.25h0.5M149.5 46.75h0.5M152 46.75h0.5M158 46.75h2M163 46.75h0.5M164.5 46.75h0.5M165.5 46.75h0.5M167 46.75h0.5M168.5 46.75h0.5M169.5 46.75h1.5M172 46.75h2M174.5 46.75h0.5M175.5 46.75h1.5M177.5 46.75h1.5M180.5 46.75h0.5M182 46.75h0.5M184.5 46.75h1M187.5 46.75h0.5M190 46.75h0.5M192.5 46.75h0.5M194 46.75h0.5M195 46.75h0.5M144 47.25h0.5M147 47.25h0.5M148 47.25h0.5M153 47.25h0.5M154 47.25h1.5M157 47.25h0.5M158 47.25h1M159.5 47.25h0.5M161 47.25h1.5M163 47.25h2M167 47.25h1M168.5 47.25h0.5M171 47.25h0.5M172 47.25h1M174.5 47.25h0.5M176 47.25h0.5M177.5 47.25h1M179 47.25h1.5M181.5 47.25h1.5M183.5 47.25h1M185.5 47.25h0.5M190 47.25h0.5M192.5 47.25h0.5M146 47.75h0.5M149.5 47.75h0.5M154.5 47.75h0.5M157.5 47.75h0.5M158.5 47.75h1.5M161 47.75h0.5M163 47.75h0.5M164 47.75h1M166 47.75h2M168.5 47.75h0.5M169.5 47.75h1M171 47.75h1M173 47.75h2M176 47.75h1M178 47.75h0.5M179 47.75h1M180.5 47.75h1M182.5 47.75h0.5M185.5 47.75h0.5M189.5 47.75h0.5M201 47.75h0.5M146 48.25h0.5M156 48.25h1M158 48.25h1M160 48.25h1M162 48.25h3.5M166.5 48.25h0.5M167.5 48.25h5M173 48.25h0.5M174 48.25h0.5M175 48.25h1M176.5 48.25h1M178 48.25h0.5M179 48.25h1M181.5 48.25h0.5M183 48.25h0.5M184 48.25h0.5M185.5 48.25h1M187.5 48.25h0.5M192.5 48.25h0.5M193.5 48.25h0.5M195 48.25h0.5M201.5 48.25h0.5M151 48.75h0.5M153 48.75h0.5M155 48.75h0.5M156 48.75h0.5M157 48.75h2M159.5 48.75h0.5M161 48.75h2M163.5 48.75h2M167 48.75h0.5M168.5 48.75h1M171 48.75h2.5M174 48.75h2.5M177.5 48.75h0.5M181.5 48.75h1.5M184 48.75h0.5M185 48.75h0.5M186 48.75h0.5M187.5 48.75h0.5M188.5 48.75h0.5M191.5 48.75h0.5M212 48.75h0.5M147.5 49.25h0.5M150 49.25h0.5M154.5 49.25h0.5M155.5 49.25h0.5M157.5 49.25h0.5M159 49.25h1M160.5 49.25h0.5M162 49.25h1M164 49.25h1.5M166 49.25h1M167.5 49.25h0.5M168.5 49.25h0.5M170 49.25h0.5M171 49.25h1.5M173 49.25h2.5M176.5 49.25h0.5M177.5 49.25h2M180 49.25h3.5M185 49.25h1.5M187 49.25h1M190.5 49.25h0.5M144 49.75h0.5M148 49.75h0.5M152 49.75h1M155.5 49.75h2.5M159 49.75h1.5M161 49.75h0.5M162 49.75h3.5M166 49.75h0.5M167 49.75h1.5M169 49.75h0.5M170 49.75h0.5M171.5 49.75h0.5M172.5 49.75h0.5M173.5 49.75h1.5M175.5 49.75h0.5M176.5 49.75h3M180.5 49.75h0.5M181.5 49.75h0.5M182.5 49.75h3.5M186.5 49.75h0.5M188 49.75h0.5M190 49.75h0.5M193 49.75h0.5M194 49.75h0.5M149.5 50.25h1M151 50.25h0.5M152.5 50.25h0.5M154.5 50.25h0.5M155.5 50.25h0.5M159.5 50.25h5M165.5 50.25h1M167 50.25h2M169.5 50.25h3.5M173.5 50.25h1M175 50.25h1.5M178 50.25h1.5M180 50.25h1M182 50.25h0.5M183 50.25h0.5M184.5 50.25h0.5M186.5 50.25h0.5M188 50.25h1M189.5 50.25h0.5M191 50.25h0.5M143 50.75h0.5M147 50.75h0.5M148 50.75h0.5M149 50.75h0.5M151 50.75h0.5M155.5 50.75h0.5M158 50.75h0.5M159 50.75h1M160.5 50.75h2.5M163.5 50.75h0.5M164.5 50.75h1M166 50.75h4.5M171 50.75h3M176.5 50.75h2.5M179.5 50.75h1.5M182.5 50.75h0.5M183.5 50.75h1M185 50.75h0.5M186 50.75h1M187.5 50.75h0.5M188.5 50.75h1M194.5 50.75h0.5M199 50.75h0.5M205.5 50.75h0.5M149 51.25h0.5M150 51.25h0.5M154.5 51.25h1M157 51.25h0.5M158.5 51.25h1.5M160.5 51.25h2M164 51.25h1M166 51.25h1.5M168.5 51.25h0.5M169.5 51.25h3.5M173.5 51.25h3.5M178 51.25h1M179.5 51.25h1M181 51.25h2M183.5 51.25h0.5M185.5 51.25h0.5M187 51.25h0.5M190 51.25h0.5M191.5 51.25h0.5M147.5 51.75h0.5M148.5 51.75h0.5M153 51.75h0.5M155 51.75h0.5M157.5 51.75h0.5M159 51.75h1M160.5 51.75h0.5M162 51.75h2M164.5 51.75h1M166 51.75h5M172 51.75h2.5M175 51.75h0.5M176 51.75h4.5M181 51.75h1.5M183 51.75h1.5M185 51.75h1M186.5 51.75h2.5M190.5 51.75h0.5M191.5 51.75h0.5M193 51.75h1M196.5 51.75h0.5M199.5 51.75h0.5M146 52.25h0.5M148.5 52.25h0.5M151.5 52.25h0.5M157.5 52.25h1.5M159.5 52.25h1M161 52.25h2M163.5 52.25h0.5M164.5 52.25h2M167.5 52.25h9M177 52.25h1M178.5 52.25h1.5M181 52.25h1.5M183 52.25h1M184.5 52.25h2M187 52.25h1.5M190 52.25h0.5M195.5 52.25h0.5M215 52.25h0.5M146 52.75h0.5M147.5 52.75h0.5M149 52.75h0.5M151.5 52.75h0.5M152.5 52.75h0.5M154 52.75h1M156 52.75h0.5M157 52.75h0.5M158 52.75h0.5M159 52.75h2M162 52.75h2.5M165.5 52.75h2M168 52.75h2M170.5 52.75h1M172 52.75h1.5M174 52.75h0.5M175 52.75h3.5M179 52.75h1M180.5 52.75h1.5M183 52.75h2M185.5 52.75h3M191.5 52.75h0.5M193 52.75h0.5M148.5 53.25h0.5M152.5 53.25h1.5M156.5 53.25h0.5M157.5 53.25h1M159 53.25h0.5M160.5 53.25h1M162.5 53.25h1M165 53.25h1M166.5 53.25h2.5M169.5 53.25h8M178 53.25h4M182.5 53.25h0.5M183.5 53.25h0.5M184.5 53.25h0.5M185.5 53.25h1M187.5 53.25h0.5M188.5 53.25h1M190.5 53.25h1.5M192.5 53.25h0.5M193.5 53.25h2M199.5 53.25h0.5M215 53.25h0.5M142.5 53.75h0.5M152 53.75h1M153.5 53.75h0.5M154.5 53.75h0.5M156 53.75h2M158.5 53.75h0.5M160 53.75h2M162.5 53.75h1.5M164.5 53.75h7.5M172.5 53.75h3.5M176.5 53.75h1M178 53.75h2.5M181 53.75h3M184.5 53.75h2.5M187.5 53.75h0.5M188.5 53.75h1.5M190.5 53.75h1M192.5 53.75h1.5M194.5 53.75h0.5M195.5 53.75h1M202.5 53.75h0.5M148 54.25h0.5M149.5 54.25h0.5M150.5 54.25h0.5M151.5 54.25h0.5M154 54.25h0.5M156.5 54.25h0.5M157.5 54.25h2.5M160.5 54.25h2M163 54.25h9.5M173.5 54.25h1M175 54.25h2.5M178 54.25h3.5M182 54.25h2M185.5 54.25h3.5M189.5 54.25h1M191 54.25h1M193.5 54.25h1M213.5 54.25h0.5M145.5 54.75h0.5M152 54.75h0.5M153 54.75h0.5M154 54.75h0.5M159 54.75h0.5M161 54.75h0.5M162 54.75h1.5M164 54.75h1M165.5 54.75h0.5M167 54.75h13.5M185.5 54.75h1.5M188 54.75h2.5M191.5 54.75h1M193 54.75h1.5M197.5 54.75h0.5M199 54.75h0.5M201.5 54.75h0.5M145.5 55.25h0.5M149.5 55.25h1M152.5 55.25h1M154 55.25h2.5M157 55.25h1M158.5 55.25h1M160 55.25h1M162 55.25h1M163.5 55.25h2.5M166.5 55.25h0.5M167.5 55.25h2M171 55.25h0.5M172.5 55.25h0.5M174.5 55.25h1M177 55.25h0.5M178.5 55.25h1.5M187.5 55.25h2M192 55.25h0.5M193 55.25h1M194.5 55.25h0.5M196 55.25h1M197.5 55.25h0.5M204 55.25h0.5M149 55.75h0.5M150.5 55.75h0.5M152 55.75h1M155 55.75h0.5M156 55.75h1M157.5 55.75h1.5M160 55.75h3M163.5 55.75h1.5M167 55.75h1M174 55.75h1.5M192 55.75h3.5M196.5 55.75h0.5M197.5 55.75h1.5M206.5 55.75h0.5M147 56.25h0.5M148 56.25h0.5M149 56.25h0.5M150 56.25h1M151.5 56.25h0.5M153 56.25h1.5M157.5 56.25h0.5M159 56.25h0.5M160 56.25h1M161.5 56.25h3M174.5 56.25h0.5M177 56.25h0.5M195 56.25h1.5M197 56.25h1M198.5 56.25h0.5M200 56.25h0.5M143 56.75h1.5M146.5 56.75h1.5M148.5 56.75h0.5M150 56.75h2.5M154.5 56.75h1.5M156.5 56.75h1M158 56.75h1M167 56.75h1.5M196 56.75h0.5M197 56.75h0.5M200 56.75h0.5M203.5 56.75h0.5M144.5 57.25h1M146.5 57.25h0.5M148 57.25h1M150.5 57.25h0.5M151.5 57.25h0.5M152.5 57.25h0.5M153.5 57.25h4.5M195.5 57.25h1M197 57.25h1M200 57.25h0.5M144.5 57.75h1.5M147 57.75h1M149.5 57.75h0.5M150.5 57.75h0.5M152.5 57.75h0.5M153.5 57.75h1M156 57.75h1M195.5 57.75h3.5M200.5 57.75h0.5M203.5 57.75h0.5M145.5 58.25h1M147 58.25h0.5M148 58.25h1.5M150 58.25h4M196 58.25h1M197.5 58.25h3M202.5 58.25h1M143.5 58.75h0.5M145 58.75h0.5M147 58.75h2M149.5 58.75h0.5M150.5 58.75h0.5M151.5 58.75h2.5M197.5 58.75h1M199 58.75h0.5M142.5 59.25h1M144 59.25h0.5M147 59.25h2.5M150 59.25h2M197.5 59.25h0.5M198.5 59.25h1M200 59.25h0.5M205.5 59.25h1M143.5 59.75h0.5M144.5 59.75h0.5M146 59.75h2.5M197.5 59.75h1M199 59.75h0.5M200 59.75h1.5M203 59.75h0.5M204.5 59.75h0.5M217.5 59.75h0.5M143 60.25h1M144.5 60.25h2.5M197.5 60.25h0.5M198.5 60.25h1M200 60.25h0.5M201.5 60.25h0.5M203 60.25h0.5M212.5 60.25h0.5M142 60.75h1M143.5 60.75h0.5M144.5 60.75h0.5M197.5 60.75h0.5M198.5 60.75h0.5M200.5 60.75h0.5M202 60.75h1M203.5 60.75h1M142.5 61.25h3M198.5 61.25h1.5M200.5 61.25h0.5M202 61.25h0.5M204 61.25h1.5M207 61.25h0.5M142.5 61.75h1M144 61.75h0.5M198.5 61.75h1.5M200.5 61.75h0.5M142.5 62.25h0.5M198.5 62.25h1.5M201.5 62.25h2M198.5 62.75h2M203 62.75h1M204.5 62.75h0.5M142 63.25h0.5M199 63.25h1M200.5 63.25h2M203.5 63.25h0.5M207 63.25h0.5M200 63.75h1.5M202 63.75h0.5M203 63.75h0.5M204 63.75h1M209 63.75h0.5M200.5 64.25h2M203 64.25h0.5M207.5 64.25h1.5M211.5 64.25h0.5M200 64.75h1M201.5 64.75h0.5M202.5 64.75h0.5M203.5 64.75h0.5M204.5 64.75h0.5M200 65.25h2M205.5 65.25h0.5M207 65.25h0.5M142 65.75h0.5M200 65.75h1M215.5 65.75h0.5M142 66.25h0.5M200 66.25h3.5M204 66.25h0.5M205 66.25h0.5M199.5 66.75h2M202 66.75h0.5M205.5 66.75h0.5M208 66.75h0.5M199.5 67.25h0.5M201 67.25h2M199.5 67.75h0.5M201 67.75h0.5M206 67.75h0.5M200.5 68.25h1M200.5 68.75h1.5M202.5 68.75h0.5M212.5 68.75h0.5M200.5 69.25h0.5M201.5 69.25h0.5M202.5 69.25h0.5M203.5 69.25h1M205 69.25h1M200.5 69.75h2M203.5 69.75h0.5M200.5 70.25h3M207.5 70.25h1M200.5 70.75h0.5M202 70.75h0.5M200 71.25h0.5M201 71.25h0.5M202.5 71.25h1M204 71.25h1M208 71.25h0.5M200 71.75h2M203 71.75h0.5M205 71.75h0.5M200.5 72.25h1.5M204 72.25h1M208 72.25h0.5M217 72.25h0.5M200.5 72.75h2M210.5 72.75h0.5M200.5 73.25h1M204 73.25h0.5M200.5 73.75h2M203 73.75h0.5M204.5 73.75h1M209 73.75h0.5M217 73.75h0.5M222 73.75h0.5M200 74.25h2.5M206 74.25h0.5M200 74.75h2.5M203 74.75h0.5M142 75.25h0.5M200 75.25h2M204 75.25h0.5M211.5 75.25h0.5M200 75.75h2M203 75.75h0.5M204.5 75.75h1M210 75.75h0.5M199.5 76.25h2.5M205.5 76.25h0.5M200 76.75h2.5M203.5 76.75h0.5M205.5 76.75h0.5M206.5 76.75h0.5M199.5 77.25h3M204 77.25h0.5M209.5 77.25h0.5M200 77.75h0.5M201.5 77.75h1M203 77.75h0.5M207.5 77.75h0.5M198.5 78.25h3.5M174 78.75h1.5M199.5 78.75h4M204 78.75h0.5M172.5 79.25h2M199 79.25h2M202 79.25h0.5M172 79.75h2M174.5 79.75h0.5M200 79.75h1.5M142 80.25h0.5M172 80.25h0.5M173 80.25h1M174.5 80.25h1.5M176.5 80.25h0.5M199 80.25h1M200.5 80.25h2.5M142 80.75h0.5M172.5 80.75h1M174 80.75h3.5M199 80.75h3M202.5 80.75h0.5M142 81.25h1M172.5 81.25h2.5M175.5 81.25h0.5M176.5 81.25h1M178.5 81.25h0.5M198.5 81.25h3M202.5 81.25h1M206 81.25h0.5M142 81.75h1M172 81.75h1.5M174 81.75h1M175.5 81.75h0.5M177 81.75h2M198 81.75h2M201.5 81.75h0.5M202.5 81.75h0.5M210 81.75h0.5M142.5 82.25h0.5M171.5 82.25h2.5M175 82.25h0.5M176.5 82.25h1.5M178.5 82.25h1M198 82.25h3M202 82.25h1M142 82.75h1.5M170.5 82.75h1.5M174 82.75h0.5M175.5 82.75h1M177 82.75h3M198.5 82.75h3M207.5 82.75h0.5M143 83.25h1.5M169.5 83.25h4.5M175 83.25h0.5M178 83.25h2.5M197.5 83.25h2.5M201 83.25h1M208.5 83.25h0.5M142 83.75h1.5M144 83.75h1M169 83.75h1M170.5 83.75h0.5M171.5 83.75h1.5M173.5 83.75h0.5M174.5 83.75h1M176.5 83.75h1M178 83.75h0.5M179 83.75h1M197.5 83.75h2.5M205 83.75h0.5M143 84.25h0.5M144 84.25h1M168.5 84.25h1.5M170.5 84.25h0.5M171.5 84.25h1M173.5 84.25h0.5M174.5 84.25h1M177 84.25h0.5M178 84.25h3M198 84.25h0.5M199 84.25h0.5M201 84.25h0.5M206.5 84.25h0.5M215 84.25h0.5M142 84.75h0.5M144 84.75h0.5M145 84.75h1M168.5 84.75h3M175 84.75h0.5M176 84.75h0.5M178 84.75h0.5M179 84.75h2M199 84.75h0.5M201 84.75h1M204.5 84.75h0.5M212.5 84.75h0.5M143 85.25h1M145.5 85.25h1M168.5 85.25h2M172 85.25h0.5M173 85.25h0.5M175 85.25h0.5M177.5 85.25h1M179 85.25h0.5M180 85.25h1M199 85.25h0.5M200 85.25h0.5M143 85.75h0.5M144 85.75h0.5M145.5 85.75h1M168 85.75h3M171.5 85.75h0.5M178 85.75h0.5M179 85.75h1.5M198.5 85.75h0.5M199.5 85.75h0.5M144 86.25h2.5M168 86.25h3M171.5 86.25h1M173 86.25h0.5M177.5 86.25h0.5M178.5 86.25h3M198.5 86.25h1M200 86.25h0.5M203 86.25h0.5M142 86.75h0.5M144.5 86.75h1.5M167.5 86.75h1.5M172 86.75h0.5M173 86.75h0.5M175 86.75h0.5M177.5 86.75h0.5M180.5 86.75h1.5M198.5 86.75h2M202.5 86.75h0.5M203.5 86.75h0.5M146.5 87.25h1.5M168 87.25h1.5M170 87.25h1M172 87.25h0.5M175.5 87.25h2M179 87.25h2.5M198.5 87.25h1M201.5 87.25h0.5M202.5 87.25h0.5M204 87.25h0.5M147 87.75h2M150.5 87.75h0.5M168 87.75h1M170.5 87.75h0.5M173.5 87.75h0.5M176.5 87.75h1M178.5 87.75h3M198.5 87.75h3.5M203.5 87.75h0.5M142 88.25h0.5M146 88.25h1M148 88.25h4M166 88.25h1M168.5 88.25h0.5M170 88.25h0.5M171 88.25h0.5M175 88.25h0.5M176 88.25h0.5M179 88.25h0.5M180 88.25h2M182.5 88.25h1.5M197 88.25h0.5M198 88.25h1.5M200 88.25h0.5M201 88.25h0.5M209.5 88.25h0.5" stroke="#000" stroke-width="0.7" fill="none"/>
<path d="M148 16.25h1M159 16.75h0.5M177.5 16.75h0.5M182 16.75h0.5M190 16.75h0.5M147 17.25h0.5M152.5 17.25h0.5M155.5 17.25h0.5M157.5 17.25h0.5M163 17.25h0.5M164 17.25h0.5M175.5 17.75h0.5M186.5 17.75h0.5M143 18.25h0.5M152 18.25h0.5M156.5 18.25h1M158.5 18.25h0.5M162 18.25h0.5M152.5 18.75h0.5M154.5 18.75h0.5M165.5 18.75h0.5M166.5 18.75h0.5M170 18.75h0.5M178 18.75h0.5M144.5 19.25h0.5M149.5 19.25h0.5M187 19.25h0.5M190 19.25h0.5M193.5 19.25h0.5M156.5 19.75h0.5M163 19.75h0.5M165.5 19.75h0.5M168 19.75h0.5M177 19.75h0.5M143.5 20.25h0.5M148.5 20.25h0.5M156.5 20.25h0.5M162 20.25h0.5M166 20.25h0.5M186 20.25h0.5M199.5 20.25h0.5M143 20.75h0.5M146.5 20.75h0.5M160.5 20.75h0.5M188 20.75h0.5M147.5 21.25h1M154 21.25h0.5M173 21.25h0.5M178 21.25h0.5M189.5 21.25h0.5M145.5 21.75h0.5M153.5 21.75h0.5M161.5 21.75h0.5M165 21.75h0.5M174 21.75h0.5M181.5 21.75h0.5M146.5 22.25h0.5M148 22.25h0.5M149.5 22.25h0.5M155 22.25h0.5M159.5 22.25h0.5M170.5 22.25h0.5M175 22.25h0.5M176 22.25h0.5M186.5 22.25h0.5M143.5 22.75h0.5M155.5 22.75h0.5M158.5 22.75h0.5M164.5 22.75h0.5M171.5 22.75h0.5M174.5 22.75h0.5M182 22.75h0.5M152.5 23.25h0.5M154 23.25h0.5M161 23.25h0.5M170 23.25h0.5M176 23.25h0.5M178 23.25h0.5M183.5 23.25h0.5M190.5 23.25h0.5M152 23.75h0.5M157 23.75h0.5M159.5 23.75h1M163 23.75h0.5M165.5 23.75h1M169.5 23.75h0.5M174.5 23.75h0.5M193.5 23.75h0.5M143.5 24.25h0.5M147 24.25h0.5M155.5 24.25h0.5M177.5 24.25h0.5M193.5 24.25h0.5M142 24.75h0.5M145 24.75h0.5M151.5 24.75h0.5M159 24.75h0.5M161 24.75h0.5M170.5 24.75h0.5M173 24.75h0.5M143.5 25.25h0.5M144.5 25.25h0.5M149 25.25h0.5M154 25.25h0.5M168.5 25.25h0.5M169.5 25.25h0.5M174 25.25h0.5M177 25.25h0.5M185.5 25.25h0.5M186.5 25.25h0.5M187.5 25.25h0.5M189.5 25.25h0.5M198 25.25h0.5M150.5 25.75h0.5M152.5 25.75h0.5M154 25.75h0.5M156 25.75h0.5M157.5 25.75h0.5M158.5 25.75h0.5M166 25.75h1M167.5 25.75h1M175.5 25.75h0.5M181 25.75h0.5M184 25.75h0.5M187 25.75h0.5M192 25.75h0.5M146 26.25h0.5M153 26.25h0.5M160.5 26.25h0.5M162 26.25h0.5M163.5 26.25h1M166.5 26.25h0.5M168.5 26.25h0.5M170.5 26.25h0.5M173.5 26.25h0.5M176 26.25h1M186 26.25h0.5M157 26.75h1M163.5 26.75h0.5M166 26.75h0.5M174 26.75h0.5M146 27.25h0.5M161 27.25h1M171 27.25h0.5M187.5 27.25h0.5M190.5 27.25h0.5M144.5 27.75h0.5M149 27.75h0.5M151.5 27.75h1M155 27.75h1M156.5 27.75h1M162.5 27.75h0.5M167 27.75h0.5M168 27.75h0.5M171 27.75h0.5M173.5 27.75h1.5M178 27.75h0.5M186 27.75h1M142 28.25h0.5M143 28.25h0.5M152 28.25h0.5M153.5 28.25h0.5M156 28.25h0.5M168 28.25h0.5M170.5 28.25h0.5M171.5 28.25h0.5M172.5 28.25h0.5M174 28.25h0.5M176 28.25h0.5M177.5 28.25h0.5M178.5 28.25h0.5M181.5 28.25h0.5M146.5 28.75h0.5M152 28.75h1M154.5 28.75h0.5M162 28.75h0.5M164 28.75h0.5M165.5 28.75h1M169.5 28.75h0.5M173 28.75h0.5M174 28.75h0.5M175.5 28.75h0.5M177.5 28.75h0.5M181.5 28.75h0.5M187.5 28.75h1M192 28.75h0.5M145.5 29.25h0.5M160 29.25h0.5M163 29.25h0.5M170.5 29.25h0.5M174 29.25h0.5M175 29.25h0.5M177 29.25h0.5M188 29.25h0.5M190 29.25h0.5M195.5 29.25h0.5M142 29.75h0.5M146 29.75h1M150.5 29.75h1.5M154.5 29.75h0.5M162 29.75h0.5M167.5 29.75h0.5M170 29.75h0.5M173 29.75h0.5M178 29.75h0.5M183 29.75h0.5M187 29.75h0.5M144 30.25h1M145.5 30.25h0.5M147.5 30.25h0.5M148.5 30.25h0.5M159 30.25h0.5M160 30.25h0.5M161 30.25h0.5M162.5 30.25h0.5M166.5 30.25h0.5M167.5 30.25h1M180 30.25h1M184 30.25h1M189.5 30.25h0.5M142.5 30.75h0.5M145.5 30.75h0.5M147 30.75h0.5M148 30.75h0.5M151.5 30.75h1M153.5 30.75h0.5M157.5 30.75h0.5M159.5 30.75h0.5M161 30.75h0.5M164.5 30.75h0.5M168 30.75h0.5M169 30.75h0.5M170.5 30.75h0.5M177 30.75h1.5M181.5 30.75h0.5M183 30.75h0.5M184.5 30.75h0.5M186 30.75h0.5M189.5 30.75h0.5M191 30.75h0.5M197.5 30.75h0.5M144 31.25h1M145.5 31.25h0.5M147.5 31.25h0.5M153 31.25h1M157 31.25h0.5M165.5 31.25h0.5M167.5 31.25h0.5M169 31.25h1M171.5 31.25h0.5M172.5 31.25h0.5M173.5 31.25h0.5M187.5 31.25h0.5M190 31.25h0.5M144 31.75h0.5M153.5 31.75h0.5M154.5 31.75h0.5M155.5 31.75h0.5M165 31.75h0.5M166.5 31.75h0.5M171.5 31.75h0.5M175 31.75h0.5M177 31.75h0.5M186.5 31.75h0.5M188 31.75h0.5M145 32.25h1M148 32.25h1M150 32.25h0.5M151.5 32.25h0.5M154.5 32.25h0.5M158.5 32.25h0.5M161.5 32.25h0.5M167.5 32.25h0.5M169 32.25h0.5M173 32.25h0.5M175.5 32.25h0.5M185 32.25h0.5M190 32.25h0.5M142 32.75h0.5M144.5 32.75h0.5M146 32.75h1M153.5 32.75h0.5M154.5 32.75h1M156.5 32.75h1M160.5 32.75h0.5M161.5 32.75h0.5M162.5 32.75h0.5M166.5 32.75h1M170 32.75h0.5M174 32.75h1M175.5 32.75h0.5M177 32.75h0.5M183 32.75h0.5M191 32.75h0.5M145.5 33.25h0.5M150.5 33.25h0.5M156 33.25h0.5M159.5 33.25h0.5M163.5 33.25h0.5M166 33.25h0.5M175.5 33.25h0.5M177 33.25h0.5M180 33.25h0.5M183 33.25h0.5M186 33.25h0.5M190 33.25h0.5M191.5 33.25h0.5M195 33.25h0.5M203.5 33.25h0.5M147 33.75h0.5M148 33.75h0.5M152 33.75h0.5M158 33.75h0.5M159.5 33.75h1M165.5 33.75h1.5M173 33.75h0.5M174 33.75h0.5M175 33.75h0.5M184 33.75h0.5M189.5 33.75h0.5M143 34.25h0.5M145.5 34.25h0.5M154.5 34.25h1M156 34.25h0.5M158 34.25h0.5M160.5 34.25h0.5M162.5 34.25h0.5M164 34.25h0.5M165.5 34.25h1M168 34.25h1.5M170.5 34.25h1M172.5 34.25h0.5M174.5 34.25h1M176 34.25h0.5M177.5 34.25h1M179 34.25h0.5M183 34.25h0.5M185 34.25h0.5M190 34.25h0.5M192 34.25h1M196.5 34.25h0.5M142 34.75h0.5M143.5 34.75h0.5M148 34.75h0.5M150 34.75h0.5M152 34.75h0.5M154 34.75h0.5M157.5 34.75h0.5M161 34.75h0.5M162 34.75h0.5M166 34.75h0.5M167.5 34.75h0.5M172.5 34.75h0.5M174.5 34.75h1M176 34.75h0.5M177 34.75h0.5M186.5 34.75h0.5M190 34.75h0.5M193 34.75h0.5M142 35.25h0.5M146 35.25h1M148.5 35.25h1M151 35.25h0.5M158 35.25h0.5M159 35.25h0.5M160.5 35.25h0.5M165.5 35.25h0.5M167.5 35.25h0.5M170.5 35.25h0.5M171.5 35.25h1M173 35.25h1.5M177.5 35.25h0.5M185 35.25h0.5M186 35.25h0.5M193.5 35.25h0.5M142 35.75h0.5M144 35.75h0.5M145 35.75h0.5M146 35.75h1M151 35.75h0.5M152.5 35.75h0.5M154 35.75h0.5M156.5 35.75h1M158 35.75h0.5M159 35.75h0.5M160 35.75h0.5M161.5 35.75h0.5M163 35.75h1M166.5 35.75h0.5M169.5 35.75h0.5M172.5 35.75h1M182 35.75h1M188.5 35.75h0.5M189.5 35.75h0.5M193.5 35.75h0.5M198.5 35.75h0.5M144.5 36.25h1.5M148 36.25h0.5M150 36.25h0.5M151.5 36.25h0.5M153 36.25h0.5M155 36.25h0.5M156 36.25h1M157.5 36.25h0.5M158.5 36.25h1M162 36.25h0.5M165 36.25h1M169.5 36.25h1M173 36.25h0.5M175.5 36.25h0.5M178.5 36.25h0.5M187.5 36.25h0.5M143.5 36.75h0.5M145.5 36.75h1M147 36.75h0.5M148.5 36.75h0.5M150.5 36.75h0.5M153 36.75h0.5M155.5 36.75h0.5M158 36.75h0.5M162.5 36.75h0.5M164.5 36.75h1.5M167 36.75h0.5M168.5 36.75h1M170 36.75h1M172 36.75h1M173.5 36.75h0.5M175 36.75h3.5M179 36.75h0.5M183.5 36.75h0.5M185.5 36.75h0.5M191 36.75h0.5M142 37.25h1M149 37.25h0.5M151 37.25h0.5M153.5 37.25h0.5M155.5 37.25h0.5M157 37.25h1.5M159 37.25h0.5M160 37.25h0.5M165 37.25h0.5M167 37.25h1M169.5 37.25h0.5M173.5 37.25h0.5M174.5 37.25h0.5M175.5 37.25h1M177 37.25h1M180.5 37.25h0.5M186.5 37.25h0.5M188.5 37.25h0.5M192.5 37.25h0.5M194 37.25h0.5M142.5 37.75h0.5M143.5 37.75h1M146.5 37.75h0.5M148 37.75h1M150.5 37.75h1M152 37.75h0.5M155 37.75h0.5M156 37.75h0.5M158 37.75h0.5M159 37.75h0.5M160 37.75h1M164 37.75h1M166 37.75h0.5M168 37.75h0.5M169.5 37.75h0.5M170.5 37.75h1M175 37.75h0.5M178 37.75h0.5M179 37.75h0.5M182 37.75h0.5M183.5 37.75h0.5M184.5 37.75h0.5M189 37.75h0.5M195.5 37.75h0.5M143 38.25h0.5M145.5 38.25h0.5M147.5 38.25h0.5M151 38.25h0.5M153.5 38.25h0.5M157 38.25h0.5M160.5 38.25h1M162.5 38.25h0.5M165 38.25h2M170 38.25h0.5M171 38.25h0.5M176 38.25h0.5M178 38.25h0.5M179 38.25h0.5M185 38.25h0.5M186 38.25h0.5M187 38.25h0.5M189 38.25h0.5M190.5 38.25h0.5M146.5 38.75h0.5M147.5 38.75h0.5M150.5 38.75h0.5M151.5 38.75h0.5M153.5 38.75h0.5M159.5 38.75h0.5M163.5 38.75h0.5M164.5 38.75h0.5M166 38.75h0.5M167 38.75h2M169.5 38.75h0.5M170.5 38.75h1.5M172.5 38.75h1M174.5 38.75h1M180.5 38.75h0.5M182 38.75h1M188.5 38.75h0.5M196.5 38.75h0.5M201 38.75h0.5M142.5 39.25h0.5M145 39.25h0.5M146 39.25h1M151 39.25h1M155.5 39.25h0.5M158 39.25h1M160.5 39.25h0.5M162 39.25h0.5M164.5 39.25h1.5M166.5 39.25h0.5M167.5 39.25h0.5M169 39.25h2.5M175 39.25h0.5M176.5 39.25h0.5M177.5 39.25h2M182.5 39.25h0.5M184.5 39.25h0.5M189.5 39.25h0.5M190.5 39.25h1M196.5 39.25h1M144 39.75h0.5M147 39.75h0.5M148 39.75h0.5M149 39.75h0.5M151 39.75h1M154 39.75h1M156 39.75h1M157.5 39.75h0.5M158.5 39.75h0.5M159.5 39.75h0.5M161.5 39.75h0.5M166 39.75h0.5M167 39.75h1.5M169 39.75h1M171.5 39.75h0.5M172.5 39.75h1M175.5 39.75h1M177.5 39.75h0.5M182 39.75h0.5M143.5 40.25h0.5M144.5 40.25h0.5M152 40.25h0.5M153.5 40.25h1.5M155.5 40.25h0.5M157 40.25h0.5M160.5 40.25h1M162 40.25h1.5M164.5 40.25h0.5M165.5 40.25h0.5M166.5 40.25h1M170.5 40.25h0.5M173 40.25h0.5M174 40.25h1.5M177 40.25h0.5M180 40.25h0.5M185.5 40.25h0.5M188 40.25h0.5M189 40.25h0.5M190 40.25h1M192.5 40.25h0.5M142.5 40.75h0.5M143.5 40.75h0.5M146 40.75h0.5M147.5 40.75h0.5M149.5 40.75h0.5M150.5 40.75h0.5M154 40.75h0.5M155.5 40.75h0.5M158 40.75h1M159.5 40.75h0.5M160.5 40.75h0.5M162.5 40.75h0.5M164 40.75h0.5M165 40.75h1M166.5 40.75h0.5M168.5 40.75h0.5M169.5 40.75h1.5M172 40.75h0.5M173.5 40.75h1M176.5 40.75h0.5M179 40.75h0.5M184.5 40.75h0.5M187.5 40.75h0.5M189.5 40.75h0.5M190.5 40.75h0.5M194 40.75h0.5M142 41.25h0.5M144 41.25h0.5M146 41.25h0.5M153.5 41.25h0.5M159.5 41.25h0.5M160.5 41.25h1M162.5 41.25h0.5M163.5 41.25h0.5M165.5 41.25h1M167 41.25h0.5M169 41.25h2M173 41.25h0.5M174 41.25h1M176.5 41.25h1M179.5 41.25h0.5M188.5 41.25h0.5M192 41.25h1M197.5 41.25h0.5M143 41.75h0.5M145 41.75h0.5M150 41.75h0.5M152 41.75h0.5M155.5 41.75h0.5M156.5 41.75h0.5M159.5 41.75h1M161 41.75h2.5M165 41.75h2.5M168 41.75h0.5M169 41.75h0.5M170 41.75h1.5M172.5 41.75h2M175 41.75h1M176.5 41.75h0.5M177.5 41.75h0.5M182.5 41.75h1M185.5 41.75h1M143 42.25h0.5M147 42.25h1.5M149 42.25h1M151.5 42.25h0.5M153.5 42.25h0.5M155.5 42.25h0.5M160 42.25h0.5M163 42.25h0.5M165 42.25h1M167 42.25h0.5M168 42.25h1.5M170 42.25h0.5M171 42.25h0.5M172.5 42.25h0.5M173.5 42.25h1M175.5 42.25h0.5M176.5 42.25h0.5M178.5 42.25h0.5M180.5 42.25h0.5M182 42.25h0.5M186 42.25h1.5M189.5 42.25h0.5M191 42.25h0.5M194 42.25h0.5M196.5 42.25h0.5M143.5 42.75h0.5M146.5 42.75h0.5M149.5 42.75h0.5M150.5 42.75h1M153.5 42.75h0.5M156 42.75h0.5M157.5 42.75h0.5M159 42.75h0.5M160 42.75h0.5M161.5 42.75h0.5M164.5 42.75h1M166.5 42.75h0.5M168 42.75h2.5M171 42.75h1M172.5 42.75h1.5M175.5 42.75h0.5M176.5 42.75h0.5M177.5 42.75h1M180.5 42.75h0.5M185 42.75h0.5M186 42.75h0.5M189 42.75h0.5M190 42.75h0.5M191.5 42.75h0.5M192.5 42.75h0.5M194 42.75h0.5M204.5 42.75h0.5M142 43.25h0.5M146 43.25h1.5M149 43.25h0.5M151 43.25h0.5M153.5 43.25h1M155 43.25h0.5M156 43.25h0.5M158 43.25h0.5M159 43.25h0.5M160 43.25h1.5M164 43.25h0.5M166 43.25h1M169 43.25h0.5M170.5 43.25h1M173 43.25h2M175.5 43.25h1M183.5 43.25h0.5M191 43.25h0.5M193.5 43.25h1M142 43.75h0.5M143 43.75h1M145 43.75h1M146.5 43.75h1.5M149 43.75h0.5M150.5 43.75h0.5M151.5 43.75h0.5M152.5 43.75h1M157 43.75h2M159.5 43.75h0.5M160.5 43.75h1M162 43.75h0.5M165 43.75h0.5M167 43.75h1M170 43.75h2M172.5 43.75h1.5M174.5 43.75h0.5M177.5 43.75h0.5M184.5 43.75h0.5M191.5 43.75h0.5M142 44.25h0.5M146 44.25h0.5M153 44.25h0.5M154 44.25h0.5M155.5 44.25h1.5M157.5 44.25h0.5M159 44.25h0.5M162 44.25h0.5M163 44.25h0.5M164 44.25h1M165.5 44.25h0.5M169 44.25h0.5M170.5 44.25h2M175.5 44.25h1M177 44.25h1.5M181 44.25h0.5M183.5 44.25h0.5M184.5 44.25h0.5M185.5 44.25h0.5M188 44.25h0.5M193.5 44.25h0.5M142.5 44.75h0.5M145.5 44.75h0.5M147 44.75h0.5M149 44.75h0.5M152 44.75h1M154 44.75h1M157.5 44.75h0.5M159 44.75h1M160.5 44.75h0.5M163.5 44.75h1M165.5 44.75h3.5M170 44.75h0.5M171 44.75h0.5M172.5 44.75h0.5M173.5 44.75h0.5M177 44.75h0.5M179.5 44.75h1M190.5 44.75h0.5M142 45.25h0.5M143 45.25h0.5M144 45.25h0.5M147 45.25h0.5M151 45.25h0.5M152 45.25h1M154 45.25h0.5M157 45.25h0.5M158 45.25h1M159.5 45.25h0.5M160.5 45.25h0.5M161.5 45.25h0.5M165 45.25h0.5M168 45.25h2M170.5 45.25h0.5M171.5 45.25h0.5M177 45.25h0.5M179.5 45.25h0.5M181.5 45.25h1M183 45.25h0.5M184.5 45.25h0.5M190 45.25h0.5M142 45.75h0.5M148.5 45.75h1M150.5 45.75h1M154 45.75h0.5M155 45.75h0.5M157 45.75h2M163.5 45.75h0.5M165 45.75h0.5M169 45.75h0.5M170.5 45.75h0.5M171.5 45.75h0.5M174 45.75h0.5M176 45.75h0.5M177 45.75h2M180 45.75h0.5M184.5 45.75h1M187.5 45.75h0.5M189.5 45.75h0.5M143 46.25h0.5M145 46.25h0.5M146 46.25h1.5M148 46.25h0.5M149 46.25h0.5M153 46.25h0.5M156 46.25h0.5M157 46.25h1M159 46.25h2M162 46.25h0.5M163.5 46.25h0.5M165 46.25h0.5M170 46.25h0.5M171 46.25h0.5M172.5 46.25h0.5M176 46.25h1M180.5 46.25h0.5M192 46.25h1M194.5 46.25h0.5M142.5 46.75h1.5M144.5 46.75h0.5M146.5 46.75h0.5M148 46.75h0.5M150 46.75h1M152.5 46.75h1.5M155.5 46.75h0.5M156.5 46.75h1.5M161.5 46.75h1.5M163.5 46.75h0.5M165 46.75h0.5M167.5 46.75h1M169 46.75h0.5M171 46.75h1M174 46.75h0.5M177 46.75h0.5M179.5 46.75h1M182.5 46.75h0.5M184 46.75h0.5M186 46.75h0.5M191.5 46.75h0.5M196 46.75h0.5M142 47.25h1.5M145 47.25h0.5M149 47.25h0.5M150 47.25h0.5M151 47.25h0.5M152.5 47.25h0.5M153.5 47.25h0.5M157.5 47.25h0.5M160 47.25h0.5M162.5 47.25h0.5M165.5 47.25h0.5M169 47.25h0.5M170 47.25h0.5M175 47.25h1M178.5 47.25h0.5M188.5 47.25h0.5M198.5 47.25h0.5M142.5 47.75h1M147 47.75h0.5M150 47.75h1M152.5 47.75h0.5M156.5 47.75h0.5M160 47.75h0.5M161.5 47.75h1.5M165 47.75h0.5M169 47.75h0.5M170.5 47.75h0.5M172.5 47.75h0.5M175 47.75h0.5M177.5 47.75h0.5M184.5 47.75h0.5M187.5 47.75h1M191 47.75h0.5M192 47.75h0.5M142 48.25h1M147.5 48.25h0.5M149 48.25h0.5M151 48.25h0.5M154 48.25h0.5M155.5 48.25h0.5M157 48.25h0.5M161 48.25h1M166 48.25h0.5M172.5 48.25h0.5M177.5 48.25h0.5M191.5 48.25h1M146 48.75h0.5M147.5 48.75h0.5M149.5 48.75h0.5M152.5 48.75h0.5M155.5 48.75h0.5M156.5 48.75h0.5M160 48.75h1M165.5 48.75h0.5M167.5 48.75h0.5M173.5 48.75h0.5M176.5 48.75h1M178 48.75h0.5M180 48.75h0.5M181 48.75h0.5M189 48.75h0.5M142 49.25h0.5M143.5 49.25h2M148.5 49.25h0.5M151 49.25h0.5M153.5 49.25h0.5M156 49.25h0.5M157 49.25h0.5M158.5 49.25h0.5M163 49.25h0.5M167 49.25h0.5M168 49.25h0.5M170.5 49.25h0.5M172.5 49.25h0.5M176 49.25h0.5M177 49.25h0.5M186.5 49.25h0.5M192 49.25h1M142 49.75h1.5M144.5 49.75h0.5M146.5 49.75h0.5M154.5 49.75h0.5M158 49.75h0.5M160.5 49.75h0.5M166.5 49.75h0.5M169.5 49.75h0.5M170.5 49.75h1M172 49.75h0.5M175 49.75h0.5M190.5 49.75h0.5M147 50.25h1M148.5 50.25h0.5M153.5 50.25h1M155 50.25h0.5M156 50.25h0.5M157 50.25h0.5M164.5 50.25h0.5M166.5 50.25h0.5M169 50.25h0.5M174.5 50.25h0.5M176.5 50.25h1M181 50.25h0.5M185 50.25h0.5M142 50.75h0.5M145 50.75h0.5M146.5 50.75h0.5M150 50.75h1M152.5 50.75h0.5M155 50.75h0.5M157 50.75h0.5M160 50.75h0.5M163 50.75h0.5M165.5 50.75h0.5M174 50.75h1.5M176 50.75h0.5M182 50.75h0.5M192.5 50.75h0.5M143 51.25h1M145.5 51.25h0.5M152.5 51.25h0.5M153.5 51.25h0.5M156 51.25h1M158 51.25h0.5M168 51.25h0.5M169 51.25h0.5M173 51.25h0.5M177.5 51.25h0.5M186.5 51.25h0.5M146.5 51.75h0.5M149 51.75h0.5M151 51.75h0.5M152 51.75h0.5M154 51.75h0.5M155.5 51.75h1M157 51.75h0.5M158 51.75h1M160 51.75h0.5M161 51.75h1M164 51.75h0.5M165.5 51.75h0.5M174.5 51.75h0.5M175.5 51.75h0.5M198 51.75h0.5M203 51.75h0.5M143.5 52.25h0.5M145 52.25h1M149.5 52.25h1M157 52.25h0.5M159 52.25h0.5M182.5 52.25h0.5M189.5 52.25h0.5M192.5 52.25h0.5M143 52.75h0.5M144.5 52.75h1.5M146.5 52.75h0.5M148 52.75h0.5M153 52.75h0.5M156.5 52.75h0.5M161 52.75h1M164.5 52.75h1M173.5 52.75h0.5M174.5 52.75h0.5M142 53.25h0.5M143.5 53.25h1M146.5 53.25h2M151.5 53.25h0.5M155 53.25h1M157 53.25h0.5M158.5 53.25h0.5M160 53.25h0.5M161.5 53.25h0.5M164 53.25h0.5M177.5 53.25h0.5M145.5 53.75h0.5M148 53.75h0.5M149.5 53.75h0.5M150.5 53.75h0.5M158 53.75h0.5M159 53.75h0.5M162 53.75h0.5M164 53.75h0.5M172 53.75h0.5M151 54.25h0.5M156 54.25h0.5M147 54.75h0.5M167 55.25h0.5M200.5 56.25h0.5M152.5 56.75h0.5" stroke="#000" stroke-opacity="0.5" stroke-width="0.6" fill="none"/>
<path d="M75 305h0.5v0.5h-0.5zM76 305h0.5v0.5h-0.5zM74 305.5h8.5v0.5h-8.5zM73 306h12v0.5h-12zM96.5 306h2v0.5h-2zM70.5 306h1v0.5h-1zM93.5 306.5h1.5v0.5h-1.5zM96.5 306.5h5v0.5h-5zM69.5 306.5h18v0.5h-18zM69 307h20v0.5h-20zM92 307h12.5v0.5h-12.5zM68 307.5h37v0.5h-37zM66.5 308h39v0.5h-39zM64 308.5h41.5v0.5h-41.5zM63.5 309h42.5v0.5h-42.5zM63 309.5h42.5v0.5h-42.5zM62.5 310h44v0.5h-44zM61 310.5h45.5v0.5h-45.5zM60.5 311h46.5v1h-46.5zM60.5 312h47v0.5h-47zM60 312.5h48v1h-48zM59.5 313.5h48.5v0.5h-48.5zM59.5 314h49v1.5h-49zM60.5 315.5h47.5v1h-47.5zM60.5 316.5h47v0.5h-47zM60.5 317h47.5v0.5h-47.5zM61 317.5h47v0.5h-47zM61 318h46.5v0.5h-46.5zM62 318.5h45.5v0.5h-45.5zM62 319h45v0.5h-45zM63 319.5h45v1h-45zM63.5 320.5h44v0.5h-44zM64 321h43v0.5h-43zM66 321.5h18.5v0.5h-18.5zM88.5 321.5h18v0.5h-18zM86 321.5h1v0.5h-1zM80.5 322h2v0.5h-2zM91 322h15.5v0.5h-15.5zM66.5 322h13.5v0.5h-13.5zM92 322.5h14.5v0.5h-14.5zM81 322.5h1v0.5h-1zM67.5 322.5h1.5v0.5h-1.5zM69.5 322.5h9.5v0.5h-9.5zM72 323h6v0.5h-6zM70 323h1.5v0.5h-1.5zM95 323h9.5v0.5h-9.5zM75.5 323.5h1v0.5h-1zM97 323.5h8v0.5h-8zM98 324h4.5v0.5h-4.5zM103.5 324h1v0.5h-1zM99.5 324.5h2.5v0.5h-2.5z" fill="#0b0b0b"/>
<path d="M60.5 262.25h0.5M95 264.25h0.5M53.5 268.75h0.5M92.5 270.25h0.5M122 270.25h0.5M72 271.25h0.5M91.5 273.25h0.5M96 275.25h0.5M94.5 275.75h0.5M97 276.25h0.5M95 276.75h0.5M96.5 276.75h0.5M125.5 277.25h0.5M76 277.75h0.5M96 277.75h1M97 278.75h0.5M88.5 279.25h0.5M91 279.25h1M92.5 279.25h0.5M93.5 279.25h0.5M94.5 279.25h0.5M96.5 279.25h0.5M127.5 280.25h0.5M73.5 280.75h0.5M95 280.75h0.5M97 280.75h0.5M89 281.25h0.5M92 281.25h0.5M94 281.25h0.5M85.5 281.75h0.5M94.5 281.75h1M100 281.75h0.5M62.5 282.25h0.5M89 282.25h1M88.5 282.75h0.5M102 282.75h0.5M90.5 283.25h0.5M96.5 283.25h0.5M130 283.25h0.5M87 283.75h0.5M93.5 283.75h0.5M97 283.75h0.5M66 284.25h0.5M73 284.25h0.5M86.5 284.25h0.5M98 284.25h0.5M101.5 284.25h0.5M66.5 284.75h0.5M91 284.75h0.5M93 284.75h1.5M66.5 285.25h1M86 285.25h0.5M92 285.25h0.5M95 285.25h0.5M96 285.25h0.5M97 285.25h1M63.5 285.75h0.5M66.5 285.75h0.5M89 285.75h0.5M98.5 285.75h0.5M75.5 286.25h0.5M85.5 286.25h0.5M87 286.25h0.5M92.5 286.25h0.5M98 286.25h0.5M89 286.75h0.5M95.5 286.75h0.5M96.5 286.75h0.5M102.5 286.75h0.5M74 287.25h0.5M88.5 287.25h0.5M90 287.25h0.5M91 287.25h0.5M94.5 287.25h0.5M96 287.25h0.5M97 287.25h0.5M98.5 287.25h0.5M65 287.75h0.5M75.5 287.75h0.5M84 287.75h0.5M91 287.75h0.5M64.5 288.25h0.5M80.5 288.25h0.5M83.5 288.25h0.5M86.5 288.25h0.5M90.5 288.25h0.5M92 288.25h0.5M94.5 288.25h0.5M79.5 288.75h0.5M80.5 288.75h0.5M91.5 288.75h1M94 288.75h0.5M96.5 288.75h0.5M86 289.25h0.5M90.5 289.25h0.5M95.5 289.25h1M97.5 289.25h0.5M62.5 289.75h0.5M63.5 289.75h0.5M67 289.75h0.5M79.5 289.75h0.5M82.5 289.75h0.5M83.5 289.75h0.5M84.5 289.75h0.5M89 289.75h0.5M92 289.75h1M96 289.75h0.5M97 289.75h0.5M99 289.75h0.5M101 289.75h0.5M68.5 290.25h0.5M92.5 290.25h1M96 290.25h0.5M97 290.25h0.5M71 290.75h1M89 290.75h0.5M96 290.75h2M62 291.25h0.5M91.5 291.25h0.5M96 291.25h1M99 291.25h0.5M59 291.75h0.5M83.5 291.75h0.5M85.5 291.75h0.5M92.5 291.75h0.5M94 291.75h0.5M97 291.75h0.5M70 292.25h0.5M88 292.25h0.5M90.5 292.25h0.5M94.5 292.25h0.5M95.5 292.25h1M97.5 292.25h0.5M98.5 292.25h0.5M81 292.75h0.5M84 292.75h0.5M89 292.75h0.5M92 292.75h0.5M95 292.75h0.5M64 293.25h1M76.5 293.25h0.5M81 293.25h0.5M82.5 293.25h0.5M85.5 293.25h0.5M91 293.25h0.5M98 293.25h0.5M105.5 293.25h0.5M109.5 293.25h0.5M76.5 293.75h0.5M79 293.75h0.5M80.5 293.75h0.5M81.5 293.75h1M84.5 293.75h1M98.5 293.75h1M71.5 294.25h0.5M79 294.25h0.5M80.5 294.25h0.5M91.5 294.25h0.5M97 294.25h0.5M98.5 294.25h0.5M63.5 294.75h0.5M67 294.75h0.5M82 294.75h0.5M85 294.75h0.5M92 294.75h0.5M94.5 294.75h0.5M96.5 294.75h0.5M65.5 295.25h0.5M72.5 295.25h0.5M76 295.25h0.5M78.5 295.25h0.5M80.5 295.25h0.5M83 295.25h0.5M65.5 295.75h0.5M72 295.75h0.5M73.5 295.75h0.5M83.5 295.75h0.5M89.5 295.75h1M92 295.75h0.5M63 296.25h0.5M65.5 296.25h0.5M67 296.25h0.5M70.5 296.25h0.5M73 296.25h0.5M74 296.25h0.5M75.5 296.25h0.5M76.5 296.25h0.5M83.5 296.25h0.5M84.5 296.25h0.5M85.5 296.25h0.5M88 296.25h0.5M89 296.25h1M92.5 296.25h0.5M94.5 296.25h0.5M95.5 296.25h0.5M98 296.25h0.5M62 296.75h0.5M63.5 296.75h1M68 296.75h1M71 296.75h0.5M78 296.75h0.5M81 296.75h0.5M85.5 296.75h1M87 296.75h0.5M89 296.75h1M90.5 296.75h0.5M62 297.25h0.5M66 297.25h0.5M70.5 297.25h0.5M77 297.25h0.5M80 297.25h0.5M84 297.25h0.5M86 297.25h0.5M87 297.25h0.5M88 297.25h0.5M91 297.25h0.5M133 297.25h0.5M63 297.75h0.5M69.5 297.75h0.5M71.5 297.75h0.5M75 297.75h0.5M78.5 297.75h2M81 297.75h0.5M83 297.75h0.5M84 297.75h0.5M87.5 297.75h0.5M88.5 297.75h0.5M91 297.75h0.5M93.5 297.75h0.5M62.5 298.25h0.5M66 298.25h1.5M69.5 298.25h0.5M71.5 298.25h0.5M73 298.25h0.5M75.5 298.25h0.5M77 298.25h0.5M78.5 298.25h1M81 298.25h2M83.5 298.25h0.5M88 298.25h0.5M89.5 298.25h0.5M90.5 298.25h0.5M93.5 298.25h0.5M95 298.25h0.5M67 298.75h0.5M68 298.75h1M69.5 298.75h0.5M70.5 298.75h0.5M75 298.75h0.5M76 298.75h1M77.5 298.75h0.5M81.5 298.75h1.5M84.5 298.75h0.5M86.5 298.75h0.5M88 298.75h1M92 298.75h0.5M98 298.75h0.5M111.5 298.75h0.5M128.5 298.75h0.5M59 299.25h0.5M60.5 299.25h0.5M63 299.25h0.5M68 299.25h0.5M71 299.25h0.5M72.5 299.25h0.5M74 299.25h0.5M76 299.25h0.5M77 299.25h1.5M79.5 299.25h0.5M80.5 299.25h0.5M82.5 299.25h0.5M83.5 299.25h1.5M89.5 299.25h1.5M96 299.25h0.5M98.5 299.25h0.5M108.5 299.25h0.5M64.5 299.75h1M66.5 299.75h0.5M70 299.75h0.5M71 299.75h0.5M72 299.75h1M75.5 299.75h0.5M76.5 299.75h0.5M78 299.75h0.5M79 299.75h1.5M81.5 299.75h0.5M83 299.75h1.5M87.5 299.75h0.5M89.5 299.75h0.5M93.5 299.75h0.5M94.5 299.75h0.5M98.5 299.75h0.5M59.5 300.25h0.5M64.5 300.25h0.5M66.5 300.25h0.5M67.5 300.25h1M69 300.25h0.5M70 300.25h1.5M77.5 300.25h2M80 300.25h0.5M84 300.25h1M85.5 300.25h1.5M87.5 300.25h0.5M89 300.25h1M91 300.25h0.5M97 300.25h0.5M100 300.25h0.5M104 300.25h0.5M62 300.75h0.5M66 300.75h0.5M68.5 300.75h0.5M71.5 300.75h0.5M73.5 300.75h0.5M74.5 300.75h0.5M75.5 300.75h0.5M76.5 300.75h0.5M77.5 300.75h2.5M80.5 300.75h0.5M81.5 300.75h0.5M82.5 300.75h1.5M85 300.75h1M87 300.75h0.5M88.5 300.75h0.5M92 300.75h0.5M94.5 300.75h0.5M98.5 300.75h0.5M64 301.25h0.5M68 301.25h0.5M70.5 301.25h0.5M71.5 301.25h0.5M74 301.25h0.5M75.5 301.25h0.5M77 301.25h1M79.5 301.25h0.5M80.5 301.25h0.5M82 301.25h1M83.5 301.25h0.5M84.5 301.25h0.5M85.5 301.25h0.5M86.5 301.25h0.5M87.5 301.25h0.5M90 301.25h0.5M91 301.25h1M98.5 301.25h0.5M64.5 301.75h0.5M67 301.75h0.5M71 301.75h0.5M72.5 301.75h0.5M74.5 301.75h0.5M75.5 301.75h1M77 301.75h1M78.5 301.75h0.5M81 301.75h0.5M82 301.75h1M84.5 301.75h0.5M85.5 301.75h0.5M89 301.75h0.5M90 301.75h1M96.5 301.75h0.5M98.5 301.75h0.5M100 301.75h1M102.5 301.75h0.5M63.5 302.25h0.5M66.5 302.25h1M69.5 302.25h0.5M71 302.25h0.5M73 302.25h0.5M74.5 302.25h1M76 302.25h1.5M78.5 302.25h1M81 302.25h0.5M82 302.25h1.5M85.5 302.25h0.5M86.5 302.25h1M88.5 302.25h0.5M91 302.25h0.5M95 302.25h0.5M102.5 302.25h0.5M58 302.75h0.5M60.5 302.75h0.5M65.5 302.75h0.5M66.5 302.75h0.5M68.5 302.75h1M70 302.75h1.5M72.5 302.75h2M75 302.75h0.5M76.5 302.75h0.5M78 302.75h0.5M79 302.75h1M80.5 302.75h0.5M81.5 302.75h0.5M83 302.75h1M84.5 302.75h0.5M86.5 302.75h0.5M88.5 302.75h0.5M91.5 302.75h0.5M93 302.75h0.5M63.5 303.25h0.5M64.5 303.25h0.5M67 303.25h0.5M71 303.25h1M72.5 303.25h0.5M74 303.25h1.5M76 303.25h2.5M79 303.25h0.5M84 303.25h2M87 303.25h0.5M89 303.25h0.5M90 303.25h0.5M91 303.25h0.5M92 303.25h0.5M101 303.25h1M108 303.25h1M60.5 303.75h0.5M62.5 303.75h0.5M65 303.75h0.5M66.5 303.75h0.5M68 303.75h0.5M70 303.75h0.5M71 303.75h1.5M73 303.75h0.5M74.5 303.75h0.5M75.5 303.75h0.5M76.5 303.75h1M79.5 303.75h0.5M80.5 303.75h0.5M81.5 303.75h1.5M84 303.75h0.5M85.5 303.75h3M89 303.75h0.5M94.5 303.75h0.5M96 303.75h0.5M99.5 303.75h0.5M56 304.25h0.5M65.5 304.25h0.5M69 304.25h1.5M73 304.25h0.5M74 304.25h5M79.5 304.25h1M81.5 304.25h4M86 304.25h1.5M89 304.25h0.5M90.5 304.25h0.5M91.5 304.25h1M94 304.25h0.5M95 304.25h1M98.5 304.25h0.5M104.5 304.25h0.5M111.5 304.25h0.5M58 304.75h0.5M67.5 304.75h0.5M69 304.75h1.5M71 304.75h0.5M73 304.75h1.5M75 304.75h4.5M80 304.75h6.5M87 304.75h1.5M92.5 304.75h1.5M94.5 304.75h0.5M98 304.75h0.5M99 304.75h2M101.5 304.75h0.5M106.5 304.75h0.5M59 305.25h0.5M68 305.25h0.5M70.5 305.25h0.5M71.5 305.25h0.5M73 305.25h2M75.5 305.25h0.5M77 305.25h2M79.5 305.25h1.5M81.5 305.25h1M83 305.25h3.5M87 305.25h1M89 305.25h0.5M93 305.25h1M94.5 305.25h0.5M97 305.25h0.5M98.5 305.25h0.5M99.5 305.25h0.5M100.5 305.25h0.5M102.5 305.25h1.5M130.5 305.25h0.5M60 305.75h1M65.5 305.75h0.5M66.5 305.75h1M68.5 305.75h0.5M69.5 305.75h2.5M72.5 305.75h1.5M82.5 305.75h2.5M85.5 305.75h2M88.5 305.75h0.5M89.5 305.75h0.5M90.5 305.75h1M93.5 305.75h0.5M95 305.75h0.5M96.5 305.75h1.5M98.5 305.75h1M100 305.75h1.5M102 305.75h0.5M104.5 305.75h0.5M105.5 305.75h0.5M107.5 305.75h0.5M111.5 305.75h0.5M55.5 306.25h0.5M60.5 306.25h0.5M65 306.25h2.5M69 306.25h1M71.5 306.25h1.5M85 306.25h4.5M90.5 306.25h1.5M93 306.25h3.5M98.5 306.25h2.5M101.5 306.25h0.5M102.5 306.25h2.5M105.5 306.25h0.5M107.5 306.25h0.5M112.5 306.25h0.5M62 306.75h0.5M63 306.75h2M65.5 306.75h0.5M67.5 306.75h1.5M87.5 306.75h4M92.5 306.75h1M95 306.75h1.5M101.5 306.75h1M103.5 306.75h1M105.5 306.75h1M108 306.75h0.5M112 306.75h1M54 307.25h0.5M59 307.25h0.5M61.5 307.25h0.5M63 307.25h1M64.5 307.25h1M66 307.25h3M89 307.25h3M104.5 307.25h0.5M61.5 307.75h0.5M63.5 307.75h0.5M65 307.75h3M105 307.75h1M106.5 307.75h0.5M107.5 307.75h1.5M60 308.25h0.5M61 308.25h0.5M62.5 308.25h0.5M63.5 308.25h0.5M64.5 308.25h2M105.5 308.25h1.5M108 308.25h1M111 308.25h0.5M56 308.75h1M58 308.75h0.5M59.5 308.75h0.5M61.5 308.75h1M63.5 308.75h0.5M105.5 308.75h1.5M61 309.25h0.5M62 309.25h0.5M63 309.25h0.5M106 309.25h1.5M108 309.25h0.5M56 309.75h0.5M59 309.75h0.5M60 309.75h0.5M61 309.75h2M106 309.75h1.5M108 309.75h0.5M109 309.75h0.5M114 309.75h0.5M55.5 310.25h0.5M60 310.25h2.5M106.5 310.25h0.5M107.5 310.25h1.5M56 310.75h0.5M58 310.75h0.5M60 310.75h0.5M106.5 310.75h2M109.5 310.75h0.5M59.5 311.25h0.5M107 311.25h2M109.5 311.25h0.5M111.5 311.25h0.5M135.5 311.25h0.5M58 311.75h1M60 311.75h0.5M107 311.75h1M110.5 311.75h0.5M58 312.25h1.5M60 312.25h0.5M107.5 312.25h3M58 312.75h2M108 312.75h1M112 312.75h0.5M56 313.25h0.5M58 313.25h0.5M59 313.25h1M108 313.25h0.5M112 313.25h0.5M58 313.75h1.5M108 313.75h0.5M109 313.75h1.5M56.5 314.25h0.5M57.5 314.25h0.5M109.5 314.25h0.5M58.5 314.75h0.5M111 314.75h0.5M58.5 315.25h1M108.5 315.25h0.5M113 315.25h0.5M57.5 315.75h1M59.5 315.75h1M108 315.75h0.5M109.5 315.75h0.5M59 316.25h0.5M60 316.25h0.5M108 316.25h0.5M109 316.25h1M110.5 316.25h0.5M58 316.75h0.5M59 316.75h0.5M60 316.75h0.5M107.5 316.75h0.5M108.5 316.75h0.5M109.5 316.75h0.5M110.5 316.75h0.5M115.5 316.75h0.5M57.5 317.25h1M59.5 317.25h1M108 317.25h0.5M109 317.25h1.5M111.5 317.25h0.5M56 317.75h1M57.5 317.75h1M59.5 317.75h1.5M108.5 317.75h0.5M109.5 317.75h0.5M116 317.75h0.5M56.5 318.25h0.5M58.5 318.25h0.5M60 318.25h1M107.5 318.25h0.5M109.5 318.25h0.5M116 318.25h0.5M54 318.75h0.5M57.5 318.75h0.5M60 318.75h2M108.5 318.75h1M55 319.25h0.5M56.5 319.25h0.5M58 319.25h0.5M60.5 319.25h1.5M107 319.25h1.5M109 319.25h0.5M110 319.25h0.5M112 319.25h0.5M113 319.25h0.5M56.5 319.75h0.5M60.5 319.75h2.5M109.5 319.75h0.5M58 320.25h1M60 320.25h0.5M61 320.25h2M108 320.25h1M110.5 320.25h0.5M57 320.75h0.5M58 320.75h0.5M59 320.75h0.5M61 320.75h0.5M62 320.75h0.5M63 320.75h0.5M108 320.75h0.5M109 320.75h0.5M113.5 320.75h0.5M59.5 321.25h0.5M61 321.25h0.5M62.5 321.25h1.5M107 321.25h1M109 321.25h0.5M110.5 321.25h0.5M112 321.25h0.5M62.5 321.75h2.5M84.5 321.75h1.5M87 321.75h1.5M106.5 321.75h0.5M107.5 321.75h0.5M108.5 321.75h0.5M55 322.25h0.5M58.5 322.25h0.5M62.5 322.25h1.5M65 322.25h1.5M80 322.25h0.5M82.5 322.25h3M86 322.25h0.5M87 322.25h4M106.5 322.25h0.5M107.5 322.25h1M57.5 322.75h0.5M62.5 322.75h2M65 322.75h0.5M67 322.75h0.5M69 322.75h0.5M79 322.75h2M82 322.75h4M87 322.75h1.5M89 322.75h2.5M106.5 322.75h0.5M107.5 322.75h0.5M108.5 322.75h0.5M55 323.25h0.5M60.5 323.25h0.5M62 323.25h1M64.5 323.25h0.5M67 323.25h3M71.5 323.25h0.5M78 323.25h3.5M82.5 323.25h6.5M90 323.25h0.5M91 323.25h1.5M93 323.25h1.5M104.5 323.25h2M107 323.25h0.5M110 323.25h0.5M64.5 323.75h0.5M65.5 323.75h0.5M66.5 323.75h0.5M67.5 323.75h1M69.5 323.75h6M76.5 323.75h4M81 323.75h1M82.5 323.75h0.5M83.5 323.75h0.5M85.5 323.75h0.5M89 323.75h0.5M90 323.75h1.5M92 323.75h0.5M93.5 323.75h0.5M95 323.75h2M105 323.75h2M59 324.25h0.5M67 324.25h0.5M68 324.25h1M69.5 324.25h0.5M70.5 324.25h0.5M72.5 324.25h0.5M73.5 324.25h0.5M74.5 324.25h2.5M77.5 324.25h1M79 324.25h1.5M81 324.25h0.5M82 324.25h2M84.5 324.25h0.5M85.5 324.25h0.5M87 324.25h0.5M90 324.25h0.5M92 324.25h0.5M93.5 324.25h1M95 324.25h2M97.5 324.25h0.5M102.5 324.25h1M104.5 324.25h1M106 324.25h1M57.5 324.75h0.5M68 324.75h1M69.5 324.75h2M72.5 324.75h1M74.5 324.75h0.5M75.5 324.75h1M77.5 324.75h0.5M79 324.75h0.5M81 324.75h0.5M83 324.75h0.5M92.5 324.75h0.5M93.5 324.75h0.5M95 324.75h1M98 324.75h1.5M102 324.75h0.5M103 324.75h2.5M106 324.75h0.5M62.5 325.25h0.5M66.5 325.25h0.5M69 325.25h0.5M70 325.25h1M71.5 325.25h0.5M74 325.25h2.5M77.5 325.25h2M81.5 325.25h0.5M86.5 325.25h0.5M91.5 325.25h0.5M95.5 325.25h0.5M97 325.25h2M99.5 325.25h2.5M102.5 325.25h2.5M106 325.25h0.5M107 325.25h0.5M110 325.25h0.5M68 325.75h0.5M71 325.75h0.5M73.5 325.75h0.5M75.5 325.75h0.5M77 325.75h0.5M78 325.75h0.5M84 325.75h0.5M89 325.75h0.5M90.5 325.75h0.5M95 325.75h0.5M98 325.75h0.5M99.5 325.75h1M101 325.75h1.5M105 325.75h0.5M65 326.25h0.5M68.5 326.25h0.5M75.5 326.25h0.5M80.5 326.25h0.5M82.5 326.25h0.5M90 326.25h1M93 326.25h0.5M95 326.25h0.5M96.5 326.25h0.5M97.5 326.25h1M99.5 326.25h0.5M100.5 326.25h1M102.5 326.25h1M66 326.75h0.5M70 326.75h0.5M74.5 326.75h0.5M83 326.75h0.5M87 326.75h0.5M89 326.75h0.5M90 326.75h1M96.5 326.75h0.5M98.5 326.75h1.5M105 326.75h0.5M107 326.75h0.5" stroke="#000" stroke-width="0.7" fill="none"/>
<path d="M188.5 305h0.5v0.5h-0.5zM191.5 305h1.5v0.5h-1.5zM189.5 305h0.5v0.5h-0.5zM196 305h1v0.5h-1zM202.5 305h0.5v0.5h-0.5zM187.5 305.5h16.5v0.5h-16.5zM185 305.5h1v0.5h-1zM204.5 305.5h1.5v0.5h-1.5zM184 306h25.5v0.5h-25.5zM178.5 306h3.5v0.5h-3.5zM177.5 306.5h33v0.5h-33zM176.5 307h0.5v0.5h-0.5zM177.5 307h34v0.5h-34zM175.5 307h0.5v0.5h-0.5zM174.5 307.5h37.5v0.5h-37.5zM173.5 307.5h0.5v0.5h-0.5zM172.5 308h40.5v0.5h-40.5zM172 308.5h41v0.5h-41zM170 309h44v0.5h-44zM169.5 309.5h44.5v1h-44.5zM169 310.5h45.5v0.5h-45.5zM167.5 311h47.5v0.5h-47.5zM167.5 311.5h48v0.5h-48zM168 312h47.5v0.5h-47.5zM167.5 312.5h48.5v2h-48.5zM167 314.5h49v1.5h-49zM167 316h48.5v0.5h-48.5zM167.5 316.5h47.5v0.5h-47.5zM168 317h46.5v1h-46.5zM167.5 318h47v1h-47zM168 319h46.5v0.5h-46.5zM168.5 319.5h46v0.5h-46zM169 320h45v0.5h-45zM169.5 320.5h43v0.5h-43zM170 321h42.5v0.5h-42.5zM171 321.5h41v0.5h-41zM172 322h40v1h-40zM174 323h36.5v0.5h-36.5zM177 323.5h16.5v0.5h-16.5zM194 323.5h16v0.5h-16zM186.5 324h1.5v0.5h-1.5zM199 324h8v0.5h-8zM177.5 324h0.5v0.5h-0.5zM196 324h1.5v0.5h-1.5zM182.5 324h1.5v0.5h-1.5zM180 324h0.5v0.5h-0.5zM201.5 324.5h2.5v0.5h-2.5zM205.5 324.5h1v0.5h-1z" fill="#0b0b0b"/>
<path d="M223 262.25h0.5M199 263.75h0.5M213.5 266.75h0.5M181.5 267.75h0.5M233.5 268.25h0.5M176.5 270.75h0.5M184.5 271.25h0.5M179 271.75h0.5M173.5 275.25h0.5M189.5 275.75h0.5M200.5 275.75h0.5M195.5 278.75h0.5M203 279.25h0.5M229 279.25h0.5M189 279.75h0.5M203 279.75h0.5M187 280.25h0.5M202 280.25h0.5M168.5 280.75h0.5M191.5 280.75h0.5M163.5 281.25h0.5M196 281.25h0.5M205 281.25h0.5M181.5 281.75h0.5M198 281.75h0.5M205.5 282.25h0.5M207 282.25h0.5M183.5 283.25h0.5M199.5 283.25h0.5M200.5 283.25h0.5M188 283.75h0.5M214 283.75h0.5M198.5 284.25h0.5M189.5 284.75h0.5M205 284.75h0.5M195.5 285.25h0.5M179 285.75h0.5M186 285.75h0.5M198.5 285.75h0.5M207.5 285.75h0.5M179 286.25h0.5M193 286.25h0.5M177 286.75h0.5M168 287.25h0.5M175.5 287.25h0.5M190 287.25h0.5M199 287.25h0.5M201 287.25h0.5M202.5 287.25h0.5M181.5 287.75h0.5M177.5 288.25h0.5M196 288.25h0.5M183 288.75h0.5M200 288.75h0.5M202 288.75h1M198.5 289.25h0.5M202 289.25h0.5M179 289.75h1M201 289.75h0.5M207.5 289.75h0.5M179.5 290.25h0.5M194.5 290.25h0.5M199 290.25h0.5M203 290.25h0.5M204.5 290.25h0.5M181 290.75h1M183 290.75h0.5M204 290.75h0.5M178 291.25h0.5M188 291.25h0.5M189.5 291.25h0.5M195.5 291.25h0.5M198.5 291.25h0.5M200 291.25h0.5M201 291.25h0.5M203 291.25h0.5M205 291.25h0.5M173 291.75h0.5M175.5 291.75h0.5M194.5 291.75h0.5M195.5 291.75h0.5M198.5 291.75h0.5M175.5 292.25h0.5M185 292.25h0.5M194.5 292.25h0.5M200.5 292.25h0.5M206 292.25h0.5M173.5 292.75h0.5M186 292.75h1M189 292.75h0.5M195.5 292.75h0.5M207 292.75h0.5M171.5 293.25h0.5M191 293.25h0.5M195 293.25h0.5M204.5 293.25h0.5M207 293.25h0.5M234 293.25h0.5M178.5 293.75h0.5M183.5 293.75h0.5M189.5 293.75h1M193 293.75h0.5M194.5 293.75h0.5M197.5 293.75h1M200.5 293.75h0.5M203 293.75h0.5M208 293.75h0.5M169.5 294.25h0.5M180 294.25h0.5M183.5 294.25h0.5M191.5 294.25h0.5M193.5 294.25h0.5M203 294.25h0.5M207.5 294.25h0.5M178 294.75h0.5M183 294.75h0.5M184 294.75h0.5M185 294.75h0.5M189.5 294.75h0.5M193.5 294.75h0.5M203 294.75h1M174 295.25h0.5M183 295.25h0.5M186.5 295.25h0.5M190 295.25h0.5M194 295.25h0.5M196 295.25h0.5M212.5 295.25h0.5M168 295.75h0.5M182.5 295.75h0.5M185 295.75h0.5M186 295.75h1M193.5 295.75h1M198 295.75h0.5M202 295.75h0.5M173.5 296.25h0.5M177.5 296.25h0.5M181 296.25h1M189 296.25h1M193 296.25h1M195 296.25h0.5M197 296.25h0.5M200.5 296.25h0.5M202.5 296.25h1M173.5 296.75h0.5M177.5 296.75h0.5M181.5 296.75h0.5M183.5 296.75h1M187 296.75h0.5M188 296.75h0.5M191.5 296.75h0.5M193.5 296.75h0.5M194.5 296.75h1M197 296.75h0.5M198.5 296.75h0.5M207 296.75h0.5M171 297.25h0.5M173 297.25h0.5M177.5 297.25h0.5M178.5 297.25h0.5M184 297.25h0.5M185.5 297.25h0.5M186.5 297.25h1M188 297.25h2M192.5 297.25h1M194 297.25h0.5M196.5 297.25h0.5M203.5 297.25h0.5M174 297.75h0.5M182.5 297.75h0.5M184.5 297.75h1M186 297.75h1M188 297.75h0.5M189 297.75h1M192 297.75h0.5M194 297.75h0.5M196.5 297.75h0.5M197.5 297.75h2M204 297.75h0.5M206.5 297.75h0.5M207.5 297.75h0.5M170 298.25h0.5M178 298.25h2M182 298.25h0.5M185.5 298.25h1M187 298.25h0.5M193.5 298.25h1.5M196 298.25h0.5M198 298.25h0.5M199 298.25h0.5M202.5 298.25h0.5M205 298.25h0.5M166 298.75h0.5M168.5 298.75h1M171.5 298.75h1M175 298.75h0.5M176 298.75h1.5M179.5 298.75h0.5M180.5 298.75h0.5M181.5 298.75h1.5M187.5 298.75h0.5M189 298.75h0.5M190 298.75h1.5M192 298.75h0.5M194.5 298.75h1M196 298.75h0.5M198.5 298.75h0.5M199.5 298.75h0.5M201 298.75h1M203 298.75h0.5M204.5 298.75h0.5M165.5 299.25h0.5M174.5 299.25h0.5M178.5 299.25h1M180 299.25h0.5M183 299.25h0.5M184 299.25h1.5M187 299.25h0.5M189 299.25h0.5M190 299.25h1M191.5 299.25h1M193 299.25h0.5M194 299.25h0.5M196 299.25h0.5M197 299.25h2.5M200 299.25h0.5M203.5 299.25h1M168.5 299.75h0.5M170 299.75h0.5M171.5 299.75h0.5M174 299.75h0.5M175.5 299.75h0.5M177.5 299.75h0.5M178.5 299.75h0.5M183.5 299.75h0.5M185.5 299.75h0.5M186.5 299.75h0.5M187.5 299.75h1M189 299.75h0.5M190 299.75h0.5M191 299.75h0.5M192.5 299.75h0.5M194.5 299.75h1M198 299.75h2M202 299.75h0.5M205.5 299.75h0.5M213.5 299.75h0.5M160.5 300.25h0.5M168.5 300.25h0.5M174 300.25h0.5M175 300.25h0.5M176.5 300.25h1M178 300.25h0.5M179 300.25h0.5M180.5 300.25h1M183 300.25h0.5M185 300.25h0.5M186 300.25h0.5M188 300.25h1M191 300.25h0.5M194.5 300.25h0.5M195.5 300.25h1M197 300.25h1M199 300.25h1.5M201.5 300.25h0.5M206.5 300.25h0.5M219 300.25h0.5M167 300.75h0.5M170.5 300.75h0.5M172 300.75h0.5M173.5 300.75h0.5M175.5 300.75h1M177 300.75h0.5M178.5 300.75h0.5M179.5 300.75h0.5M181 300.75h1M183.5 300.75h0.5M185 300.75h0.5M186 300.75h0.5M188 300.75h0.5M191.5 300.75h0.5M193.5 300.75h0.5M199.5 300.75h1.5M208.5 300.75h0.5M212 300.75h0.5M216.5 300.75h0.5M169.5 301.25h1M171.5 301.25h0.5M173.5 301.25h0.5M177 301.25h1M180.5 301.25h0.5M183.5 301.25h1.5M188.5 301.25h1.5M191 301.25h0.5M193 301.25h0.5M195 301.25h1M196.5 301.25h0.5M198 301.25h0.5M199 301.25h0.5M201 301.25h1M203.5 301.25h1M205 301.25h0.5M211.5 301.25h1M174.5 301.75h0.5M176.5 301.75h1.5M178.5 301.75h1.5M181 301.75h1.5M183 301.75h0.5M184.5 301.75h1M187 301.75h0.5M188.5 301.75h0.5M191 301.75h1.5M193 301.75h0.5M194.5 301.75h1M197.5 301.75h1M199 301.75h0.5M201 301.75h0.5M203 301.75h1M205.5 301.75h1M207 301.75h0.5M211.5 301.75h0.5M170.5 302.25h0.5M173.5 302.25h1M176 302.25h1M178 302.25h0.5M179.5 302.25h3.5M183.5 302.25h1.5M189 302.25h1M190.5 302.25h2M193 302.25h0.5M194.5 302.25h3M198 302.25h1M170 302.75h0.5M172 302.75h0.5M177.5 302.75h0.5M181 302.75h1.5M183 302.75h1M184.5 302.75h0.5M186 302.75h0.5M187 302.75h1M188.5 302.75h1M191 302.75h0.5M193.5 302.75h0.5M194.5 302.75h0.5M195.5 302.75h0.5M196.5 302.75h0.5M198 302.75h0.5M200.5 302.75h0.5M202 302.75h0.5M204 302.75h0.5M207.5 302.75h0.5M209.5 302.75h0.5M214.5 302.75h0.5M165.5 303.25h0.5M167.5 303.25h0.5M169 303.25h0.5M170 303.25h0.5M172 303.25h1M181 303.25h3.5M185 303.25h0.5M186 303.25h0.5M191 303.25h2M194 303.25h1M196.5 303.25h1M198 303.25h1M199.5 303.25h0.5M201 303.25h0.5M202 303.25h0.5M204 303.25h0.5M207.5 303.25h0.5M170.5 303.75h0.5M171.5 303.75h0.5M172.5 303.75h0.5M174 303.75h1M176.5 303.75h1M179 303.75h0.5M181.5 303.75h1.5M183.5 303.75h0.5M184.5 303.75h1M187 303.75h0.5M188.5 303.75h3.5M192.5 303.75h0.5M193.5 303.75h0.5M195 303.75h0.5M196 303.75h1M197.5 303.75h1.5M200 303.75h0.5M201 303.75h0.5M202 303.75h0.5M204 303.75h1M206 303.75h0.5M212 303.75h0.5M167 304.25h0.5M168.5 304.25h0.5M171 304.25h0.5M172.5 304.25h1M174 304.25h1M176.5 304.25h1M178.5 304.25h1M180 304.25h0.5M181 304.25h1M182.5 304.25h1M185.5 304.25h0.5M186.5 304.25h0.5M187.5 304.25h0.5M188.5 304.25h1M190 304.25h1M191.5 304.25h0.5M192.5 304.25h1M194 304.25h1.5M196 304.25h0.5M197.5 304.25h2M200 304.25h1M201.5 304.25h0.5M208 304.25h0.5M212 304.25h0.5M213 304.25h0.5M214.5 304.25h0.5M166.5 304.75h0.5M173.5 304.75h0.5M176 304.75h0.5M177.5 304.75h0.5M178.5 304.75h1M180.5 304.75h1.5M183 304.75h7.5M191 304.75h1M192.5 304.75h8.5M202 304.75h1M204 304.75h1.5M206.5 304.75h1M210 304.75h0.5M211.5 304.75h0.5M170.5 305.25h0.5M173.5 305.25h0.5M175 305.25h0.5M178.5 305.25h0.5M179.5 305.25h9M189 305.25h0.5M190 305.25h0.5M191 305.25h0.5M193 305.25h2M195.5 305.25h0.5M197 305.25h5.5M203 305.25h0.5M204 305.25h1M206 305.25h1M207.5 305.25h0.5M208.5 305.25h1M210 305.25h0.5M165.5 305.75h1M168.5 305.75h0.5M169.5 305.75h0.5M172 305.75h0.5M175 305.75h2.5M178 305.75h0.5M179.5 305.75h5.5M186 305.75h1.5M204 305.75h0.5M206 305.75h1M207.5 305.75h0.5M208.5 305.75h0.5M209.5 305.75h1.5M214 305.75h0.5M216 305.75h0.5M168 306.25h0.5M171.5 306.25h0.5M173 306.25h1M174.5 306.25h1M176.5 306.25h0.5M178 306.25h0.5M182 306.25h2M209.5 306.25h0.5M210.5 306.25h2M213 306.25h0.5M233.5 306.25h0.5M170 306.75h2M174 306.75h2M176.5 306.75h1M210.5 306.75h2.5M214 306.75h0.5M164.5 307.25h0.5M169.5 307.25h0.5M170.5 307.25h3.5M174.5 307.25h1M176 307.25h0.5M177 307.25h0.5M211.5 307.25h0.5M212.5 307.25h1M215.5 307.25h0.5M167.5 307.75h1M169.5 307.75h0.5M170.5 307.75h0.5M171.5 307.75h1M173 307.75h0.5M174 307.75h0.5M212 307.75h1M214 307.75h1.5M221.5 307.75h0.5M161.5 308.25h0.5M165 308.25h0.5M168.5 308.25h0.5M171 308.25h1.5M213 308.25h2.5M216 308.25h0.5M227 308.25h0.5M167.5 308.75h1.5M170 308.75h1M171.5 308.75h0.5M213 308.75h0.5M214 308.75h0.5M215 308.75h0.5M160.5 309.25h1M162 309.25h0.5M168 309.25h0.5M169.5 309.25h0.5M214 309.25h1M218 309.25h0.5M166 309.75h1.5M168.5 309.75h1M214 309.75h2M216.5 309.75h0.5M218.5 309.75h0.5M167 310.25h0.5M168.5 310.25h1M214 310.25h2M218 310.25h0.5M224 310.25h0.5M165.5 310.75h0.5M167 310.75h2M214.5 310.75h2M221.5 310.75h0.5M160.5 311.25h0.5M163 311.25h0.5M166 311.25h0.5M167 311.25h0.5M215 311.25h1M216.5 311.25h0.5M218 311.25h0.5M231 311.25h0.5M163 311.75h1M167 311.75h0.5M215.5 311.75h2M163 312.25h0.5M166.5 312.25h1.5M215.5 312.25h1M165.5 312.75h0.5M166.5 312.75h1M216.5 312.75h0.5M218 312.75h0.5M160 313.25h0.5M166.5 313.25h1M217 313.25h0.5M218 313.25h0.5M219.5 313.25h0.5M220.5 313.25h0.5M223 313.25h0.5M224.5 313.25h0.5M163.5 313.75h1M165.5 313.75h2M216 313.75h1.5M218 313.75h0.5M224 313.75h0.5M161.5 314.25h0.5M163.5 314.25h0.5M165.5 314.25h1M167 314.25h0.5M216 314.25h0.5M220 314.25h0.5M161.5 314.75h0.5M166 314.75h1M216 314.75h0.5M218 314.75h0.5M164.5 315.25h0.5M165.5 315.25h1.5M216 315.25h0.5M217 315.25h0.5M218 315.25h0.5M221 315.25h0.5M164 315.75h0.5M165.5 315.75h0.5M166.5 315.75h0.5M216.5 315.75h1M219 315.75h0.5M224 315.75h0.5M166 316.25h1M215.5 316.25h0.5M216.5 316.25h0.5M217.5 316.25h0.5M220 316.25h0.5M223 316.25h0.5M166 316.75h0.5M167 316.75h0.5M215 316.75h1M216.5 316.75h0.5M164.5 317.25h0.5M166 317.25h0.5M167 317.25h1M214.5 317.25h1.5M217 317.25h1M238.5 317.25h0.5M166 317.75h1.5M214.5 317.75h1.5M217.5 317.75h0.5M167 318.25h0.5M214.5 318.25h1M216 318.25h0.5M217 318.25h1M163.5 318.75h0.5M166.5 318.75h1M214.5 318.75h0.5M215.5 318.75h0.5M217 318.75h0.5M162.5 319.25h0.5M165 319.25h0.5M166 319.25h0.5M167 319.25h1M214.5 319.25h0.5M215.5 319.25h0.5M161 319.75h0.5M165 319.75h0.5M168 319.75h0.5M214.5 319.75h3M165 320.25h0.5M167 320.25h0.5M168 320.25h1M214 320.25h0.5M215 320.25h1M167.5 320.75h2M212.5 320.75h1.5M216 320.75h0.5M217.5 320.75h1M166.5 321.25h0.5M167.5 321.25h0.5M168.5 321.25h1.5M212.5 321.25h1.5M220 321.25h0.5M167 321.75h1M169.5 321.75h1.5M212 321.75h3M215.5 321.75h0.5M219 321.75h0.5M168 322.25h0.5M170 322.25h2M212 322.25h0.5M164.5 322.75h0.5M169.5 322.75h0.5M170.5 322.75h1.5M212.5 322.75h0.5M218 322.75h0.5M169 323.25h2M171.5 323.25h1.5M173.5 323.25h0.5M210.5 323.25h1.5M212.5 323.25h0.5M214.5 323.25h0.5M217.5 323.25h0.5M168 323.75h0.5M169 323.75h0.5M170.5 323.75h1M172.5 323.75h1M174 323.75h3M193.5 323.75h0.5M210 323.75h0.5M211 323.75h1M213 323.75h1M236 323.75h0.5M166 324.25h0.5M167.5 324.25h0.5M171.5 324.25h0.5M174 324.25h1.5M176 324.25h1.5M178 324.25h2M180.5 324.25h2M184 324.25h2.5M188 324.25h2.5M191 324.25h2M193.5 324.25h2.5M197.5 324.25h1.5M207 324.25h3.5M211 324.25h0.5M212 324.25h0.5M213 324.25h0.5M170.5 324.75h0.5M172.5 324.75h0.5M174 324.75h0.5M175 324.75h0.5M177 324.75h2.5M180 324.75h0.5M181.5 324.75h0.5M184 324.75h2.5M187 324.75h1M188.5 324.75h2M191 324.75h2.5M194 324.75h0.5M195 324.75h0.5M196.5 324.75h4M201 324.75h0.5M204 324.75h1.5M206.5 324.75h0.5M207.5 324.75h1M209.5 324.75h0.5M210.5 324.75h0.5M211.5 324.75h0.5M213 324.75h0.5M166 325.25h0.5M173 325.25h0.5M175 325.25h1M176.5 325.25h0.5M177.5 325.25h0.5M179 325.25h0.5M180.5 325.25h1.5M182.5 325.25h1.5M184.5 325.25h0.5M186 325.25h0.5M188 325.25h0.5M189 325.25h1M190.5 325.25h0.5M192 325.25h0.5M193.5 325.25h1M195 325.25h3M199 325.25h3M202.5 325.25h1.5M205 325.25h2M208.5 325.25h1M210.5 325.25h0.5M216 325.25h1M171.5 325.75h0.5M172.5 325.75h0.5M177.5 325.75h0.5M179 325.75h0.5M182.5 325.75h1M185 325.75h0.5M186.5 325.75h0.5M187.5 325.75h0.5M188.5 325.75h0.5M190 325.75h0.5M191 325.75h1M193.5 325.75h0.5M195.5 325.75h0.5M196.5 325.75h2.5M199.5 325.75h0.5M200.5 325.75h1M202.5 325.75h1M204.5 325.75h0.5M206 325.75h2M209 325.75h1M210.5 325.75h0.5M176.5 326.25h0.5M178.5 326.25h0.5M180 326.25h0.5M181 326.25h0.5M183 326.25h0.5M185 326.25h1M188 326.25h0.5M189 326.25h0.5M190 326.25h0.5M191.5 326.25h0.5M195 326.25h0.5M196.5 326.25h1.5M199 326.25h1M201 326.25h1.5M203 326.25h1M204.5 326.25h0.5M206.5 326.25h1M208.5 326.25h2.5M211.5 326.25h0.5M215.5 326.25h0.5M172 326.75h0.5M181 326.75h0.5M183 326.75h0.5M187 326.75h0.5M192.5 326.75h0.5M195 326.75h1.5M197 326.75h0.5M199.5 326.75h0.5M201 326.75h1M203.5 326.75h0.5M205.5 326.75h0.5M206.5 326.75h0.5M209.5 326.75h2" stroke="#000" stroke-width="0.7" fill="none"/>
<path d="M124 379.5h1.5v0.5h-1.5zM94.5 379.5h1v1h-1zM122 380h4.5v0.5h-4.5zM97 380h0.5v0.5h-0.5zM94.5 380.5h3.5v0.5h-3.5zM119.5 380.5h1v0.5h-1zM121 380.5h5.5v0.5h-5.5zM89 380.5h0.5v0.5h-0.5zM119 381h7.5v0.5h-7.5zM88.5 381h1.5v0.5h-1.5zM127 381h1v0.5h-1zM91.5 381h6.5v1h-6.5zM117 381.5h11v0.5h-11zM87 381.5h3v0.5h-3zM117 382h11.5v0.5h-11.5zM87 382h12v0.5h-12zM84.5 382.5h1.5v0.5h-1.5zM86.5 382.5h13v0.5h-13zM115 382.5h13v0.5h-13zM81.5 383h18.5v0.5h-18.5zM114 383h14.5v0.5h-14.5zM113 383.5h14.5v0.5h-14.5zM77.5 383.5h0.5v0.5h-0.5zM80 383.5h20v0.5h-20zM77 384h2v0.5h-2zM111 384h16v0.5h-16zM79.5 384h20.5v0.5h-20.5zM74.5 384.5h1v0.5h-1zM110 384.5h17v0.5h-17zM78.5 384.5h21.5v0.5h-21.5zM77 384.5h1v0.5h-1zM108.5 385h18v0.5h-18zM74.5 385h26v0.5h-26zM72 385h1v0.5h-1zM69.5 385.5h31v0.5h-31zM108 385.5h18v0.5h-18zM106 386h20v0.5h-20zM66.5 386h1.5v0.5h-1.5zM69 386h31v0.5h-31zM106 386.5h18.5v0.5h-18.5zM65 386.5h35.5v1h-35.5zM61 386.5h0.5v1h-0.5zM104 387h0.5v0.5h-0.5zM63 387h0.5v0.5h-0.5zM105 387h19.5v0.5h-19.5zM60.5 387.5h40.5v0.5h-40.5zM104 387.5h20v0.5h-20zM59.5 388h41.5v0.5h-41.5zM103.5 388h20v0.5h-20zM103 388.5h20.5v0.5h-20.5zM58.5 388.5h42.5v0.5h-42.5zM56 389h44v0.5h-44zM103 389h19.5v0.5h-19.5zM54.5 389.5h44v0.5h-44zM102.5 389.5h19.5v1h-19.5zM54 390h44v0.5h-44zM53 390.5h44.5v0.5h-44.5zM102.5 390.5h17.5v0.5h-17.5zM102.5 391h16.5v0.5h-16.5zM52.5 391h44.5v0.5h-44.5zM103 391.5h16v0.5h-16zM102.5 392h15.5v0.5h-15.5zM52.5 391.5h45v1.5h-45zM101.5 392.5h16v0.5h-16zM52.5 393h44v0.5h-44zM116 393h1.5v0.5h-1.5zM101.5 393h14v1h-14zM52.5 393.5h43v0.5h-43zM52.5 394h42v0.5h-42zM102.5 394h12.5v0.5h-12.5zM115.5 394.5h0.5v0.5h-0.5zM102.5 394.5h11.5v0.5h-11.5zM52.5 394.5h41.5v0.5h-41.5zM114.5 394.5h0.5v0.5h-0.5zM101.5 395h11.5v0.5h-11.5zM52.5 395h41v0.5h-41zM52.5 395.5h40.5v0.5h-40.5zM102 395.5h11v1h-11zM52.5 396h40v0.5h-40zM102.5 396.5h10v0.5h-10zM52.5 396.5h39v0.5h-39zM102.5 397h7.5v0.5h-7.5zM52.5 397h39.5v0.5h-39.5zM103 397.5h6.5v0.5h-6.5zM52.5 397.5h39v0.5h-39zM103.5 398h4.5v0.5h-4.5zM108.5 398h0.5v0.5h-0.5zM52.5 398h38v0.5h-38zM104 398.5h3v0.5h-3zM89 398.5h0.5v0.5h-0.5zM52.5 398.5h36v1h-36zM104.5 399h0.5v0.5h-0.5zM87 399.5h1.5v0.5h-1.5zM52.5 399.5h34v1.5h-34zM52.5 401h33v1.5h-33zM52.5 402.5h31.5v0.5h-31.5zM52.5 403h31v0.5h-31zM52.5 403.5h30.5v0.5h-30.5zM52.5 404h29.5v0.5h-29.5zM52.5 404.5h26v1h-26zM52.5 405.5h24.5v0.5h-24.5zM75.5 406h0.5v0.5h-0.5zM52.5 406h22.5v1h-22.5zM72 407h1v0.5h-1zM53 407h18v0.5h-18z" fill="#0b0b0b"/>
<path d="M53 338.25h0.5M79.5 338.25h0.5M83.5 338.25h0.5M85 338.25h0.5M91.5 338.25h0.5M61 338.75h0.5M64 338.75h0.5M65 338.75h0.5M66.5 338.75h0.5M74 338.75h0.5M84 338.75h0.5M89 338.75h0.5M53 339.25h0.5M78.5 339.25h0.5M60 339.75h0.5M63.5 339.75h0.5M87 339.75h0.5M89 339.75h0.5M63.5 340.25h0.5M68 340.25h0.5M59.5 340.75h0.5M65 340.75h0.5M71.5 340.75h0.5M78.5 340.75h0.5M82.5 340.75h0.5M91 340.75h0.5M92.5 340.75h0.5M99 340.75h0.5M108 341.25h0.5M127.5 341.25h0.5M53.5 341.75h0.5M55 341.75h0.5M65.5 341.75h0.5M97 341.75h0.5M135.5 341.75h0.5M76.5 342.25h1M91.5 342.25h0.5M56 342.75h0.5M58.5 342.75h0.5M65 342.75h0.5M83 342.75h0.5M85.5 342.75h0.5M91.5 342.75h0.5M97.5 342.75h0.5M53.5 343.25h0.5M83.5 343.25h0.5M57.5 343.75h0.5M62.5 343.75h0.5M72.5 343.75h0.5M85 343.75h0.5M129.5 343.75h0.5M56 344.25h0.5M59 344.25h0.5M77.5 344.25h0.5M89.5 344.25h0.5M97.5 344.25h0.5M131 344.25h0.5M60.5 344.75h0.5M69.5 344.75h0.5M135.5 344.75h0.5M62.5 345.25h0.5M69 345.25h0.5M77 345.25h0.5M90.5 345.25h0.5M94 345.25h0.5M58 345.75h0.5M61.5 345.75h0.5M62.5 345.75h0.5M73.5 345.75h0.5M78.5 345.75h0.5M81 345.75h0.5M98 345.75h0.5M120.5 345.75h0.5M56 346.25h0.5M65.5 346.25h0.5M71 346.25h0.5M80.5 346.25h0.5M88 346.25h0.5M94.5 346.25h0.5M66.5 346.75h0.5M117 346.75h0.5M86.5 347.25h0.5M94.5 347.25h0.5M95.5 347.25h0.5M113.5 347.25h0.5M124.5 347.25h0.5M130.5 347.25h0.5M88.5 347.75h0.5M69 348.25h0.5M81 348.25h0.5M89 348.25h0.5M96.5 348.25h0.5M105.5 348.25h0.5M62.5 348.75h0.5M65.5 348.75h0.5M123 348.75h0.5M65.5 349.25h0.5M66.5 349.25h0.5M84 349.25h0.5M80.5 349.75h0.5M85.5 349.75h0.5M126 349.75h0.5M129.5 349.75h0.5M63.5 350.25h0.5M67.5 350.25h0.5M77.5 350.25h0.5M93.5 350.25h0.5M94.5 350.25h0.5M132.5 350.25h0.5M73.5 350.75h0.5M112 350.75h0.5M120.5 350.75h0.5M126.5 350.75h0.5M54.5 351.25h0.5M64.5 351.25h0.5M74 351.25h0.5M92 351.25h0.5M99.5 351.25h0.5M130.5 351.25h0.5M54 351.75h0.5M58.5 351.75h0.5M97 351.75h0.5M121.5 351.75h0.5M125.5 351.75h0.5M66.5 352.25h0.5M76 352.25h0.5M82 352.25h0.5M95 352.25h0.5M124.5 352.25h0.5M62.5 352.75h0.5M80 352.75h0.5M114 352.75h0.5M122 352.75h0.5M128.5 352.75h0.5M69 353.25h0.5M87 353.25h0.5M64.5 353.75h0.5M80.5 353.75h0.5M86.5 353.75h0.5M93 353.75h0.5M106.5 353.75h0.5M108 353.75h0.5M110.5 353.75h0.5M115 353.75h0.5M117 353.75h0.5M119 353.75h0.5M121.5 353.75h0.5M67.5 354.25h0.5M97 354.25h0.5M115.5 354.25h0.5M118.5 354.25h0.5M120.5 354.25h0.5M123 354.25h0.5M109 354.75h0.5M117 354.75h0.5M120 354.75h1M122.5 354.75h0.5M131.5 354.75h0.5M134.5 354.75h0.5M136 354.75h0.5M53 355.25h0.5M57 355.25h0.5M58.5 355.25h0.5M60.5 355.25h0.5M75.5 355.25h0.5M89 355.25h0.5M93 355.25h0.5M111.5 355.25h0.5M70.5 355.75h0.5M81 355.75h0.5M82.5 355.75h0.5M93.5 355.75h0.5M98 355.75h0.5M116.5 355.75h0.5M118.5 355.75h0.5M121 355.75h1M123 355.75h0.5M124.5 355.75h0.5M57 356.25h0.5M71.5 356.25h0.5M81 356.25h0.5M107 356.25h0.5M111.5 356.25h0.5M118 356.25h1M121 356.25h0.5M125 356.25h0.5M59 356.75h0.5M74 356.75h0.5M77.5 356.75h0.5M84.5 356.75h0.5M94.5 356.75h0.5M96.5 356.75h0.5M115.5 356.75h0.5M116.5 356.75h0.5M119.5 356.75h0.5M55.5 357.25h0.5M76.5 357.25h0.5M83 357.25h0.5M85 357.25h0.5M99 357.25h0.5M107 357.25h0.5M113.5 357.25h1M118.5 357.25h1M56.5 357.75h0.5M58.5 357.75h0.5M59.5 357.75h0.5M69.5 357.75h0.5M72.5 357.75h0.5M76 357.75h0.5M80.5 357.75h0.5M83.5 357.75h0.5M100 357.75h0.5M107.5 357.75h0.5M109 357.75h0.5M113.5 357.75h0.5M115 357.75h0.5M117.5 357.75h0.5M118.5 357.75h0.5M63.5 358.25h0.5M80 358.25h0.5M86 358.25h0.5M87 358.25h0.5M91 358.25h0.5M115.5 358.25h0.5M120.5 358.25h0.5M71.5 358.75h0.5M84.5 358.75h0.5M91.5 358.75h0.5M93.5 358.75h1M114.5 358.75h0.5M116 358.75h0.5M117 358.75h1M118.5 358.75h0.5M55.5 359.25h0.5M69 359.25h0.5M81 359.25h0.5M90.5 359.25h0.5M92.5 359.25h0.5M96 359.25h0.5M99.5 359.25h0.5M111 359.25h0.5M117 359.25h0.5M121 359.25h0.5M57.5 359.75h0.5M89.5 359.75h0.5M94 359.75h0.5M112 359.75h1M114.5 359.75h1M127.5 359.75h0.5M91 360.25h1M106 360.25h0.5M111.5 360.25h0.5M113 360.25h1M115 360.25h1M117.5 360.25h1M122.5 360.25h0.5M54.5 360.75h0.5M87 360.75h0.5M97 360.75h0.5M98 360.75h0.5M106 360.75h0.5M108.5 360.75h0.5M115.5 360.75h1M117 360.75h0.5M121 360.75h0.5M125.5 360.75h0.5M63.5 361.25h0.5M75 361.25h0.5M88.5 361.25h0.5M111.5 361.25h0.5M113.5 361.25h0.5M114.5 361.25h0.5M115.5 361.25h1.5M117.5 361.25h0.5M118.5 361.25h0.5M123.5 361.25h0.5M82.5 361.75h0.5M83.5 361.75h0.5M89.5 361.75h0.5M98.5 361.75h0.5M109 361.75h0.5M112 361.75h0.5M115.5 361.75h0.5M55.5 362.25h0.5M77 362.25h0.5M83.5 362.25h1M93.5 362.25h0.5M94.5 362.25h0.5M108 362.25h0.5M111.5 362.25h1M115 362.25h0.5M117.5 362.25h0.5M123 362.25h0.5M86.5 362.75h0.5M99 362.75h0.5M112.5 362.75h1M114.5 362.75h0.5M125.5 362.75h0.5M129 362.75h0.5M65.5 363.25h0.5M67.5 363.25h0.5M71 363.25h0.5M78.5 363.25h0.5M85 363.25h0.5M105.5 363.25h0.5M109.5 363.25h0.5M111 363.25h0.5M113 363.25h0.5M115.5 363.25h0.5M120 363.25h1M124.5 363.25h0.5M60.5 363.75h0.5M64.5 363.75h0.5M72 363.75h0.5M77.5 363.75h0.5M90.5 363.75h0.5M109 363.75h0.5M110.5 363.75h0.5M111.5 363.75h1M118 363.75h0.5M119 363.75h0.5M53 364.25h0.5M58.5 364.25h0.5M70.5 364.25h0.5M110 364.25h1M112 364.25h0.5M114 364.25h1M56 364.75h0.5M69 364.75h0.5M80.5 364.75h0.5M85.5 364.75h0.5M96.5 364.75h0.5M111.5 364.75h0.5M118.5 364.75h0.5M65.5 365.25h0.5M75 365.25h0.5M76 365.25h0.5M83.5 365.25h0.5M85.5 365.25h0.5M92.5 365.25h0.5M108.5 365.25h0.5M113 365.25h0.5M117 365.25h0.5M120.5 365.25h0.5M128 365.25h0.5M92.5 365.75h0.5M98 365.75h0.5M107.5 365.75h0.5M53.5 366.25h0.5M61 366.25h0.5M69 366.25h0.5M71 366.25h0.5M108 366.25h0.5M110 366.25h0.5M112 366.25h0.5M119 366.25h0.5M123 366.25h0.5M53.5 366.75h0.5M76 366.75h0.5M80 366.75h0.5M113.5 366.75h0.5M116.5 366.75h0.5M124 366.75h0.5M55 367.25h0.5M58 367.25h0.5M82 367.25h0.5M97 367.25h0.5M105.5 367.25h0.5M107.5 367.25h1M109.5 367.25h0.5M117 367.25h0.5M122.5 367.25h1M58.5 367.75h0.5M61 367.75h0.5M63 367.75h0.5M70.5 367.75h0.5M79 367.75h0.5M93 367.75h0.5M109.5 367.75h0.5M111.5 367.75h0.5M71 368.25h0.5M108 368.25h0.5M128 368.25h0.5M69 368.75h0.5M80 368.75h0.5M95.5 368.75h0.5M97.5 368.75h0.5M103.5 368.75h0.5M56.5 369.25h0.5M84 369.25h0.5M85.5 369.25h0.5M94.5 369.25h0.5M97.5 369.25h0.5M113.5 369.25h0.5M55.5 369.75h0.5M87 369.75h0.5M90.5 369.75h0.5M99 369.75h0.5M109.5 369.75h0.5M57.5 370.25h0.5M73 370.25h0.5M57 370.75h1M96.5 370.75h0.5M103.5 370.75h0.5M66.5 371.25h0.5M74 371.25h0.5M81.5 371.25h0.5M92.5 371.25h0.5M118 371.25h0.5M53.5 371.75h0.5M56.5 371.75h0.5M79.5 371.75h0.5M82 371.75h0.5M90.5 371.75h0.5M92.5 371.75h0.5M97 371.75h0.5M102.5 371.75h0.5M119.5 371.75h0.5M56.5 372.25h0.5M68.5 372.25h0.5M92 372.25h0.5M93.5 372.25h0.5M98.5 372.25h0.5M122.5 372.25h0.5M57 372.75h0.5M63.5 372.75h0.5M78 372.75h0.5M83.5 372.75h0.5M86 372.75h0.5M96 372.75h0.5M103.5 372.75h0.5M114 372.75h0.5M115 372.75h0.5M55 373.25h0.5M63.5 373.25h0.5M69.5 373.25h0.5M83 373.25h0.5M84.5 373.25h0.5M87 373.25h0.5M89.5 373.25h0.5M94.5 373.25h0.5M96 373.25h0.5M98 373.25h0.5M105 373.25h0.5M61 373.75h0.5M66.5 373.75h0.5M73 373.75h0.5M91 373.75h0.5M101 373.75h0.5M124.5 373.75h0.5M127 373.75h0.5M53.5 374.25h0.5M56 374.25h0.5M58.5 374.25h0.5M61.5 374.25h0.5M82.5 374.25h0.5M87 374.25h0.5M100.5 374.25h0.5M111.5 374.25h0.5M123 374.25h0.5M126.5 374.25h0.5M61.5 374.75h1M64.5 374.75h0.5M73 374.75h0.5M75.5 374.75h0.5M80 374.75h0.5M84.5 374.75h0.5M86.5 374.75h0.5M90 374.75h0.5M91.5 374.75h0.5M95 374.75h0.5M99.5 374.75h0.5M115.5 374.75h0.5M117 374.75h0.5M54 375.25h0.5M60.5 375.25h0.5M74.5 375.25h0.5M79.5 375.25h0.5M84 375.25h0.5M88.5 375.25h0.5M62.5 375.75h0.5M67.5 375.75h0.5M69.5 375.75h0.5M74 375.75h0.5M76.5 375.75h0.5M82 375.75h1M84 375.75h0.5M85.5 375.75h0.5M89.5 375.75h0.5M91 375.75h0.5M96 375.75h0.5M97 375.75h0.5M101.5 375.75h0.5M105 375.75h0.5M107 375.75h0.5M116.5 375.75h0.5M126 375.75h0.5M55.5 376.25h0.5M74 376.25h0.5M75 376.25h0.5M80.5 376.25h0.5M81.5 376.25h0.5M83.5 376.25h0.5M85 376.25h0.5M86 376.25h0.5M94 376.25h0.5M95 376.25h0.5M96 376.25h0.5M97 376.25h0.5M99.5 376.25h1M103 376.25h0.5M123.5 376.25h0.5M124.5 376.25h0.5M127.5 376.25h0.5M56 376.75h0.5M62.5 376.75h0.5M66 376.75h0.5M76 376.75h0.5M83 376.75h0.5M85.5 376.75h0.5M88 376.75h0.5M94.5 376.75h0.5M95.5 376.75h0.5M97 376.75h0.5M101 376.75h1M114.5 376.75h0.5M116 376.75h0.5M117 376.75h0.5M120.5 376.75h0.5M127.5 376.75h0.5M57.5 377.25h0.5M61 377.25h0.5M67.5 377.25h0.5M78.5 377.25h0.5M80 377.25h0.5M84.5 377.25h1M88.5 377.25h1M90.5 377.25h0.5M91.5 377.25h0.5M93.5 377.25h0.5M95.5 377.25h0.5M99 377.25h0.5M101 377.25h0.5M106 377.25h0.5M107.5 377.25h0.5M125 377.25h0.5M133.5 377.25h0.5M60 377.75h1M66.5 377.75h0.5M71 377.75h0.5M75.5 377.75h1M78 377.75h0.5M83 377.75h1M87 377.75h0.5M88 377.75h0.5M90 377.75h1M92 377.75h0.5M93.5 377.75h1M95 377.75h0.5M97 377.75h0.5M98.5 377.75h0.5M100 377.75h0.5M101.5 377.75h0.5M107.5 377.75h0.5M115 377.75h0.5M118 377.75h0.5M119.5 377.75h1M129 377.75h0.5M130.5 377.75h0.5M54 378.25h0.5M66 378.25h0.5M68.5 378.25h0.5M70 378.25h0.5M73 378.25h0.5M74 378.25h0.5M75.5 378.25h0.5M78 378.25h0.5M80 378.25h0.5M82 378.25h1M83.5 378.25h0.5M84.5 378.25h0.5M88 378.25h0.5M91.5 378.25h1M93 378.25h0.5M94 378.25h2M97.5 378.25h0.5M101.5 378.25h0.5M104.5 378.25h0.5M105.5 378.25h0.5M110.5 378.25h0.5M120.5 378.25h0.5M122.5 378.25h1.5M124.5 378.25h0.5M125.5 378.25h1M65.5 378.75h1.5M67.5 378.75h0.5M71.5 378.75h0.5M73 378.75h1M74.5 378.75h1M76.5 378.75h0.5M78 378.75h0.5M81.5 378.75h1M83.5 378.75h0.5M85 378.75h2M89.5 378.75h0.5M90.5 378.75h0.5M92.5 378.75h1.5M95 378.75h0.5M96 378.75h1.5M98 378.75h1M100 378.75h0.5M101.5 378.75h0.5M106 378.75h0.5M115 378.75h0.5M117.5 378.75h0.5M118.5 378.75h0.5M121 378.75h0.5M122.5 378.75h0.5M124 378.75h0.5M127 378.75h0.5M57 379.25h0.5M62 379.25h0.5M69 379.25h0.5M71.5 379.25h0.5M77.5 379.25h0.5M79 379.25h0.5M83 379.25h0.5M84 379.25h0.5M85.5 379.25h0.5M87 379.25h1M90 379.25h2M92.5 379.25h1M94 379.25h1.5M96 379.25h1M97.5 379.25h0.5M98.5 379.25h1.5M100.5 379.25h1M102 379.25h1M113.5 379.25h0.5M118.5 379.25h2M122 379.25h0.5M123 379.25h0.5M124 379.25h0.5M126 379.25h0.5M127 379.25h0.5M128.5 379.25h0.5M130 379.25h1M63 379.75h0.5M68.5 379.75h0.5M75 379.75h0.5M76 379.75h0.5M77.5 379.75h1M81 379.75h0.5M83 379.75h1.5M87 379.75h2.5M90 379.75h0.5M92 379.75h1M93.5 379.75h0.5M95.5 379.75h1.5M97.5 379.75h1M99.5 379.75h0.5M101.5 379.75h0.5M105.5 379.75h0.5M110.5 379.75h1.5M115 379.75h0.5M118 379.75h0.5M121.5 379.75h1M125.5 379.75h1M128 379.75h0.5M129.5 379.75h0.5M132 379.75h0.5M134 379.75h0.5M62 380.25h1M66 380.25h0.5M69 380.25h0.5M72.5 380.25h0.5M73.5 380.25h0.5M78.5 380.25h0.5M82.5 380.25h0.5M83.5 380.25h1M86 380.25h0.5M87 380.25h0.5M88 380.25h0.5M89 380.25h4M93.5 380.25h1M95.5 380.25h1.5M97.5 380.25h2.5M102 380.25h1M106 380.25h0.5M109 380.25h0.5M114 380.25h1M116 380.25h0.5M117.5 380.25h1M119 380.25h0.5M120 380.25h0.5M121 380.25h1M126.5 380.25h2M131 380.25h0.5M59 380.75h0.5M61 380.75h0.5M64 380.75h0.5M69.5 380.75h0.5M70.5 380.75h1M72 380.75h1M78 380.75h0.5M80.5 380.75h0.5M81.5 380.75h0.5M83 380.75h0.5M87 380.75h2M89.5 380.75h5M98 380.75h0.5M99 380.75h0.5M100 380.75h0.5M105 380.75h1M109 380.75h0.5M112 380.75h1M115.5 380.75h4M120.5 380.75h0.5M126.5 380.75h2M129.5 380.75h0.5M130.5 380.75h0.5M62 381.25h0.5M69 381.25h1M71 381.25h0.5M75 381.25h0.5M76 381.25h1.5M80 381.25h1.5M83 381.25h1M84.5 381.25h0.5M85.5 381.25h1M88 381.25h0.5M90 381.25h1.5M98 381.25h2.5M101 381.25h1M102.5 381.25h0.5M107.5 381.25h1M112 381.25h1M114 381.25h1M115.5 381.25h0.5M116.5 381.25h1.5M118.5 381.25h0.5M126.5 381.25h0.5M128 381.25h0.5M129 381.25h0.5M130 381.25h0.5M53 381.75h1M55.5 381.75h0.5M61.5 381.75h0.5M65.5 381.75h1.5M67.5 381.75h0.5M68.5 381.75h0.5M73 381.75h2M75.5 381.75h1.5M78 381.75h0.5M79.5 381.75h1M81 381.75h0.5M82 381.75h1.5M85 381.75h2M90 381.75h1.5M98 381.75h2.5M106 381.75h0.5M107.5 381.75h0.5M111 381.75h1M113 381.75h1M114.5 381.75h2.5M129 381.75h0.5M130.5 381.75h0.5M133 381.75h0.5M52.5 382.25h0.5M56.5 382.25h0.5M59 382.25h0.5M62.5 382.25h0.5M63.5 382.25h3.5M69.5 382.25h0.5M72 382.25h0.5M74.5 382.25h0.5M77 382.25h1M80 382.25h2M82.5 382.25h4.5M99 382.25h1.5M101 382.25h1M103 382.25h1M108 382.25h0.5M110.5 382.25h0.5M111.5 382.25h1M113.5 382.25h1.5M115.5 382.25h1.5M128.5 382.25h0.5M52.5 382.75h0.5M56 382.75h0.5M59 382.75h0.5M61 382.75h0.5M64.5 382.75h0.5M69 382.75h0.5M71 382.75h2M75 382.75h0.5M76 382.75h0.5M77 382.75h0.5M78 382.75h0.5M79 382.75h3M82.5 382.75h2M86 382.75h0.5M99.5 382.75h0.5M100.5 382.75h0.5M102 382.75h0.5M104 382.75h0.5M107.5 382.75h1M110 382.75h0.5M114 382.75h1M128.5 382.75h0.5M130 382.75h1M59.5 383.25h0.5M63.5 383.25h2M66.5 383.25h0.5M68.5 383.25h0.5M70 383.25h1M72 383.25h1M73.5 383.25h1M75.5 383.25h0.5M77 383.25h0.5M78 383.25h1.5M80 383.25h1.5M100.5 383.25h0.5M101.5 383.25h0.5M102.5 383.25h0.5M104 383.25h0.5M106.5 383.25h0.5M107.5 383.25h0.5M108.5 383.25h1M110 383.25h0.5M111 383.25h0.5M112 383.25h2M131 383.25h0.5M133 383.25h0.5M58.5 383.75h2.5M63.5 383.75h0.5M65 383.75h1M67.5 383.75h1M70 383.75h0.5M72 383.75h0.5M73 383.75h0.5M74 383.75h1.5M76 383.75h1.5M78 383.75h2M100 383.75h1M101.5 383.75h1M104 383.75h0.5M105.5 383.75h0.5M109 383.75h0.5M110 383.75h2M112.5 383.75h0.5M127.5 383.75h1.5M130 383.75h0.5M131 383.75h0.5M57.5 384.25h1.5M59.5 384.25h0.5M60.5 384.25h1M62 384.25h0.5M64.5 384.25h1M66 384.25h0.5M67 384.25h2.5M70 384.25h1M71.5 384.25h5.5M79 384.25h0.5M100 384.25h2.5M107 384.25h2M110 384.25h1M127 384.25h2M129.5 384.25h0.5M131 384.25h0.5M58 384.75h0.5M62 384.75h1M66 384.75h2.5M70.5 384.75h4M75.5 384.75h1.5M78 384.75h0.5M103.5 384.75h1M105 384.75h0.5M106.5 384.75h1M108 384.75h2M127.5 384.75h0.5M128.5 384.75h0.5M131.5 384.75h0.5M54.5 385.25h0.5M56 385.25h1M58.5 385.25h0.5M59.5 385.25h0.5M60.5 385.25h0.5M61.5 385.25h0.5M63 385.25h1.5M65 385.25h1.5M67.5 385.25h1M69.5 385.25h2.5M73 385.25h1.5M101 385.25h1M103.5 385.25h1M106 385.25h0.5M107 385.25h1.5M126.5 385.25h2M129.5 385.25h0.5M57.5 385.75h0.5M62.5 385.75h0.5M64 385.75h1M66.5 385.75h1.5M69 385.75h0.5M100.5 385.75h0.5M101.5 385.75h0.5M103 385.75h0.5M106 385.75h2M126 385.75h1M127.5 385.75h0.5M129 385.75h1M130.5 385.75h0.5M131.5 385.75h0.5M132.5 385.75h0.5M134 385.75h0.5M52.5 386.25h0.5M57.5 386.25h1M60.5 386.25h0.5M62 386.25h1M63.5 386.25h3M68 386.25h1M100 386.25h2M103.5 386.25h0.5M104.5 386.25h1.5M126.5 386.25h0.5M128 386.25h0.5M131 386.25h0.5M57 386.75h2.5M60.5 386.75h0.5M61.5 386.75h2.5M64.5 386.75h0.5M100.5 386.75h0.5M101.5 386.75h1M103.5 386.75h1M105.5 386.75h0.5M124.5 386.75h2M127.5 386.75h0.5M52.5 387.25h1.5M55.5 387.25h5.5M61.5 387.25h1.5M63.5 387.25h1.5M100.5 387.25h0.5M102 387.25h1.5M104.5 387.25h0.5M124.5 387.25h1.5M127 387.25h0.5M129 387.25h0.5M134.5 387.25h0.5M55 387.75h4M60 387.75h0.5M101 387.75h0.5M102 387.75h2M124 387.75h1.5M126 387.75h0.5M127.5 387.75h1.5M131 387.75h0.5M52.5 388.25h0.5M53.5 388.25h0.5M55 388.25h1M56.5 388.25h3M101 388.25h0.5M102.5 388.25h1M123.5 388.25h1.5M125.5 388.25h1M130 388.25h0.5M132.5 388.25h0.5M53 388.75h0.5M54.5 388.75h4M101.5 388.75h1.5M123.5 388.75h0.5M125 388.75h0.5M126 388.75h0.5M52.5 389.25h3.5M100 389.25h1.5M102 389.25h1M123 389.25h1M128.5 389.25h0.5M130.5 389.25h0.5M53 389.75h1.5M98.5 389.75h2M101 389.75h1.5M122 389.75h1M123.5 389.75h1.5M125.5 389.75h0.5M126.5 389.75h0.5M52.5 390.25h1.5M98 390.25h4.5M122 390.25h1.5M124.5 390.25h0.5M126.5 390.25h0.5M127.5 390.25h0.5M133 390.25h0.5M52.5 390.75h0.5M97.5 390.75h3M101 390.75h1.5M120 390.75h2M122.5 390.75h1M125 390.75h0.5M129 390.75h1M97 391.25h5.5M119 391.25h1.5M121.5 391.25h2M128.5 391.25h0.5M130 391.25h0.5M131.5 391.25h0.5M97.5 391.75h0.5M98.5 391.75h0.5M99.5 391.75h1M101 391.75h2M119 391.75h2M121.5 391.75h0.5M122.5 391.75h1M97.5 392.25h0.5M99 392.25h1M100.5 392.25h2M118 392.25h2.5M121 392.25h0.5M122 392.25h1M125 392.25h0.5M129 392.25h0.5M97.5 392.75h2.5M100.5 392.75h0.5M117.5 392.75h1M119 392.75h1M120.5 392.75h2M124 392.75h0.5M96.5 393.25h2.5M99.5 393.25h0.5M101 393.25h0.5M115.5 393.25h0.5M117.5 393.25h0.5M119 393.25h0.5M121 393.25h0.5M123.5 393.25h0.5M127 393.25h0.5M95.5 393.75h6M115.5 393.75h1M117.5 393.75h2.5M121 393.75h0.5M122 393.75h0.5M123.5 393.75h0.5M125 393.75h0.5M127 393.75h0.5M94.5 394.25h0.5M95.5 394.25h0.5M97 394.25h0.5M98 394.25h4.5M115 394.25h2M117.5 394.25h0.5M119.5 394.25h1.5M123 394.25h0.5M94 394.75h2M97 394.75h1M98.5 394.75h0.5M99.5 394.75h0.5M100.5 394.75h0.5M101.5 394.75h1M114 394.75h0.5M115 394.75h0.5M117 394.75h0.5M118 394.75h1M119.5 394.75h0.5M121 394.75h0.5M122.5 394.75h0.5M124 394.75h1M125.5 394.75h0.5M130 394.75h0.5M93.5 395.25h2M96 395.25h1M97.5 395.25h0.5M100 395.25h1.5M113 395.25h5.5M121 395.25h0.5M127 395.25h1M93 395.75h2M96 395.75h0.5M97 395.75h0.5M98.5 395.75h3.5M113 395.75h2M116 395.75h2M118.5 395.75h0.5M119.5 395.75h1M121.5 395.75h0.5M126.5 395.75h0.5M127.5 395.75h1M92.5 396.25h3.5M97 396.25h1.5M99 396.25h1M100.5 396.25h1.5M113 396.25h2M115.5 396.25h1M119 396.25h0.5M121 396.25h1M131.5 396.25h0.5M91.5 396.75h1.5M93.5 396.75h3.5M98 396.75h3M101.5 396.75h1M112.5 396.75h3.5M117 396.75h0.5M123 396.75h0.5M127 396.75h0.5M92.5 397.25h1.5M95 397.25h1M99 397.25h0.5M100 397.25h2.5M110 397.25h3M114 397.25h2M116.5 397.25h1M119 397.25h0.5M121 397.25h0.5M123.5 397.25h0.5M91.5 397.75h0.5M92.5 397.75h3M96 397.75h2M98.5 397.75h4.5M109.5 397.75h6M116 397.75h1M117.5 397.75h1.5M124 397.75h0.5M90.5 398.25h3M94 398.25h1.5M96.5 398.25h1.5M98.5 398.25h0.5M100 398.25h0.5M101 398.25h1M102.5 398.25h1M108 398.25h0.5M109 398.25h2M111.5 398.25h3M115.5 398.25h1.5M117.5 398.25h1M121.5 398.25h0.5M88.5 398.75h0.5M89.5 398.75h1.5M91.5 398.75h1.5M94 398.75h0.5M95 398.75h0.5M96.5 398.75h0.5M97.5 398.75h0.5M98.5 398.75h1M100.5 398.75h1M102 398.75h2M107.5 398.75h3M111 398.75h1M112.5 398.75h2M115 398.75h0.5M116 398.75h1.5M118.5 398.75h0.5M122.5 398.75h0.5M88.5 399.25h1.5M91 399.25h1M93 399.25h1M94.5 399.25h0.5M95.5 399.25h1.5M97.5 399.25h1M99 399.25h1M100.5 399.25h0.5M102.5 399.25h2M105 399.25h2.5M108 399.25h3M111.5 399.25h0.5M112.5 399.25h1.5M116 399.25h1.5M118 399.25h0.5M120 399.25h0.5M122 399.25h0.5M125.5 399.25h0.5M129 399.25h0.5M86.5 399.75h0.5M89 399.75h0.5M90 399.75h1M92 399.75h1M95 399.75h0.5M96 399.75h0.5M97.5 399.75h1M99.5 399.75h0.5M100.5 399.75h0.5M102 399.75h7M110 399.75h0.5M111 399.75h2M113.5 399.75h0.5M115 399.75h0.5M116 399.75h3M120 399.75h0.5M121.5 399.75h0.5M86.5 400.25h3M90 400.25h0.5M91 400.25h1.5M93.5 400.25h2M97 400.25h1M99 400.25h1.5M101.5 400.25h2.5M104.5 400.25h1.5M106.5 400.25h1.5M111.5 400.25h0.5M112.5 400.25h0.5M114 400.25h1M115.5 400.25h0.5M121 400.25h1M123 400.25h0.5M124.5 400.25h0.5M126 400.25h0.5M129.5 400.25h0.5M86.5 400.75h1.5M88.5 400.75h0.5M90 400.75h1M92 400.75h2M95 400.75h0.5M96 400.75h1M97.5 400.75h2M100 400.75h1.5M102 400.75h2M105 400.75h0.5M107 400.75h1M108.5 400.75h1.5M110.5 400.75h0.5M111.5 400.75h0.5M112.5 400.75h0.5M114 400.75h0.5M85.5 401.25h2.5M88.5 401.25h0.5M90 401.25h1.5M92 401.25h0.5M96 401.25h1M98 401.25h1M100.5 401.25h0.5M101.5 401.25h0.5M102.5 401.25h3.5M107 401.25h1M108.5 401.25h1M110 401.25h1.5M114 401.25h0.5M115 401.25h1M122 401.25h0.5M124 401.25h1M85.5 401.75h0.5M86.5 401.75h0.5M87.5 401.75h1M90.5 401.75h0.5M91.5 401.75h2M94.5 401.75h1M97 401.75h1M98.5 401.75h0.5M100.5 401.75h0.5M102.5 401.75h1M106 401.75h0.5M107 401.75h1M110 401.75h1M111.5 401.75h1M113.5 401.75h1.5M116.5 401.75h1M118.5 401.75h0.5M85.5 402.25h2.5M88.5 402.25h0.5M89.5 402.25h0.5M91 402.25h0.5M95 402.25h1.5M97 402.25h0.5M98 402.25h1M100 402.25h1.5M104 402.25h0.5M105.5 402.25h0.5M108.5 402.25h0.5M109.5 402.25h1M113.5 402.25h0.5M115 402.25h0.5M84 402.75h2M87.5 402.75h2.5M90.5 402.75h1M92.5 402.75h1M94 402.75h1.5M96.5 402.75h1M98.5 402.75h0.5M100.5 402.75h0.5M101.5 402.75h0.5M103 402.75h1.5M105 402.75h0.5M106 402.75h1M108 402.75h1.5M110 402.75h1M112 402.75h0.5M113.5 402.75h0.5M114.5 402.75h0.5M120.5 402.75h0.5M129 402.75h0.5M83.5 403.25h2M86.5 403.25h0.5M87.5 403.25h0.5M88.5 403.25h0.5M89.5 403.25h0.5M91 403.25h0.5M92 403.25h1M93.5 403.25h2M96 403.25h0.5M99 403.25h0.5M106 403.25h0.5M108 403.25h1M110.5 403.25h0.5M111.5 403.25h2M115 403.25h0.5M116.5 403.25h0.5M120 403.25h0.5M122.5 403.25h0.5M123.5 403.25h0.5M124.5 403.25h0.5M83.5 403.75h0.5M86 403.75h1M91 403.75h0.5M94 403.75h1M95.5 403.75h0.5M96.5 403.75h1M102.5 403.75h0.5M104.5 403.75h1.5M109 403.75h0.5M112.5 403.75h0.5M114.5 403.75h0.5M115.5 403.75h0.5M119.5 403.75h0.5M120.5 403.75h0.5M82.5 404.25h0.5M83.5 404.25h0.5M85 404.25h1M86.5 404.25h1M88 404.25h2M92.5 404.25h0.5M93.5 404.25h0.5M97 404.25h1M98.5 404.25h1M100 404.25h0.5M106 404.25h0.5M107 404.25h0.5M108 404.25h0.5M110 404.25h0.5M111.5 404.25h0.5M114.5 404.25h0.5M78.5 404.75h4.5M84 404.75h2M86.5 404.75h2M91 404.75h0.5M96.5 404.75h0.5M99 404.75h0.5M101.5 404.75h0.5M103 404.75h0.5M106.5 404.75h0.5M108.5 404.75h0.5M111.5 404.75h0.5M114 404.75h0.5M117 404.75h0.5M121 404.75h0.5M123.5 404.75h0.5M126 404.75h0.5M78.5 405.25h2M81 405.25h1.5M83.5 405.25h1.5M85.5 405.25h0.5M87 405.25h0.5M88 405.25h0.5M89.5 405.25h1M91 405.25h1M93 405.25h0.5M94.5 405.25h1M96.5 405.25h0.5M98 405.25h1.5M102 405.25h0.5M105 405.25h0.5M107 405.25h0.5M108 405.25h0.5M111 405.25h0.5M114 405.25h0.5M119.5 405.25h0.5M128 405.25h0.5M77 405.75h3M80.5 405.75h3M86 405.75h0.5M88 405.75h1M89.5 405.75h1M92.5 405.75h1M95.5 405.75h0.5M98 405.75h0.5M103 405.75h0.5M105 405.75h0.5M106.5 405.75h0.5M110 405.75h1M118 405.75h0.5M127 405.75h0.5M75 406.25h0.5M76 406.25h3.5M82.5 406.25h0.5M85 406.25h1M86.5 406.25h0.5M88 406.25h1M90 406.25h0.5M91.5 406.25h0.5M92.5 406.25h0.5M93.5 406.25h0.5M97.5 406.25h0.5M99 406.25h0.5M102 406.25h0.5M106 406.25h0.5M107 406.25h0.5M108 406.25h0.5M110 406.25h0.5M112 406.25h0.5M115 406.25h0.5M116 406.25h0.5M121 406.25h0.5M75 406.75h0.5M76 406.75h1.5M78.5 406.75h1M80 406.75h0.5M81.5 406.75h1.5M83.5 406.75h2M87 406.75h0.5M88.5 406.75h0.5M89.5 406.75h0.5M91 406.75h0.5M92 406.75h0.5M93 406.75h0.5M97.5 406.75h0.5M105 406.75h0.5M113 406.75h0.5M114.5 406.75h1M131 406.75h0.5M52.5 407.25h0.5M71 407.25h1M73 407.25h4M77.5 407.25h0.5M78.5 407.25h0.5M79.5 407.25h0.5M80.5 407.25h0.5M87.5 407.25h0.5M88.5 407.25h1.5M101.5 407.25h0.5M102.5 407.25h0.5M106.5 407.25h0.5M109 407.25h0.5M112.5 407.25h0.5M116.5 407.25h0.5" stroke="#000" stroke-width="0.7" fill="none"/>
<path d="M233.5 379h0.5v0.5h-0.5zM230.5 379.5h1.5v0.5h-1.5zM232.5 379.5h4v0.5h-4zM229.5 380h7v0.5h-7zM227.5 380.5h0.5v0.5h-0.5zM229.5 380.5h9v0.5h-9zM203 381h0.5v0.5h-0.5zM205 381h0.5v0.5h-0.5zM200.5 381h1.5v0.5h-1.5zM225.5 381h13v1h-13zM199 381.5h1v0.5h-1zM200.5 381.5h5.5v0.5h-5.5zM198.5 382h8v0.5h-8zM224 382h14v0.5h-14zM196 382h0.5v0.5h-0.5zM221.5 382.5h16.5v0.5h-16.5zM195.5 382.5h11.5v1h-11.5zM221.5 383h17v0.5h-17zM192 383h1v0.5h-1zM195 383.5h12v0.5h-12zM220.5 383.5h18v0.5h-18zM189.5 383.5h4v0.5h-4zM189 384h18.5v0.5h-18.5zM218 384h20.5v0.5h-20.5zM185.5 384.5h2.5v0.5h-2.5zM217 384.5h21v0.5h-21zM188.5 384.5h19.5v0.5h-19.5zM213.5 385h1v0.5h-1zM216.5 385h21v0.5h-21zM180 385h2v0.5h-2zM182.5 385h25.5v0.5h-25.5zM176 385.5h1.5v0.5h-1.5zM180 385.5h28.5v0.5h-28.5zM215.5 385.5h21.5v0.5h-21.5zM213 385.5h2v0.5h-2zM212.5 386h24v0.5h-24zM179 386h29.5v0.5h-29.5zM175 386h3.5v0.5h-3.5zM174.5 386.5h34.5v0.5h-34.5zM211.5 386.5h23.5v0.5h-23.5zM210.5 387h24v0.5h-24zM172 387h37v0.5h-37zM170.5 387.5h39v0.5h-39zM210.5 387.5h23.5v0.5h-23.5zM168.5 388h64.5v0.5h-64.5zM165 388.5h1v0.5h-1zM167 388.5h65.5v0.5h-65.5zM165 389h67v0.5h-67zM164.5 389.5h66.5v0.5h-66.5zM162 390h68v0.5h-68zM161 390.5h68.5v0.5h-68.5zM161 391h67.5v0.5h-67.5zM209 391.5h19v0.5h-19zM207.5 391.5h0.5v0.5h-0.5zM160.5 391.5h46.5v0.5h-46.5zM209 392h18.5v0.5h-18.5zM160.5 392h46v0.5h-46zM209 392.5h16.5v0.5h-16.5zM160.5 392.5h45v0.5h-45zM209 393h15v0.5h-15zM160.5 393h44v0.5h-44zM220.5 393.5h2.5v0.5h-2.5zM210 393.5h9.5v0.5h-9.5zM160.5 393.5h43.5v0.5h-43.5zM221 394h1v0.5h-1zM160.5 394h43v1h-43zM210.5 394h8.5v1h-8.5zM160.5 395h42.5v0.5h-42.5zM212 395h7v0.5h-7zM160.5 395.5h41.5v1h-41.5zM160.5 396.5h41v0.5h-41zM160.5 397h40.5v0.5h-40.5zM160.5 397.5h40v0.5h-40zM160.5 398h39.5v1h-39.5zM160.5 399h38v0.5h-38zM160.5 399.5h37.5v1.5h-37.5zM196.5 401h1v0.5h-1zM160.5 401h35v1h-35zM160.5 402h34.5v0.5h-34.5zM160.5 402.5h32v0.5h-32zM160.5 403h31v0.5h-31zM160.5 403.5h30v0.5h-30zM160.5 404h28.5v0.5h-28.5zM160.5 404.5h28v0.5h-28zM160.5 405h26.5v0.5h-26.5zM187.5 405h1v0.5h-1zM160.5 405.5h25.5v0.5h-25.5zM160.5 406h23.5v0.5h-23.5zM185.5 406h0.5v0.5h-0.5zM160.5 406.5h22.5v0.5h-22.5zM161 407h19v0.5h-19zM180.5 407h2v0.5h-2z" fill="#0b0b0b"/>
<path d="M164.5 338.75h0.5M173 338.75h0.5M182.5 338.75h0.5M161.5 339.25h0.5M174.5 339.25h0.5M180.5 339.25h0.5M195.5 339.25h0.5M197 339.25h0.5M182.5 339.75h0.5M169 340.25h0.5M174.5 340.25h0.5M196.5 340.25h0.5M203 340.25h0.5M232 340.25h0.5M243 340.25h0.5M182 340.75h0.5M186 340.75h0.5M188.5 340.75h0.5M203.5 340.75h0.5M179.5 341.25h0.5M186 341.25h0.5M187.5 341.25h0.5M201 341.25h0.5M233 341.25h0.5M185 341.75h0.5M171 342.75h0.5M169.5 343.25h0.5M172 343.25h0.5M194 343.25h0.5M197.5 343.25h0.5M217.5 343.25h0.5M221 343.25h0.5M178 343.75h0.5M169 344.75h0.5M177 344.75h0.5M194.5 345.25h0.5M173.5 345.75h0.5M198.5 346.25h0.5M195.5 346.75h0.5M212 347.25h0.5M203.5 347.75h0.5M228.5 347.75h0.5M186.5 349.25h0.5M191.5 349.25h0.5M190 349.75h0.5M223.5 349.75h0.5M167 350.25h0.5M170 350.25h0.5M171.5 350.25h0.5M198 350.25h0.5M207 350.25h0.5M163.5 351.25h0.5M189.5 351.25h0.5M224.5 351.25h0.5M226 351.25h0.5M234 351.25h0.5M169 351.75h0.5M198 351.75h0.5M221 351.75h0.5M223.5 351.75h0.5M228 351.75h0.5M233.5 351.75h0.5M166 352.25h0.5M206 352.25h0.5M222.5 352.25h0.5M233 352.25h0.5M238.5 352.25h0.5M219.5 352.75h0.5M220.5 352.75h0.5M230 352.75h0.5M231.5 352.75h0.5M235.5 352.75h0.5M204.5 353.25h0.5M229 353.25h0.5M230 353.25h0.5M231 353.25h0.5M232.5 353.25h1M234 353.25h0.5M170 353.75h0.5M186 353.75h0.5M196 353.75h0.5M220.5 353.75h0.5M184 354.25h0.5M223.5 354.25h0.5M226 354.25h0.5M200 354.75h0.5M232.5 354.75h0.5M234.5 354.75h0.5M182 355.25h0.5M202.5 355.25h0.5M226.5 355.25h1M230.5 355.25h0.5M211.5 355.75h0.5M226.5 355.75h0.5M227.5 355.75h0.5M234.5 355.75h0.5M193 356.25h0.5M219 356.25h0.5M226 356.25h0.5M233.5 356.25h0.5M167.5 356.75h0.5M172 356.75h0.5M198.5 356.75h0.5M216 356.75h0.5M222.5 356.75h0.5M226.5 356.75h0.5M230 356.75h0.5M231.5 356.75h0.5M233 356.75h0.5M234.5 356.75h0.5M236 356.75h0.5M189.5 357.25h0.5M226 357.25h0.5M227 357.25h0.5M231.5 357.25h0.5M233 357.25h0.5M235.5 357.25h0.5M224.5 357.75h1M183 358.25h0.5M201 358.25h0.5M202.5 358.25h0.5M238 358.25h0.5M193 358.75h0.5M220 358.75h0.5M192 359.25h0.5M228 359.25h0.5M161.5 359.75h0.5M166.5 359.75h0.5M193.5 359.75h0.5M194.5 359.75h0.5M223 359.75h0.5M224.5 359.75h0.5M230 359.75h0.5M236 359.75h0.5M190.5 360.25h0.5M192.5 360.25h0.5M229.5 360.75h0.5M233.5 360.75h0.5M208 361.25h0.5M169.5 361.75h0.5M180.5 362.25h0.5M185 362.25h0.5M188 362.25h0.5M189.5 362.25h0.5M223.5 362.25h0.5M227 362.25h0.5M231 362.25h1M171 362.75h0.5M216.5 362.75h0.5M225.5 362.75h0.5M229 362.75h0.5M164 363.25h0.5M194 363.25h0.5M204.5 363.25h0.5M188 363.75h1M199 363.75h0.5M226.5 363.75h0.5M228.5 363.75h0.5M177 364.25h0.5M182.5 364.25h0.5M200 364.75h0.5M164.5 365.25h0.5M166.5 365.25h0.5M176 365.25h0.5M199 365.25h0.5M234 365.25h0.5M162.5 365.75h0.5M186 366.25h0.5M198 366.25h0.5M204.5 366.25h0.5M228.5 366.25h0.5M183 366.75h0.5M182.5 367.25h0.5M234.5 367.25h0.5M199.5 367.75h0.5M191.5 368.25h0.5M207 368.75h0.5M231 368.75h0.5M196 369.25h0.5M197 369.25h0.5M210.5 369.25h0.5M174.5 369.75h0.5M181 369.75h0.5M191 369.75h0.5M208 369.75h0.5M211 369.75h0.5M237.5 369.75h0.5M185.5 370.25h0.5M225.5 370.25h0.5M165 370.75h0.5M168.5 370.75h0.5M184 370.75h0.5M194 370.75h0.5M197 370.75h0.5M169.5 371.25h0.5M185.5 371.25h0.5M236 371.25h0.5M171.5 371.75h0.5M183.5 371.75h0.5M208 371.75h0.5M209 371.75h0.5M222.5 371.75h0.5M230 371.75h0.5M236.5 371.75h0.5M242 371.75h0.5M162 372.25h0.5M174.5 372.25h0.5M211 372.25h0.5M165.5 372.75h0.5M198.5 372.75h0.5M205 372.75h0.5M223 372.75h0.5M161.5 373.25h0.5M196 373.25h0.5M198 373.25h1M207 373.25h0.5M210.5 373.25h0.5M235.5 373.25h0.5M240 373.25h0.5M187 373.75h0.5M202.5 373.75h0.5M216 373.75h0.5M224 373.75h0.5M164 374.25h0.5M166.5 374.25h0.5M180 374.25h0.5M182 374.25h0.5M193.5 374.25h0.5M195 374.25h0.5M200.5 374.25h0.5M202 374.25h0.5M203 374.25h0.5M204.5 374.25h0.5M205.5 374.25h0.5M238 374.25h0.5M240.5 374.25h0.5M194 374.75h0.5M201.5 374.75h0.5M206 374.75h0.5M211.5 374.75h0.5M222 374.75h0.5M231 374.75h0.5M195.5 375.25h0.5M199.5 375.25h0.5M202.5 375.25h1M208 375.25h0.5M222 375.25h1M229.5 375.25h0.5M231.5 375.25h0.5M233 375.25h1M237 375.25h1M186.5 375.75h0.5M187.5 375.75h0.5M191.5 375.75h0.5M195.5 375.75h0.5M205 375.75h0.5M213.5 375.75h0.5M226.5 375.75h0.5M230.5 375.75h0.5M232.5 375.75h0.5M169 376.25h0.5M187 376.25h0.5M188.5 376.25h0.5M194.5 376.25h0.5M195.5 376.25h0.5M196.5 376.25h0.5M198.5 376.25h1M200 376.25h0.5M201.5 376.25h0.5M203 376.25h0.5M205.5 376.25h0.5M219 376.25h0.5M236.5 376.25h0.5M163.5 376.75h0.5M165 376.75h1M168 376.75h0.5M177.5 376.75h0.5M181.5 376.75h0.5M183 376.75h0.5M187.5 376.75h0.5M189 376.75h0.5M199 376.75h0.5M201 376.75h0.5M202.5 376.75h0.5M206 376.75h0.5M218.5 376.75h0.5M183.5 377.25h0.5M185.5 377.25h0.5M187 377.25h0.5M192 377.25h0.5M194.5 377.25h0.5M195.5 377.25h0.5M198.5 377.25h1M201 377.25h0.5M202 377.25h1M205 377.25h0.5M208.5 377.25h0.5M235.5 377.25h1M238.5 377.25h0.5M239.5 377.25h0.5M166 377.75h0.5M171.5 377.75h0.5M181.5 377.75h0.5M193 377.75h0.5M194 377.75h0.5M196.5 377.75h1M201.5 377.75h1M204.5 377.75h0.5M206 377.75h0.5M209.5 377.75h0.5M210.5 377.75h0.5M211.5 377.75h0.5M226.5 377.75h0.5M229.5 377.75h0.5M230.5 377.75h0.5M231.5 377.75h0.5M232.5 377.75h1M235.5 377.75h0.5M236.5 377.75h0.5M237.5 377.75h0.5M239 377.75h0.5M170.5 378.25h0.5M172 378.25h0.5M175.5 378.25h0.5M188.5 378.25h0.5M193 378.25h0.5M194 378.25h0.5M195 378.25h0.5M197.5 378.25h1.5M199.5 378.25h0.5M200.5 378.25h0.5M206.5 378.25h0.5M207.5 378.25h0.5M209 378.25h0.5M211 378.25h0.5M219 378.25h0.5M224 378.25h1M226.5 378.25h1M228 378.25h1M229.5 378.25h1M231 378.25h1M232.5 378.25h1.5M235.5 378.25h0.5M236.5 378.25h0.5M238.5 378.25h0.5M241.5 378.25h0.5M243 378.25h0.5M169 378.75h0.5M173.5 378.75h0.5M174.5 378.75h0.5M177.5 378.75h0.5M180 378.75h0.5M181 378.75h1M185.5 378.75h0.5M189 378.75h0.5M190 378.75h1M192 378.75h0.5M195 378.75h0.5M196 378.75h0.5M197.5 378.75h2M200 378.75h0.5M201.5 378.75h1M205 378.75h0.5M208 378.75h1M210.5 378.75h0.5M214.5 378.75h0.5M223.5 378.75h0.5M225.5 378.75h1M227.5 378.75h0.5M229 378.75h0.5M230 378.75h3M233.5 378.75h1.5M235.5 378.75h2M238.5 378.75h0.5M241.5 378.75h0.5M162 379.25h1M178.5 379.25h1M180.5 379.25h0.5M185.5 379.25h0.5M190 379.25h0.5M194.5 379.25h0.5M196 379.25h0.5M198 379.25h0.5M199 379.25h0.5M202 379.25h0.5M203.5 379.25h0.5M205.5 379.25h0.5M208.5 379.25h0.5M218.5 379.25h0.5M221 379.25h1M223 379.25h0.5M226 379.25h0.5M228.5 379.25h0.5M229.5 379.25h1M231 379.25h1M234 379.25h1M235.5 379.25h1M237 379.25h0.5M238 379.25h1.5M240 379.25h0.5M170 379.75h0.5M172.5 379.75h0.5M174.5 379.75h0.5M178 379.75h0.5M179.5 379.75h0.5M183 379.75h0.5M185 379.75h1.5M187 379.75h0.5M191 379.75h1M192.5 379.75h0.5M193.5 379.75h1M198.5 379.75h1M202 379.75h0.5M203 379.75h1M204.5 379.75h0.5M205.5 379.75h0.5M207 379.75h0.5M209 379.75h0.5M210.5 379.75h0.5M212.5 379.75h0.5M220 379.75h0.5M222 379.75h0.5M223.5 379.75h0.5M225.5 379.75h1M227.5 379.75h0.5M228.5 379.75h2M232 379.75h0.5M236.5 379.75h2M239 379.75h0.5M164.5 380.25h0.5M174 380.25h0.5M175 380.25h0.5M176.5 380.25h0.5M177.5 380.25h0.5M182.5 380.25h0.5M184.5 380.25h0.5M186.5 380.25h0.5M187.5 380.25h1M189 380.25h0.5M190 380.25h0.5M192 380.25h0.5M195 380.25h0.5M196 380.25h0.5M197 380.25h0.5M198 380.25h0.5M199.5 380.25h2M202 380.25h2M205 380.25h1.5M207 380.25h1M212 380.25h0.5M214 380.25h0.5M215 380.25h0.5M219 380.25h0.5M220 380.25h0.5M225.5 380.25h1.5M228 380.25h1.5M236.5 380.25h1.5M238.5 380.25h0.5M242 380.25h0.5M164.5 380.75h0.5M169 380.75h0.5M172 380.75h0.5M174 380.75h1M176 380.75h1M179.5 380.75h1M182.5 380.75h0.5M185.5 380.75h1.5M187.5 380.75h1M190.5 380.75h0.5M192 380.75h1.5M194 380.75h1M196 380.75h1.5M198.5 380.75h1M200 380.75h1.5M202 380.75h3.5M206 380.75h1M217 380.75h0.5M222 380.75h0.5M223 380.75h0.5M224.5 380.75h3M228 380.75h1.5M240 380.75h0.5M173 381.25h0.5M175 381.25h0.5M176.5 381.25h0.5M178.5 381.25h0.5M179.5 381.25h1M181 381.25h0.5M182 381.25h0.5M188 381.25h0.5M189 381.25h1M190.5 381.25h0.5M192.5 381.25h1M194.5 381.25h0.5M195.5 381.25h1.5M197.5 381.25h3M202 381.25h1M203.5 381.25h1.5M205.5 381.25h1M207 381.25h0.5M208 381.25h1.5M214 381.25h0.5M220 381.25h0.5M221 381.25h0.5M222.5 381.25h0.5M223.5 381.25h2M238.5 381.25h1.5M240.5 381.25h0.5M166 381.75h0.5M171.5 381.75h0.5M178.5 381.75h1M180.5 381.75h1M183.5 381.75h1.5M185.5 381.75h0.5M188.5 381.75h1.5M191 381.75h0.5M192 381.75h1.5M194 381.75h1M196.5 381.75h1.5M198.5 381.75h0.5M200 381.75h0.5M206 381.75h1.5M208.5 381.75h1M217.5 381.75h1M219 381.75h1.5M222 381.75h0.5M223 381.75h0.5M224 381.75h0.5M225 381.75h0.5M238.5 381.75h0.5M239.5 381.75h0.5M242.5 381.75h0.5M162.5 382.25h0.5M170 382.25h0.5M174.5 382.25h0.5M175.5 382.25h0.5M178.5 382.25h0.5M182 382.25h1.5M184.5 382.25h0.5M185.5 382.25h0.5M189 382.25h6.5M196.5 382.25h2M206.5 382.25h1.5M208.5 382.25h0.5M211 382.25h0.5M214 382.25h2M217.5 382.25h1M219 382.25h1M220.5 382.25h1M222 382.25h0.5M223 382.25h0.5M238 382.25h2M242.5 382.25h0.5M167.5 382.75h0.5M168.5 382.75h1M170 382.75h0.5M172 382.75h0.5M175.5 382.75h1M177.5 382.75h0.5M181 382.75h0.5M183.5 382.75h1M185 382.75h0.5M187.5 382.75h1M189.5 382.75h1M191 382.75h1.5M193 382.75h2.5M207 382.75h1.5M210 382.75h0.5M212 382.75h0.5M214 382.75h1M216.5 382.75h0.5M217.5 382.75h2.5M220.5 382.75h1M238 382.75h2M241 382.75h0.5M163.5 383.25h0.5M166 383.25h0.5M175 383.25h0.5M176.5 383.25h1M178 383.25h0.5M179.5 383.25h1.5M183 383.25h0.5M186.5 383.25h1.5M189 383.25h2M191.5 383.25h0.5M193 383.25h2.5M207 383.25h2M210 383.25h1M211.5 383.25h0.5M214.5 383.25h0.5M216 383.25h1.5M218.5 383.25h3M239 383.25h1M161.5 383.75h0.5M166 383.75h0.5M169 383.75h0.5M174.5 383.75h0.5M176.5 383.75h0.5M177.5 383.75h0.5M178.5 383.75h0.5M179.5 383.75h0.5M181.5 383.75h5M187 383.75h2.5M193.5 383.75h1.5M207 383.75h3M211 383.75h0.5M212 383.75h1M214 383.75h1M215.5 383.75h3.5M219.5 383.75h1M238.5 383.75h2M161 384.25h0.5M162.5 384.25h0.5M164.5 384.25h0.5M166 384.25h1M168 384.25h0.5M170 384.25h0.5M172 384.25h1M175.5 384.25h2.5M179 384.25h0.5M180 384.25h2M183.5 384.25h3.5M187.5 384.25h1.5M207.5 384.25h2M211.5 384.25h0.5M212.5 384.25h0.5M214.5 384.25h1M216 384.25h1M217.5 384.25h0.5M238.5 384.25h1M240 384.25h0.5M161 384.75h0.5M165 384.75h0.5M166 384.75h0.5M172 384.75h1M173.5 384.75h0.5M175 384.75h1.5M178 384.75h1.5M180 384.75h5.5M188 384.75h0.5M208 384.75h1M210.5 384.75h0.5M212.5 384.75h1.5M214.5 384.75h2M238 384.75h2M240.5 384.75h0.5M241.5 384.75h0.5M243.5 384.75h0.5M162.5 385.25h0.5M166 385.25h1M168.5 385.25h0.5M169.5 385.25h1.5M171.5 385.25h0.5M172.5 385.25h0.5M173.5 385.25h0.5M174.5 385.25h1.5M177.5 385.25h1M179 385.25h1M182 385.25h0.5M208 385.25h1M210.5 385.25h1.5M213 385.25h0.5M214.5 385.25h2M237.5 385.25h0.5M238.5 385.25h0.5M165.5 385.75h0.5M167 385.75h0.5M168 385.75h0.5M170.5 385.75h2.5M173.5 385.75h2M177.5 385.75h0.5M178.5 385.75h1.5M208.5 385.75h0.5M209.5 385.75h3.5M215 385.75h0.5M237 385.75h1M240 385.75h0.5M241 385.75h0.5M162 386.25h0.5M163.5 386.25h0.5M164.5 386.25h1M166 386.25h2.5M169 386.25h0.5M170 386.25h0.5M171 386.25h4M178.5 386.25h0.5M208.5 386.25h4M236.5 386.25h0.5M238 386.25h1M242 386.25h0.5M161.5 386.75h0.5M165.5 386.75h0.5M167 386.75h0.5M168 386.75h1.5M170 386.75h4.5M209 386.75h2.5M235 386.75h1M236.5 386.75h1M239 386.75h0.5M242.5 386.75h0.5M160.5 387.25h0.5M161.5 387.25h0.5M163 387.25h0.5M164 387.25h1M165.5 387.25h0.5M166.5 387.25h1M168 387.25h0.5M169 387.25h1M170.5 387.25h1.5M209 387.25h1.5M234.5 387.25h3M238 387.25h1.5M162 387.75h1.5M164 387.75h0.5M166.5 387.75h1M168 387.75h2.5M209.5 387.75h1M234 387.75h1.5M236.5 387.75h0.5M238 387.75h0.5M239 387.75h0.5M242.5 387.75h0.5M162 388.25h0.5M163.5 388.25h0.5M164.5 388.25h1.5M166.5 388.25h2M233 388.25h1.5M235 388.25h2M240.5 388.25h0.5M160.5 388.75h0.5M161.5 388.75h1.5M163.5 388.75h1M166 388.75h1M232.5 388.75h0.5M233.5 388.75h1M237 388.75h1.5M160.5 389.25h1M163.5 389.25h1.5M232 389.25h2M234.5 389.25h0.5M236 389.25h0.5M237.5 389.25h0.5M240.5 389.25h1M160.5 389.75h1M162 389.75h2.5M231 389.75h2M237 389.75h0.5M160.5 390.25h1.5M230 390.25h3M234 390.25h1M235.5 390.25h1M237.5 390.25h0.5M239 390.25h1M240.5 390.25h0.5M241.5 390.25h0.5M160.5 390.75h0.5M229.5 390.75h3M160.5 391.25h0.5M228.5 391.25h0.5M229.5 391.25h1M231 391.25h0.5M232.5 391.25h1M234 391.25h0.5M235.5 391.25h0.5M207 391.75h0.5M208 391.75h1M228 391.75h0.5M229 391.75h1M231.5 391.75h1.5M234 391.75h0.5M239.5 391.75h0.5M240.5 391.75h0.5M206.5 392.25h2.5M227.5 392.25h2M230.5 392.25h2M205.5 392.75h1.5M207.5 392.75h1.5M225.5 392.75h2M228 392.75h4.5M204.5 393.25h4.5M224 393.25h2M226.5 393.25h1.5M229 393.25h0.5M230 393.25h0.5M233 393.25h0.5M234 393.25h1M237 393.25h0.5M241 393.25h0.5M242.5 393.25h0.5M204 393.75h1.5M206 393.75h2M208.5 393.75h1.5M219.5 393.75h1M223.5 393.75h2.5M226.5 393.75h2M229 393.75h1.5M231 393.75h0.5M233 393.75h0.5M236 393.75h0.5M240.5 393.75h0.5M203.5 394.25h3.5M209.5 394.25h1M219 394.25h2M222 394.25h1.5M224 394.25h1M227 394.25h0.5M228 394.25h0.5M230 394.25h0.5M232 394.25h0.5M235 394.25h1M240 394.25h0.5M203.5 394.75h2.5M207 394.75h3.5M219 394.75h1M220.5 394.75h5M226 394.75h0.5M229 394.75h0.5M230.5 394.75h0.5M232 394.75h0.5M233 394.75h0.5M235.5 394.75h0.5M203 395.25h2M205.5 395.25h0.5M206.5 395.25h0.5M207.5 395.25h1M209 395.25h1M210.5 395.25h1.5M219.5 395.25h2.5M223 395.25h1M225 395.25h0.5M227 395.25h0.5M228 395.25h1.5M230 395.25h0.5M234.5 395.25h0.5M202 395.75h2.5M205 395.75h0.5M206 395.75h2M208.5 395.75h1.5M210.5 395.75h3M214 395.75h1.5M216 395.75h2M218.5 395.75h2.5M222 395.75h0.5M223 395.75h1.5M225.5 395.75h0.5M228.5 395.75h0.5M230 395.75h1M233 395.75h0.5M235.5 395.75h0.5M202 396.25h2M205 396.25h1.5M207 396.25h1.5M209 396.25h0.5M210 396.25h0.5M211 396.25h1M212.5 396.25h2M215 396.25h1M216.5 396.25h1M218.5 396.25h3.5M222.5 396.25h0.5M223.5 396.25h1M225.5 396.25h1M228.5 396.25h0.5M229.5 396.25h0.5M231 396.25h1M235 396.25h1M236.5 396.25h0.5M201.5 396.75h5M207 396.75h1M208.5 396.75h0.5M209.5 396.75h1M211 396.75h1M213 396.75h1M214.5 396.75h2.5M218 396.75h2.5M221.5 396.75h0.5M223.5 396.75h2M226.5 396.75h1M232.5 396.75h0.5M234.5 396.75h0.5M236 396.75h0.5M241 396.75h0.5M201 397.25h3M204.5 397.25h0.5M207 397.25h1M208.5 397.25h0.5M210 397.25h1M212 397.25h1M214 397.25h0.5M215 397.25h2.5M218 397.25h2.5M222 397.25h1.5M224 397.25h0.5M225 397.25h0.5M226.5 397.25h1.5M228.5 397.25h1M230.5 397.25h0.5M231.5 397.25h0.5M232.5 397.25h0.5M200.5 397.75h1.5M203 397.75h1M204.5 397.75h1M206 397.75h1.5M208 397.75h3.5M212 397.75h1M213.5 397.75h0.5M214.5 397.75h1M216.5 397.75h3M220 397.75h0.5M221 397.75h0.5M222.5 397.75h0.5M224 397.75h1M225.5 397.75h0.5M227 397.75h0.5M228 397.75h0.5M229 397.75h0.5M232 397.75h0.5M233 397.75h0.5M237.5 397.75h0.5M200 398.25h2.5M204 398.25h1.5M207 398.25h2.5M210 398.25h0.5M211.5 398.25h1M213.5 398.25h1M215 398.25h0.5M216 398.25h0.5M217 398.25h1M219 398.25h1.5M221 398.25h1M222.5 398.25h0.5M223.5 398.25h0.5M226 398.25h0.5M227 398.25h0.5M228 398.25h0.5M229 398.25h1M231.5 398.25h1M235.5 398.25h0.5M238.5 398.25h0.5M200 398.75h0.5M201 398.75h3M205.5 398.75h0.5M207 398.75h1M210 398.75h0.5M211.5 398.75h2M214.5 398.75h1M217 398.75h0.5M218.5 398.75h0.5M220.5 398.75h1.5M223 398.75h0.5M224 398.75h1.5M226.5 398.75h0.5M228 398.75h0.5M231 398.75h1M232.5 398.75h0.5M234.5 398.75h0.5M198.5 399.25h2.5M203 399.25h0.5M204.5 399.25h0.5M205.5 399.25h0.5M206.5 399.25h3M211 399.25h1M213.5 399.25h0.5M214.5 399.25h2M218.5 399.25h1M220 399.25h0.5M221 399.25h0.5M222.5 399.25h0.5M226 399.25h3.5M198 399.75h2M201 399.75h0.5M202 399.75h0.5M203 399.75h0.5M205 399.75h0.5M206.5 399.75h0.5M207.5 399.75h0.5M208.5 399.75h0.5M209.5 399.75h1M211 399.75h0.5M212.5 399.75h1M215.5 399.75h0.5M219 399.75h1M220.5 399.75h0.5M222 399.75h1M227.5 399.75h0.5M228.5 399.75h1M230.5 399.75h0.5M233 399.75h0.5M198 400.25h1M199.5 400.25h2.5M202.5 400.25h0.5M204.5 400.25h1M207.5 400.25h0.5M208.5 400.25h0.5M209.5 400.25h1M211.5 400.25h0.5M212.5 400.25h0.5M214 400.25h1M217 400.25h1.5M219.5 400.25h0.5M220.5 400.25h2.5M225.5 400.25h0.5M227 400.25h0.5M229 400.25h0.5M232 400.25h0.5M234.5 400.25h0.5M236.5 400.25h0.5M241 400.25h0.5M198 400.75h1.5M200.5 400.75h1M204.5 400.75h0.5M205.5 400.75h1.5M209.5 400.75h1.5M212 400.75h0.5M213 400.75h1.5M215 400.75h1.5M217 400.75h2M220 400.75h0.5M221 400.75h0.5M222.5 400.75h0.5M225 400.75h0.5M228 400.75h0.5M195.5 401.25h1M197.5 401.25h2M200.5 401.25h0.5M202 401.25h0.5M203.5 401.25h1M206 401.25h0.5M207.5 401.25h1M209.5 401.25h0.5M210.5 401.25h0.5M213 401.25h0.5M214.5 401.25h1M216 401.25h0.5M217 401.25h0.5M218.5 401.25h0.5M219.5 401.25h1M221 401.25h0.5M223 401.25h1.5M225 401.25h0.5M226 401.25h0.5M230.5 401.25h0.5M195.5 401.75h4.5M200.5 401.75h1M202 401.75h1M203.5 401.75h1M206.5 401.75h2M209 401.75h0.5M210 401.75h0.5M211.5 401.75h1M213 401.75h0.5M214.5 401.75h0.5M216 401.75h0.5M217.5 401.75h0.5M218.5 401.75h0.5M219.5 401.75h1.5M221.5 401.75h0.5M223 401.75h0.5M224.5 401.75h0.5M226 401.75h0.5M232 401.75h0.5M195 402.25h2M197.5 402.25h0.5M198.5 402.25h1.5M200.5 402.25h1M202 402.25h0.5M203.5 402.25h0.5M204.5 402.25h2M209 402.25h0.5M211 402.25h0.5M212.5 402.25h1M215 402.25h1M216.5 402.25h0.5M217.5 402.25h0.5M218.5 402.25h1M221.5 402.25h0.5M223.5 402.25h1.5M227.5 402.25h0.5M236 402.25h0.5M192.5 402.75h2.5M195.5 402.75h1M197 402.75h2M202 402.75h0.5M204 402.75h1M206.5 402.75h0.5M209 402.75h1M210.5 402.75h0.5M212.5 402.75h0.5M215 402.75h0.5M216 402.75h1M218 402.75h0.5M219.5 402.75h0.5M221 402.75h0.5M223.5 402.75h1M225 402.75h0.5M226 402.75h1M232.5 402.75h0.5M243 402.75h0.5M191.5 403.25h2.5M194.5 403.25h1M196 403.25h2M199.5 403.25h1.5M202 403.25h0.5M203 403.25h1M209 403.25h1M211 403.25h0.5M212 403.25h0.5M213.5 403.25h0.5M215 403.25h0.5M220.5 403.25h0.5M226.5 403.25h0.5M229 403.25h1M190.5 403.75h1M192 403.75h1.5M194 403.75h1.5M196.5 403.75h0.5M198 403.75h1M202 403.75h0.5M204.5 403.75h1.5M209 403.75h0.5M210 403.75h0.5M216 403.75h0.5M219.5 403.75h0.5M222.5 403.75h0.5M224 403.75h1.5M228 403.75h1M230 403.75h0.5M189 404.25h6.5M198 404.25h0.5M199 404.25h0.5M200.5 404.25h0.5M202 404.25h1M204 404.25h1M205.5 404.25h0.5M207 404.25h1M208.5 404.25h0.5M215 404.25h0.5M216 404.25h0.5M217 404.25h1M219 404.25h1.5M221 404.25h1M223.5 404.25h0.5M225 404.25h1M226.5 404.25h1M230.5 404.25h0.5M231.5 404.25h0.5M233 404.25h0.5M188.5 404.75h3.5M192.5 404.75h0.5M194 404.75h0.5M195 404.75h0.5M196.5 404.75h0.5M197.5 404.75h1M199.5 404.75h0.5M201 404.75h0.5M202.5 404.75h1M204.5 404.75h0.5M210 404.75h0.5M212 404.75h0.5M213 404.75h0.5M216 404.75h0.5M218.5 404.75h0.5M220.5 404.75h0.5M229 404.75h0.5M187 405.25h0.5M188.5 405.25h2M191 405.25h1M195.5 405.25h1M197 405.25h2.5M200 405.25h0.5M201 405.25h0.5M203 405.25h1M206 405.25h1.5M208 405.25h0.5M210 405.25h0.5M214 405.25h0.5M216 405.25h0.5M219 405.25h1M221 405.25h0.5M228.5 405.25h0.5M236 405.25h0.5M241 405.25h0.5M186 405.75h3.5M190.5 405.75h0.5M192 405.75h0.5M196.5 405.75h0.5M197.5 405.75h0.5M199 405.75h0.5M201.5 405.75h0.5M202.5 405.75h0.5M203.5 405.75h0.5M212.5 405.75h1M217 405.75h0.5M219 405.75h1M221.5 405.75h0.5M223 405.75h0.5M227 405.75h0.5M184 406.25h1.5M186 406.25h1M187.5 406.25h1M189 406.25h3M192.5 406.25h0.5M195 406.25h1M197 406.25h0.5M199 406.25h0.5M202 406.25h0.5M207.5 406.25h0.5M208.5 406.25h0.5M210 406.25h0.5M212.5 406.25h0.5M215 406.25h0.5M216 406.25h0.5M218.5 406.25h0.5M219.5 406.25h0.5M224 406.25h0.5M235 406.25h0.5M183 406.75h0.5M184 406.75h3.5M188 406.75h0.5M190 406.75h1M191.5 406.75h0.5M193.5 406.75h0.5M194.5 406.75h0.5M195.5 406.75h0.5M200.5 406.75h1M202.5 406.75h0.5M204.5 406.75h0.5M207.5 406.75h0.5M214 406.75h2M221 406.75h0.5M226 406.75h0.5M231.5 406.75h0.5M160.5 407.25h0.5M180 407.25h0.5M182.5 407.25h2M185 407.25h1M186.5 407.25h2.5M190 407.25h0.5M191 407.25h0.5M192 407.25h1.5M194.5 407.25h0.5M196 407.25h0.5M197 407.25h0.5M199 407.25h0.5M202 407.25h0.5M204 407.25h0.5M206 407.25h0.5M209 407.25h0.5M210 407.25h0.5M213 407.25h0.5M214 407.25h0.5M220 407.25h0.5M223.5 407.25h1M225 407.25h0.5" stroke="#000" stroke-width="0.7" fill="none"/>
<rect x="40.4" y="15.4" width="82.8" height="73.7" fill="none" stroke="#555" stroke-width="1"/>
<path d="M77.6 15.4L77.6 89.1" stroke="#555" stroke-width="1" fill="none"/>
<path d="M40.4 49.8L123.2 49.8" stroke="#555" stroke-width="1" fill="none"/>
<rect x="141.3" y="15.4" width="82.8" height="73.7" fill="none" stroke="#555" stroke-width="1"/>
<path d="M178.5 15.4L178.5 89.1" stroke="#555" stroke-width="1" fill="none"/>
<path d="M141.3 49.8L224.1 49.8" stroke="#555" stroke-width="1" fill="none"/>
<ellipse cx="88.3" cy="33" rx="10.8" ry="16.5" fill="none" stroke="#444" stroke-width="0.7"/>
<ellipse cx="190" cy="36.2" rx="10.6" ry="13.3" fill="none" stroke="#444" stroke-width="0.7"/>
<text x="85" y="23.8" font-size="8.62" font-weight="bold" text-anchor="start" fill="#111" textLength="36.3" lengthAdjust="spacingAndGlyphs">4.9±1.3%</text>
<text x="185.5" y="25" font-size="8.66" font-weight="bold" text-anchor="start" fill="#111" textLength="36.5" lengthAdjust="spacingAndGlyphs">0.6±0.1%</text>
<path d="M23.9 26L27.0 32L20.799999999999997 32Z" fill="#111"/>
<path d="M23.9 31.5L23.9 41.2" stroke="#111" stroke-width="1.3" fill="none"/>
<path d="M23.9 62.3L23.9 80" stroke="#111" stroke-width="1.3" fill="none"/>
<text x="11.7" y="55.2" font-size="8.15" font-weight="bold" text-anchor="start" fill="#111" textLength="22.7" lengthAdjust="spacingAndGlyphs">IFN-<tspan font-style="italic" font-family="'Liberation Serif', serif" font-size="1.15em">γ</tspan><tspan font-size="0.62em" dy="-0.581em">+</tspan></text>
<path d="M73 103.9L109 103.9" stroke="#111" stroke-width="1.2" fill="none"/>
<text x="121.4" y="107.6" font-size="8.66" font-weight="bold" text-anchor="start" fill="#111" textLength="20.4" lengthAdjust="spacingAndGlyphs">CD8<tspan font-size="0.62em" dy="-0.581em">+</tspan></text>
<path d="M157 103.9L186.5 103.9" stroke="#111" stroke-width="1.4" fill="none"/>
<path d="M192.6 103.9L186.0 100.60000000000001L186.0 107.2Z" fill="#111"/>
<path d="M307.2 19.4L307.2 158" stroke="#555" stroke-width="0.9" fill="none"/>
<path d="M307.2 158L424 158" stroke="#555" stroke-width="0.9" fill="none"/>
<path d="M305.0 158.0L307.2 158.0" stroke="#555" stroke-width="0.7" fill="none"/>
<text x="302.8" y="160.6" font-size="7.3" font-weight="bold" text-anchor="end" fill="#222">0</text>
<path d="M305.0 130.3L307.2 130.3" stroke="#555" stroke-width="0.7" fill="none"/>
<text x="302.8" y="132.9" font-size="7.3" font-weight="bold" text-anchor="end" fill="#222">1</text>
<path d="M305.0 102.7L307.2 102.7" stroke="#555" stroke-width="0.7" fill="none"/>
<text x="302.8" y="105.3" font-size="7.3" font-weight="bold" text-anchor="end" fill="#222">2</text>
<path d="M305.0 75.1L307.2 75.1" stroke="#555" stroke-width="0.7" fill="none"/>
<text x="302.8" y="77.7" font-size="7.3" font-weight="bold" text-anchor="end" fill="#222">3</text>
<path d="M305.0 47.4L307.2 47.4" stroke="#555" stroke-width="0.7" fill="none"/>
<text x="302.8" y="50.0" font-size="7.3" font-weight="bold" text-anchor="end" fill="#222">4</text>
<path d="M305.0 19.8L307.2 19.8" stroke="#555" stroke-width="0.7" fill="none"/>
<text x="302.8" y="22.4" font-size="7.3" font-weight="bold" text-anchor="end" fill="#222">5</text>
<path d="M330.6 122.5L330.6 117.6" stroke="#555" stroke-width="0.8" fill="none"/>
<path d="M328.0 117.6L333.20000000000005 117.6" stroke="#555" stroke-width="0.8" fill="none"/>
<rect x="321.4" y="122.5" width="18.4" height="35.5" fill="#fff" stroke="#555" stroke-width="0.8"/>
<path d="M365.8 55.7L365.8 37" stroke="#555" stroke-width="0.8" fill="none"/>
<path d="M363.2 37L368.40000000000003 37" stroke="#555" stroke-width="0.8" fill="none"/>
<rect x="357" y="55.7" width="17.6" height="102.3" fill="#fff" stroke="#555" stroke-width="0.8"/>
<path d="M401.5 151.6L401.5 147" stroke="#555" stroke-width="0.8" fill="none"/>
<path d="M398.9 147L404.1 147" stroke="#555" stroke-width="0.8" fill="none"/>
<rect x="392.4" y="151.6" width="18.2" height="6.4" fill="#fff" stroke="#555" stroke-width="0.8"/>
<text x="331.5" y="169.2" font-size="7.6" font-weight="bold" text-anchor="middle" fill="#111">JEV</text>
<path d="M331.5 158L331.5 159.8" stroke="#555" stroke-width="0.7" fill="none"/>
<text x="366.2" y="169.2" font-size="7.6" font-weight="bold" text-anchor="middle" fill="#111">Mock</text>
<path d="M366.2 158L366.2 159.8" stroke="#555" stroke-width="0.7" fill="none"/>
<text x="401.7" y="169.2" font-size="7.6" font-weight="bold" text-anchor="middle" fill="#111">Naive</text>
<path d="M401.7 158L401.7 159.8" stroke="#555" stroke-width="0.7" fill="none"/>
<path d="M329.3 90.5V25.5H365.9V30" fill="none" stroke="#777" stroke-width="0.8"/>
<text x="349.4" y="25.2" font-size="9.5" font-weight="bold" text-anchor="middle" fill="#333">***</text>
<text transform="translate(288.8 87.6) rotate(-90)" font-size="6.88" font-weight="bold" text-anchor="middle" fill="#111" textLength="103.5" lengthAdjust="spacingAndGlyphs">IFN-<tspan font-style="italic" font-family="'Liberation Serif', serif" font-size="1.15em">γ</tspan><tspan font-size="0.62em" dy="-0.581em">+</tspan><tspan dy="0.36em">CD8<tspan font-size="0.62em" dy="-0.581em">+</tspan></tspan><tspan dy="0.36em"> T cells (X10<tspan font-size="0.62em" dy="-0.581em">5</tspan></tspan><tspan dy="0.36em">/spleen)</tspan></text>
<text x="89" y="139.3" font-size="10.5" font-weight="bold" text-anchor="middle" fill="#111">Mock</text>
<text x="184.5" y="139.3" font-size="10.5" font-weight="bold" text-anchor="middle" fill="#111">JEV</text>
<path d="M80 177.6L105 177.6" stroke="#d0d0d0" stroke-width="0.6" fill="none"/>
<path d="M104 183.2L124 183.2" stroke="#d0d0d0" stroke-width="0.6" fill="none"/>
<path d="M182 177.4L207 177.4" stroke="#d0d0d0" stroke-width="0.6" fill="none"/>
<path d="M206 182.6L225.4 182.6" stroke="#d0d0d0" stroke-width="0.6" fill="none"/>
<path d="M41 220V142H67L67.3 165L68.5 181L70 195L72 207L74 214.5L76 218.3L78 219.3L80.5 218.6L82.5 216.6L84.5 212L86.3 204L87.8 194L89 186L89.8 182.8L90.5 182.6L91.3 186L92.6 195L94.2 205L96 212L98 216.5L100.5 218.8L104 219.5L108 219.2L110.5 218.2L113 219.2L124 219.7V220Z" fill="#1a1a1a"/>
<path d="M139 220V142.3H166.8L168 165L169.6 190L171.4 207L173.6 216L176.5 219L180 219L183 216.5L185.5 210L187.7 199L189.6 186L191.3 174L192.4 166.5L193.2 167L194.4 178L196 192L198 204L200.2 212L203 217.3L206 218.6L208.3 216L210.3 210L212.2 201L213.8 193L215.2 189.3L216.4 191L217.8 198L219.4 207L221.2 214L223.3 218.5L225.4 219.6V220Z" fill="#1a1a1a"/>
<path d="M40.3 142L40.3 220.5" stroke="#999" stroke-width="0.6" fill="none"/>
<path d="M40.3 220.4L124.2 220.4" stroke="#999" stroke-width="0.6" fill="none"/>
<path d="M40.3 142.2H124.2V220" fill="none" stroke="#d0d0d0" stroke-width="0.5" stroke-dasharray="0.7 0.9"/>
<path d="M39.0 142.3L40.3 142.3" stroke="#999" stroke-width="0.5" fill="none"/>
<path d="M39.0 155.3L40.3 155.3" stroke="#999" stroke-width="0.5" fill="none"/>
<path d="M39.0 168.3L40.3 168.3" stroke="#999" stroke-width="0.5" fill="none"/>
<path d="M39.0 181.3L40.3 181.3" stroke="#999" stroke-width="0.5" fill="none"/>
<path d="M39.0 194.3L40.3 194.3" stroke="#999" stroke-width="0.5" fill="none"/>
<path d="M39.0 207.3L40.3 207.3" stroke="#999" stroke-width="0.5" fill="none"/>
<path d="M39.0 220.3L40.3 220.3" stroke="#999" stroke-width="0.5" fill="none"/>
<path d="M40.8 220.4L40.8 222" stroke="#999" stroke-width="0.5" fill="none"/>
<path d="M61.6 220.4L61.6 222" stroke="#999" stroke-width="0.5" fill="none"/>
<path d="M82.5 220.4L82.5 222" stroke="#999" stroke-width="0.5" fill="none"/>
<path d="M103.3 220.4L103.3 222" stroke="#999" stroke-width="0.5" fill="none"/>
<path d="M124.1 220.4L124.1 222" stroke="#999" stroke-width="0.5" fill="none"/>
<path d="M138.3 142L138.3 220.5" stroke="#999" stroke-width="0.6" fill="none"/>
<path d="M138.3 220.4L225.4 220.4" stroke="#999" stroke-width="0.6" fill="none"/>
<path d="M138.3 142.2H225.4V220" fill="none" stroke="#d0d0d0" stroke-width="0.5" stroke-dasharray="0.7 0.9"/>
<path d="M137.0 142.3L138.3 142.3" stroke="#999" stroke-width="0.5" fill="none"/>
<path d="M137.0 155.3L138.3 155.3" stroke="#999" stroke-width="0.5" fill="none"/>
<path d="M137.0 168.3L138.3 168.3" stroke="#999" stroke-width="0.5" fill="none"/>
<path d="M137.0 181.3L138.3 181.3" stroke="#999" stroke-width="0.5" fill="none"/>
<path d="M137.0 194.3L138.3 194.3" stroke="#999" stroke-width="0.5" fill="none"/>
<path d="M137.0 207.3L138.3 207.3" stroke="#999" stroke-width="0.5" fill="none"/>
<path d="M137.0 220.3L138.3 220.3" stroke="#999" stroke-width="0.5" fill="none"/>
<path d="M138.8 220.4L138.8 222" stroke="#999" stroke-width="0.5" fill="none"/>
<path d="M160.4 220.4L160.4 222" stroke="#999" stroke-width="0.5" fill="none"/>
<path d="M182.1 220.4L182.1 222" stroke="#999" stroke-width="0.5" fill="none"/>
<path d="M203.7 220.4L203.7 222" stroke="#999" stroke-width="0.5" fill="none"/>
<path d="M225.3 220.4L225.3 222" stroke="#999" stroke-width="0.5" fill="none"/>
<text x="77" y="154.2" font-size="8.55" font-weight="bold" text-anchor="start" fill="#111" textLength="45.5" lengthAdjust="spacingAndGlyphs">95.1 ± 2.4%</text>
<text x="177.6" y="155" font-size="8.53" font-weight="bold" text-anchor="start" fill="#111" textLength="45.4" lengthAdjust="spacingAndGlyphs">41.6 ± 5.5%</text>
<text x="40.5" y="223.6" font-size="2.4" font-weight="normal" text-anchor="middle" fill="#777">10<tspan font-size="0.62em" dy="-0.581em">0</tspan></text>
<text x="61.6" y="223.6" font-size="2.4" font-weight="normal" text-anchor="middle" fill="#777">10<tspan font-size="0.62em" dy="-0.581em">1</tspan></text>
<text x="82.7" y="223.6" font-size="2.4" font-weight="normal" text-anchor="middle" fill="#777">10<tspan font-size="0.62em" dy="-0.581em">2</tspan></text>
<text x="103.8" y="223.6" font-size="2.4" font-weight="normal" text-anchor="middle" fill="#777">10<tspan font-size="0.62em" dy="-0.581em">3</tspan></text>
<text x="124.9" y="223.6" font-size="2.4" font-weight="normal" text-anchor="middle" fill="#777">10<tspan font-size="0.62em" dy="-0.581em">4</tspan></text>
<text x="38.5" y="143" font-size="2.2" font-weight="normal" text-anchor="end" fill="#777">120</text>
<text x="38.5" y="156" font-size="2.2" font-weight="normal" text-anchor="end" fill="#777">100</text>
<text x="38.5" y="169" font-size="2.2" font-weight="normal" text-anchor="end" fill="#777">80</text>
<text x="38.5" y="182" font-size="2.2" font-weight="normal" text-anchor="end" fill="#777">60</text>
<text x="38.5" y="195" font-size="2.2" font-weight="normal" text-anchor="end" fill="#777">40</text>
<text x="38.5" y="208" font-size="2.2" font-weight="normal" text-anchor="end" fill="#777">20</text>
<text x="38.5" y="221" font-size="2.2" font-weight="normal" text-anchor="end" fill="#777">0</text>
<text x="138.6" y="223.6" font-size="2.4" font-weight="normal" text-anchor="middle" fill="#777">10<tspan font-size="0.62em" dy="-0.581em">0</tspan></text>
<text x="159.7" y="223.6" font-size="2.4" font-weight="normal" text-anchor="middle" fill="#777">10<tspan font-size="0.62em" dy="-0.581em">1</tspan></text>
<text x="180.8" y="223.6" font-size="2.4" font-weight="normal" text-anchor="middle" fill="#777">10<tspan font-size="0.62em" dy="-0.581em">2</tspan></text>
<text x="201.9" y="223.6" font-size="2.4" font-weight="normal" text-anchor="middle" fill="#777">10<tspan font-size="0.62em" dy="-0.581em">3</tspan></text>
<text x="223.0" y="223.6" font-size="2.4" font-weight="normal" text-anchor="middle" fill="#777">10<tspan font-size="0.62em" dy="-0.581em">4</tspan></text>
<text x="136.6" y="143" font-size="2.2" font-weight="normal" text-anchor="end" fill="#777">120</text>
<text x="136.6" y="156" font-size="2.2" font-weight="normal" text-anchor="end" fill="#777">100</text>
<text x="136.6" y="169" font-size="2.2" font-weight="normal" text-anchor="end" fill="#777">80</text>
<text x="136.6" y="182" font-size="2.2" font-weight="normal" text-anchor="end" fill="#777">60</text>
<text x="136.6" y="195" font-size="2.2" font-weight="normal" text-anchor="end" fill="#777">40</text>
<text x="136.6" y="208" font-size="2.2" font-weight="normal" text-anchor="end" fill="#777">20</text>
<text x="136.6" y="221" font-size="2.2" font-weight="normal" text-anchor="end" fill="#777">0</text>
<text transform="translate(35.2 181) rotate(-90)" font-size="2.2" font-weight="normal" text-anchor="middle" fill="#888">Counts</text>
<text transform="translate(133.4 181) rotate(-90)" font-size="2.2" font-weight="normal" text-anchor="middle" fill="#888">Counts</text>
<text x="82" y="226.3" font-size="2.2" font-weight="normal" text-anchor="middle" fill="#888">FL1-H</text>
<text x="181" y="226.3" font-size="2.2" font-weight="normal" text-anchor="middle" fill="#888">FL1-H</text>
<text x="94.2" y="255" font-size="10.7" font-weight="bold" text-anchor="middle" fill="#111">Mock</text>
<text x="204.2" y="255" font-size="10.7" font-weight="bold" text-anchor="middle" fill="#111">JEV</text>
<rect x="52" y="260" width="86" height="67.5" fill="none" stroke="#333" stroke-width="1.05"/>
<path d="M86.6 260L86.6 327.5" stroke="#333" stroke-width="1.05" fill="none"/>
<path d="M52 302.1L138 302.1" stroke="#333" stroke-width="1.05" fill="none"/>
<path d="M50.4 276.9H52M73.5 327.5V329.1M50.4 293.8H52M95.0 327.5V329.1M50.4 310.6H52M116.5 327.5V329.1" stroke="#555" stroke-width="0.7" fill="none"/>
<rect x="159.6" y="260" width="85.2" height="67.8" fill="none" stroke="#333" stroke-width="1.05"/>
<path d="M193 260L193 327.8" stroke="#333" stroke-width="1.05" fill="none"/>
<path d="M159.6 302.1L244.8 302.1" stroke="#333" stroke-width="1.05" fill="none"/>
<path d="M158.0 276.9H159.6M180.9 327.8V329.4M158.0 293.9H159.6M202.2 327.8V329.4M158.0 310.9H159.6M223.5 327.8V329.4" stroke="#555" stroke-width="0.7" fill="none"/>
<rect x="52" y="337.5" width="85.5" height="70.7" fill="none" stroke="#333" stroke-width="1.05"/>
<path d="M100.4 337.5L100.4 408.2" stroke="#333" stroke-width="1.05" fill="none"/>
<path d="M52 375.5L137.5 375.5" stroke="#333" stroke-width="1.05" fill="none"/>
<path d="M50.4 355.2H52M73.4 408.2V409.8M50.4 372.9H52M94.8 408.2V409.8M50.4 390.5H52M116.1 408.2V409.8" stroke="#555" stroke-width="0.7" fill="none"/>
<rect x="160" y="338" width="84.8" height="70.2" fill="none" stroke="#333" stroke-width="1.05"/>
<path d="M207.8 338L207.8 408.2" stroke="#333" stroke-width="1.05" fill="none"/>
<path d="M160 376L244.8 376" stroke="#333" stroke-width="1.05" fill="none"/>
<path d="M158.4 355.6H160M181.2 408.2V409.8M158.4 373.1H160M202.4 408.2V409.8M158.4 390.6H160M223.6 408.2V409.8" stroke="#555" stroke-width="0.7" fill="none"/>
<ellipse cx="95.8" cy="287.7" rx="8.6" ry="14" fill="none" stroke="#111" stroke-width="1"/>
<ellipse cx="202.6" cy="287.7" rx="9" ry="14" fill="none" stroke="#111" stroke-width="1"/>
<circle cx="116.6" cy="360.1" r="15.8" fill="none" stroke="#111" stroke-width="1"/>
<circle cx="224.4" cy="360.1" r="15.8" fill="none" stroke="#111" stroke-width="1"/>
<text x="93" y="270.2" font-size="8.37" font-weight="bold" text-anchor="start" fill="#111" textLength="42.2" lengthAdjust="spacingAndGlyphs">12.6± 2.1%</text>
<text x="201.8" y="270.2" font-size="8.52" font-weight="bold" text-anchor="start" fill="#111" textLength="38.2" lengthAdjust="spacingAndGlyphs">6.2± 1.3%</text>
<text x="57.2" y="349.2" font-size="8.5" font-weight="bold" text-anchor="start" fill="#111" textLength="40.5" lengthAdjust="spacingAndGlyphs">14.2±2.9%</text>
<text x="165" y="349.8" font-size="8.34" font-weight="bold" text-anchor="start" fill="#111" textLength="37.4" lengthAdjust="spacingAndGlyphs">7.9± 1.9%</text>
<path d="M28.7 263.6L31.8 269.6L25.599999999999998 269.6Z" fill="#111"/>
<path d="M28.7 269.1L28.7 289" stroke="#111" stroke-width="1.3" fill="none"/>
<path d="M28.7 304L28.7 317" stroke="#111" stroke-width="1.3" fill="none"/>
<text x="14" y="297.8" font-size="8.11" font-weight="bold" text-anchor="start" fill="#111" textLength="22.6" lengthAdjust="spacingAndGlyphs">IFN-<tspan font-style="italic" font-family="'Liberation Serif', serif" font-size="1.15em">γ</tspan><tspan font-size="0.62em" dy="-0.581em">+</tspan></text>
<path d="M28.7 343.6L31.8 349.6L25.599999999999998 349.6Z" fill="#111"/>
<path d="M28.7 349.1L28.7 359.5" stroke="#111" stroke-width="1.3" fill="none"/>
<path d="M28.7 384.5L28.7 400.5" stroke="#111" stroke-width="1.3" fill="none"/>
<text x="1.6" y="373.7" font-size="8.64" font-weight="bold" text-anchor="start" fill="#111" textLength="46.8" lengthAdjust="spacingAndGlyphs"><tspan font-size="0.6em" dy="-0.667em">b</tspan><tspan dy="0.4em">/OVAp Tet<tspan font-size="0.62em" dy="-0.581em">+</tspan></tspan></text>
<path d="M78.6 421.9L127.8 421.9" stroke="#111" stroke-width="1.2" fill="none"/>
<text x="138.9" y="424.2" font-size="8.66" font-weight="bold" text-anchor="start" fill="#111" textLength="20.4" lengthAdjust="spacingAndGlyphs">CD8<tspan font-size="0.62em" dy="-0.581em">+</tspan></text>
<path d="M171.5 421.9L209.1 421.9" stroke="#111" stroke-width="1.4" fill="none"/>
<path d="M215.2 421.9L208.6 418.59999999999997L208.6 425.2Z" fill="#111"/>
<path d="M289.5 270L289.5 369.3" stroke="#333" stroke-width="0.9" fill="none"/>
<path d="M289.1 369.3L388 369.3" stroke="#333" stroke-width="0.9" fill="none"/>
<path d="M288.0 369.3L289.5 369.3" stroke="#333" stroke-width="0.6" fill="none"/>
<text x="285.3" y="371.5" font-size="6.2" font-weight="bold" text-anchor="end" fill="#111">0</text>
<path d="M288.0 347.1L289.5 347.1" stroke="#333" stroke-width="0.6" fill="none"/>
<text x="285.3" y="349.3" font-size="6.2" font-weight="bold" text-anchor="end" fill="#111">2</text>
<path d="M288.0 324.9L289.5 324.9" stroke="#333" stroke-width="0.6" fill="none"/>
<text x="285.3" y="327.1" font-size="6.2" font-weight="bold" text-anchor="end" fill="#111">4</text>
<path d="M288.0 302.7L289.5 302.7" stroke="#333" stroke-width="0.6" fill="none"/>
<text x="285.3" y="304.9" font-size="6.2" font-weight="bold" text-anchor="end" fill="#111">6</text>
<path d="M288.0 280.5L289.5 280.5" stroke="#333" stroke-width="0.6" fill="none"/>
<text x="285.3" y="282.7" font-size="6.2" font-weight="bold" text-anchor="end" fill="#111">8</text>
<path d="M306.0 328L306.0 327.2" stroke="#333" stroke-width="0.7" fill="none"/>
<path d="M303.8 327.2L308.2 327.2" stroke="#333" stroke-width="0.7" fill="none"/>
<rect x="297.8" y="328" width="16.4" height="41.3" fill="#060606" stroke="none" stroke-width="1"/>
<path d="M306.0 369.3L306.0 370.8" stroke="#333" stroke-width="0.6" fill="none"/>
<path d="M339.2 290.6L339.2 289.6" stroke="#333" stroke-width="0.7" fill="none"/>
<path d="M337.0 289.6L341.4 289.6" stroke="#333" stroke-width="0.7" fill="none"/>
<rect x="331" y="290.6" width="16.5" height="78.7" fill="#060606" stroke="none" stroke-width="1"/>
<path d="M339.2 369.3L339.2 370.8" stroke="#333" stroke-width="0.6" fill="none"/>
<path d="M372.8 361.8L372.8 361.2" stroke="#333" stroke-width="0.7" fill="none"/>
<path d="M370.6 361.2L375.0 361.2" stroke="#333" stroke-width="0.7" fill="none"/>
<rect x="364.5" y="361.8" width="16.5" height="7.5" fill="#060606" stroke="none" stroke-width="1"/>
<path d="M372.8 369.3L372.8 370.8" stroke="#333" stroke-width="0.6" fill="none"/>
<text x="300.9" y="379.6" font-size="6.1000000000000005" font-weight="bold" text-anchor="start" fill="#111" textLength="10.4" lengthAdjust="spacingAndGlyphs">JEV</text>
<text x="332.6" y="379.6" font-size="6.1000000000000005" font-weight="bold" text-anchor="start" fill="#111" textLength="13.1" lengthAdjust="spacingAndGlyphs">Mock</text>
<text x="365.7" y="379.6" font-size="6.1000000000000005" font-weight="bold" text-anchor="start" fill="#111" textLength="13.8" lengthAdjust="spacingAndGlyphs">Naive</text>
<path d="M305.2 295V282H339.2V285.3" fill="none" stroke="#888" stroke-width="0.7"/>
<text x="322.2" y="281.6" font-size="9.8" font-weight="bold" text-anchor="middle" fill="#333">***</text>
<text transform="translate(279.3 321.6) rotate(-90)" font-size="6.75" font-weight="bold" text-anchor="middle" fill="#111" textLength="105.8" lengthAdjust="spacingAndGlyphs">IFN-<tspan font-style="italic" font-family="'Liberation Serif', serif" font-size="1.15em">γ</tspan>+ CD8+ Tcells (X10<tspan font-size="0.62em" dy="-0.581em">5</tspan><tspan dy="0.36em"> /spleen)</tspan></text>
<path d="M419.3 268.6L419.3 369.3" stroke="#333" stroke-width="0.9" fill="none"/>
<path d="M418.90000000000003 369.3L518 369.3" stroke="#333" stroke-width="0.9" fill="none"/>
<path d="M417.8 369.3L419.3 369.3" stroke="#333" stroke-width="0.6" fill="none"/>
<text x="415.1" y="371.5" font-size="6.2" font-weight="bold" text-anchor="end" fill="#111">0</text>
<path d="M417.8 349.3L419.3 349.3" stroke="#333" stroke-width="0.6" fill="none"/>
<text x="415.1" y="351.5" font-size="6.2" font-weight="bold" text-anchor="end" fill="#111">2</text>
<path d="M417.8 329.3L419.3 329.3" stroke="#333" stroke-width="0.6" fill="none"/>
<text x="415.1" y="331.5" font-size="6.2" font-weight="bold" text-anchor="end" fill="#111">4</text>
<path d="M417.8 309.3L419.3 309.3" stroke="#333" stroke-width="0.6" fill="none"/>
<text x="415.1" y="311.5" font-size="6.2" font-weight="bold" text-anchor="end" fill="#111">6</text>
<path d="M417.8 289.3L419.3 289.3" stroke="#333" stroke-width="0.6" fill="none"/>
<text x="415.1" y="291.5" font-size="6.2" font-weight="bold" text-anchor="end" fill="#111">8</text>
<path d="M417.8 269.3L419.3 269.3" stroke="#333" stroke-width="0.6" fill="none"/>
<text x="415.1" y="271.5" font-size="6.2" font-weight="bold" text-anchor="end" fill="#111">10</text>
<path d="M435.8 322L435.8 321.2" stroke="#333" stroke-width="0.7" fill="none"/>
<path d="M433.6 321.2L438.0 321.2" stroke="#333" stroke-width="0.7" fill="none"/>
<rect x="427.4" y="322" width="16.7" height="47.3" fill="#060606" stroke="none" stroke-width="1"/>
<path d="M435.8 369.3L435.8 370.8" stroke="#333" stroke-width="0.6" fill="none"/>
<path d="M469.1 288.8L469.1 281.2" stroke="#333" stroke-width="0.7" fill="none"/>
<path d="M466.5 281.2L471.70000000000005 281.2" stroke="#333" stroke-width="0.7" fill="none"/>
<rect x="460.6" y="288.8" width="16.9" height="80.5" fill="#060606" stroke="none" stroke-width="1"/>
<path d="M469.1 369.3L469.1 370.8" stroke="#333" stroke-width="0.6" fill="none"/>
<path d="M502.4 363L502.4 362.2" stroke="#333" stroke-width="0.7" fill="none"/>
<path d="M500.2 362.2L504.59999999999997 362.2" stroke="#333" stroke-width="0.7" fill="none"/>
<rect x="494" y="363" width="16.9" height="6.3" fill="#060606" stroke="none" stroke-width="1"/>
<path d="M502.4 369.3L502.4 370.8" stroke="#333" stroke-width="0.6" fill="none"/>
<text x="430.6" y="379.6" font-size="6.1000000000000005" font-weight="bold" text-anchor="start" fill="#111" textLength="10.4" lengthAdjust="spacingAndGlyphs">JEV</text>
<text x="462.4" y="379.6" font-size="6.1000000000000005" font-weight="bold" text-anchor="start" fill="#111" textLength="13.1" lengthAdjust="spacingAndGlyphs">Mock</text>
<text x="495.3" y="379.6" font-size="6.1000000000000005" font-weight="bold" text-anchor="start" fill="#111" textLength="13.8" lengthAdjust="spacingAndGlyphs">Naive</text>
<path d="M435.6 296V275H469.2V278.2" fill="none" stroke="#888" stroke-width="0.7"/>
<text x="452.6" y="275.4" font-size="9.8" font-weight="bold" text-anchor="middle" fill="#333">***</text>
<text transform="translate(400 320.8) rotate(-90)" font-size="6.53" font-weight="bold" text-anchor="middle" fill="#111" textLength="79.4" lengthAdjust="spacingAndGlyphs">K<tspan font-size="0.62em" dy="-0.581em">b</tspan><tspan dy="0.36em">/OVAp Tet<tspan font-size="0.62em" dy="-0.581em">+</tspan></tspan><tspan dy="0.36em"> CD8<tspan font-size="0.62em" dy="-0.581em">+</tspan></tspan><tspan dy="0.36em"> T cells</tspan></text>
<text transform="translate(407.6 320.4) rotate(-90)" font-size="6.58" font-weight="bold" text-anchor="middle" fill="#111" textLength="41" lengthAdjust="spacingAndGlyphs">(X10<tspan font-size="0.62em" dy="-0.581em">5</tspan><tspan dy="0.36em">/spleen)</tspan></text>
<rect x="53.2" y="458.5" width="157.2" height="122.9" fill="none" stroke="#666" stroke-width="0.9"/>
<path d="M53.2 458.5L53.2 581.4" stroke="#444" stroke-width="1" fill="none"/>
<path d="M53.2 581.4L210.4 581.4" stroke="#444" stroke-width="1" fill="none"/>
<path d="M50.800000000000004 581.4L53.2 581.4" stroke="#444" stroke-width="0.8" fill="none"/>
<text x="47.2" y="584.3" font-size="7.8" font-weight="bold" text-anchor="end" fill="#111">0</text>
<path d="M50.800000000000004 560.9L53.2 560.9" stroke="#444" stroke-width="0.8" fill="none"/>
<text x="47.2" y="563.8" font-size="7.8" font-weight="bold" text-anchor="end" fill="#111">20</text>
<path d="M50.800000000000004 540.4L53.2 540.4" stroke="#444" stroke-width="0.8" fill="none"/>
<text x="47.2" y="543.3" font-size="7.8" font-weight="bold" text-anchor="end" fill="#111">40</text>
<path d="M50.800000000000004 520.0L53.2 520.0" stroke="#444" stroke-width="0.8" fill="none"/>
<text x="47.2" y="522.9" font-size="7.8" font-weight="bold" text-anchor="end" fill="#111">60</text>
<path d="M50.800000000000004 499.5L53.2 499.5" stroke="#444" stroke-width="0.8" fill="none"/>
<text x="47.2" y="502.4" font-size="7.8" font-weight="bold" text-anchor="end" fill="#111">80</text>
<path d="M50.800000000000004 479.0L53.2 479.0" stroke="#444" stroke-width="0.8" fill="none"/>
<text x="47.2" y="481.9" font-size="7.8" font-weight="bold" text-anchor="end" fill="#111">100</text>
<path d="M50.800000000000004 458.5L53.2 458.5" stroke="#444" stroke-width="0.8" fill="none"/>
<text x="47.2" y="461.4" font-size="7.8" font-weight="bold" text-anchor="end" fill="#111">120</text>
<path d="M53.2 581.4L53.2 583.8" stroke="#444" stroke-width="0.8" fill="none"/>
<text x="53.2" y="595" font-size="7.8" font-weight="bold" text-anchor="middle" fill="#111">0</text>
<path d="M70.6 581.4L70.6 583.8" stroke="#444" stroke-width="0.8" fill="none"/>
<text x="70.6" y="595" font-size="7.8" font-weight="bold" text-anchor="middle" fill="#111">2</text>
<path d="M88.1 581.4L88.1 583.8" stroke="#444" stroke-width="0.8" fill="none"/>
<text x="88.1" y="595" font-size="7.8" font-weight="bold" text-anchor="middle" fill="#111">4</text>
<path d="M105.5 581.4L105.5 583.8" stroke="#444" stroke-width="0.8" fill="none"/>
<text x="105.5" y="595" font-size="7.8" font-weight="bold" text-anchor="middle" fill="#111">6</text>
<path d="M123.0 581.4L123.0 583.8" stroke="#444" stroke-width="0.8" fill="none"/>
<text x="123.0" y="595" font-size="7.8" font-weight="bold" text-anchor="middle" fill="#111">8</text>
<path d="M140.4 581.4L140.4 583.8" stroke="#444" stroke-width="0.8" fill="none"/>
<text x="140.4" y="595" font-size="7.8" font-weight="bold" text-anchor="middle" fill="#111">10</text>
<path d="M157.8 581.4L157.8 583.8" stroke="#444" stroke-width="0.8" fill="none"/>
<text x="157.8" y="595" font-size="7.8" font-weight="bold" text-anchor="middle" fill="#111">12</text>
<path d="M175.3 581.4L175.3 583.8" stroke="#444" stroke-width="0.8" fill="none"/>
<text x="175.3" y="595" font-size="7.8" font-weight="bold" text-anchor="middle" fill="#111">14</text>
<path d="M192.7 581.4L192.7 583.8" stroke="#444" stroke-width="0.8" fill="none"/>
<text x="192.7" y="595" font-size="7.8" font-weight="bold" text-anchor="middle" fill="#111">16</text>
<path d="M210.2 581.4L210.2 583.8" stroke="#444" stroke-width="0.8" fill="none"/>
<text x="210.2" y="595" font-size="7.8" font-weight="bold" text-anchor="middle" fill="#111">18</text>
<text x="63.8" y="453.3" font-size="10.11" font-weight="bold" text-anchor="start" fill="#111" textLength="44.8" lengthAdjust="spacingAndGlyphs">5×10<tspan font-size="0.62em" dy="-0.677em">5</tspan><tspan dy="0.42em"> pfu</tspan></text>
<text transform="translate(27 521) rotate(-90)" font-size="8.51" font-weight="bold" text-anchor="middle" fill="#111" textLength="66.5" lengthAdjust="spacingAndGlyphs">Survival rate (%)</text>
<text x="131" y="612" font-size="8.25" font-weight="bold" text-anchor="middle" fill="#111" textLength="80" lengthAdjust="spacingAndGlyphs">Days post-challenge</text>
<path d="M61.9 479.0H70.6H79.4H88.1V490.3H96.8V501.5H105.5H114.2V512.8H123.0H131.7H140.4V535.8H149.1H157.8H166.6V547.3H175.3H184.0H192.7H201.4" fill="none" stroke="#222" stroke-width="0.9"/>
<circle cx="88.1" cy="490.3" r="3.1" fill="#0a0a0a"/>
<circle cx="96.8" cy="501.5" r="3.1" fill="#0a0a0a"/>
<circle cx="105.5" cy="501.5" r="3.1" fill="#0a0a0a"/>
<circle cx="114.2" cy="512.8" r="3.1" fill="#0a0a0a"/>
<circle cx="123.0" cy="512.8" r="3.1" fill="#0a0a0a"/>
<circle cx="131.7" cy="512.8" r="3.1" fill="#0a0a0a"/>
<circle cx="140.4" cy="535.8" r="3.1" fill="#0a0a0a"/>
<circle cx="149.1" cy="535.8" r="3.1" fill="#0a0a0a"/>
<circle cx="157.8" cy="535.8" r="3.1" fill="#0a0a0a"/>
<circle cx="166.6" cy="547.3" r="3.1" fill="#0a0a0a"/>
<circle cx="175.3" cy="547.3" r="3.1" fill="#0a0a0a"/>
<circle cx="184.0" cy="547.3" r="3.1" fill="#0a0a0a"/>
<circle cx="192.7" cy="547.3" r="3.1" fill="#0a0a0a"/>
<circle cx="201.4" cy="547.3" r="3.1" fill="#0a0a0a"/>
<path d="M61.9 479.0H70.6H79.4H88.1H96.8H105.5H114.2V501.5H123.0H131.7H140.4H149.1H157.8V513.1H166.6H175.3H184.0H192.7H201.4" fill="none" stroke="#222" stroke-width="0.9"/>
<circle cx="61.9" cy="479.0" r="2.75" fill="#fff" stroke="#222" stroke-width="0.8"/>
<circle cx="70.6" cy="479.0" r="2.75" fill="#fff" stroke="#222" stroke-width="0.8"/>
<circle cx="79.4" cy="479.0" r="2.75" fill="#fff" stroke="#222" stroke-width="0.8"/>
<circle cx="88.1" cy="479.0" r="2.75" fill="#fff" stroke="#222" stroke-width="0.8"/>
<circle cx="96.8" cy="479.0" r="2.75" fill="#fff" stroke="#222" stroke-width="0.8"/>
<circle cx="105.5" cy="479.0" r="2.75" fill="#fff" stroke="#222" stroke-width="0.8"/>
<circle cx="114.2" cy="501.5" r="2.75" fill="#fff" stroke="#222" stroke-width="0.8"/>
<circle cx="123.0" cy="501.5" r="2.75" fill="#fff" stroke="#222" stroke-width="0.8"/>
<circle cx="131.7" cy="501.5" r="2.75" fill="#fff" stroke="#222" stroke-width="0.8"/>
<circle cx="140.4" cy="501.5" r="2.75" fill="#fff" stroke="#222" stroke-width="0.8"/>
<circle cx="149.1" cy="501.5" r="2.75" fill="#fff" stroke="#222" stroke-width="0.8"/>
<circle cx="157.8" cy="513.1" r="2.75" fill="#fff" stroke="#222" stroke-width="0.8"/>
<circle cx="166.6" cy="513.1" r="2.75" fill="#fff" stroke="#222" stroke-width="0.8"/>
<circle cx="175.3" cy="513.1" r="2.75" fill="#fff" stroke="#222" stroke-width="0.8"/>
<circle cx="184.0" cy="513.1" r="2.75" fill="#fff" stroke="#222" stroke-width="0.8"/>
<circle cx="192.7" cy="513.1" r="2.75" fill="#fff" stroke="#222" stroke-width="0.8"/>
<circle cx="201.4" cy="513.1" r="2.75" fill="#fff" stroke="#222" stroke-width="0.8"/>
<rect x="159.8" y="462.3" width="47.8" height="28.3" fill="#fff" stroke="#333" stroke-width="0.8"/>
<path d="M164 470.8L180.6 470.8" stroke="#222" stroke-width="0.9" fill="none"/>
<circle cx="172.6" cy="470.8" r="3.1" fill="#0a0a0a"/>
<text x="185" y="473.4" font-size="6.9" font-weight="normal" text-anchor="start" fill="#222">JEV</text>
<path d="M164 481.3L180.6 481.3" stroke="#222" stroke-width="0.9" fill="none"/>
<circle cx="172.6" cy="481.3" r="2.75" fill="#fff" stroke="#222" stroke-width="0.8"/>
<text x="185" y="483.9" font-size="6.9" font-weight="normal" text-anchor="start" fill="#222">Mock</text>
<rect x="280.4" y="460" width="155.9" height="122.5" fill="none" stroke="#666" stroke-width="0.9"/>
<path d="M280.4 460L280.4 582.5" stroke="#444" stroke-width="1" fill="none"/>
<path d="M280.4 582.5L436.3 582.5" stroke="#444" stroke-width="1" fill="none"/>
<path d="M278.0 582.5L280.4 582.5" stroke="#444" stroke-width="0.8" fill="none"/>
<text x="274.4" y="585.4" font-size="7.8" font-weight="bold" text-anchor="end" fill="#111">0</text>
<path d="M278.0 562.1L280.4 562.1" stroke="#444" stroke-width="0.8" fill="none"/>
<text x="274.4" y="565.0" font-size="7.8" font-weight="bold" text-anchor="end" fill="#111">20</text>
<path d="M278.0 541.7L280.4 541.7" stroke="#444" stroke-width="0.8" fill="none"/>
<text x="274.4" y="544.6" font-size="7.8" font-weight="bold" text-anchor="end" fill="#111">40</text>
<path d="M278.0 521.2L280.4 521.2" stroke="#444" stroke-width="0.8" fill="none"/>
<text x="274.4" y="524.1" font-size="7.8" font-weight="bold" text-anchor="end" fill="#111">60</text>
<path d="M278.0 500.8L280.4 500.8" stroke="#444" stroke-width="0.8" fill="none"/>
<text x="274.4" y="503.7" font-size="7.8" font-weight="bold" text-anchor="end" fill="#111">80</text>
<path d="M278.0 480.4L280.4 480.4" stroke="#444" stroke-width="0.8" fill="none"/>
<text x="274.4" y="483.3" font-size="7.8" font-weight="bold" text-anchor="end" fill="#111">100</text>
<path d="M278.0 460.0L280.4 460.0" stroke="#444" stroke-width="0.8" fill="none"/>
<text x="274.4" y="462.9" font-size="7.8" font-weight="bold" text-anchor="end" fill="#111">120</text>
<path d="M280.4 582.5L280.4 584.9" stroke="#444" stroke-width="0.8" fill="none"/>
<text x="280.4" y="595.8" font-size="7.8" font-weight="bold" text-anchor="middle" fill="#111">0</text>
<path d="M297.7 582.5L297.7 584.9" stroke="#444" stroke-width="0.8" fill="none"/>
<text x="297.7" y="595.8" font-size="7.8" font-weight="bold" text-anchor="middle" fill="#111">2</text>
<path d="M315.1 582.5L315.1 584.9" stroke="#444" stroke-width="0.8" fill="none"/>
<text x="315.1" y="595.8" font-size="7.8" font-weight="bold" text-anchor="middle" fill="#111">4</text>
<path d="M332.4 582.5L332.4 584.9" stroke="#444" stroke-width="0.8" fill="none"/>
<text x="332.4" y="595.8" font-size="7.8" font-weight="bold" text-anchor="middle" fill="#111">6</text>
<path d="M349.8 582.5L349.8 584.9" stroke="#444" stroke-width="0.8" fill="none"/>
<text x="349.8" y="595.8" font-size="7.8" font-weight="bold" text-anchor="middle" fill="#111">8</text>
<path d="M367.1 582.5L367.1 584.9" stroke="#444" stroke-width="0.8" fill="none"/>
<text x="367.1" y="595.8" font-size="7.8" font-weight="bold" text-anchor="middle" fill="#111">10</text>
<path d="M384.4 582.5L384.4 584.9" stroke="#444" stroke-width="0.8" fill="none"/>
<text x="384.4" y="595.8" font-size="7.8" font-weight="bold" text-anchor="middle" fill="#111">12</text>
<path d="M401.8 582.5L401.8 584.9" stroke="#444" stroke-width="0.8" fill="none"/>
<text x="401.8" y="595.8" font-size="7.8" font-weight="bold" text-anchor="middle" fill="#111">14</text>
<path d="M419.1 582.5L419.1 584.9" stroke="#444" stroke-width="0.8" fill="none"/>
<text x="419.1" y="595.8" font-size="7.8" font-weight="bold" text-anchor="middle" fill="#111">16</text>
<path d="M436.5 582.5L436.5 584.9" stroke="#444" stroke-width="0.8" fill="none"/>
<text x="436.5" y="595.8" font-size="7.8" font-weight="bold" text-anchor="middle" fill="#111">18</text>
<text x="288.4" y="455.5" font-size="10.11" font-weight="bold" text-anchor="start" fill="#111" textLength="44.8" lengthAdjust="spacingAndGlyphs">1×10<tspan font-size="0.62em" dy="-0.677em">6</tspan><tspan dy="0.42em"> pfu</tspan></text>
<text transform="translate(254.4 521) rotate(-90)" font-size="8.51" font-weight="bold" text-anchor="middle" fill="#111" textLength="66.5" lengthAdjust="spacingAndGlyphs">Survival rate (%)</text>
<text x="357.5" y="612.8" font-size="8.25" font-weight="bold" text-anchor="middle" fill="#111" textLength="80" lengthAdjust="spacingAndGlyphs">Days post-challenge</text>
<path d="M289.1 480.4H297.7H306.4H315.1V502.9H323.8H332.4H341.1H349.8H358.4V525.7H367.1H375.8V559.8H384.4H393.1H401.8H410.4H419.1H427.8" fill="none" stroke="#222" stroke-width="0.9"/>
<circle cx="315.1" cy="502.9" r="3.1" fill="#0a0a0a"/>
<circle cx="323.8" cy="502.9" r="3.1" fill="#0a0a0a"/>
<circle cx="332.4" cy="502.9" r="3.1" fill="#0a0a0a"/>
<circle cx="341.1" cy="502.9" r="3.1" fill="#0a0a0a"/>
<circle cx="349.8" cy="502.9" r="3.1" fill="#0a0a0a"/>
<circle cx="358.4" cy="525.7" r="3.1" fill="#0a0a0a"/>
<circle cx="367.1" cy="525.7" r="3.1" fill="#0a0a0a"/>
<circle cx="375.8" cy="559.8" r="3.1" fill="#0a0a0a"/>
<circle cx="384.4" cy="559.8" r="3.1" fill="#0a0a0a"/>
<circle cx="393.1" cy="559.8" r="3.1" fill="#0a0a0a"/>
<circle cx="401.8" cy="559.8" r="3.1" fill="#0a0a0a"/>
<circle cx="410.4" cy="559.8" r="3.1" fill="#0a0a0a"/>
<circle cx="419.1" cy="559.8" r="3.1" fill="#0a0a0a"/>
<circle cx="427.8" cy="559.8" r="3.1" fill="#0a0a0a"/>
<path d="M289.1 480.4H297.7H306.4H315.1H323.8H332.4H341.1H349.8H358.4V491.6H367.1V502.9H375.8H384.4H393.1H401.8V514.4H410.4H419.1H427.8" fill="none" stroke="#222" stroke-width="0.9"/>
<circle cx="289.1" cy="480.4" r="2.75" fill="#fff" stroke="#222" stroke-width="0.8"/>
<circle cx="297.7" cy="480.4" r="2.75" fill="#fff" stroke="#222" stroke-width="0.8"/>
<circle cx="306.4" cy="480.4" r="2.75" fill="#fff" stroke="#222" stroke-width="0.8"/>
<circle cx="315.1" cy="480.4" r="2.75" fill="#fff" stroke="#222" stroke-width="0.8"/>
<circle cx="323.8" cy="480.4" r="2.75" fill="#fff" stroke="#222" stroke-width="0.8"/>
<circle cx="332.4" cy="480.4" r="2.75" fill="#fff" stroke="#222" stroke-width="0.8"/>
<circle cx="341.1" cy="480.4" r="2.75" fill="#fff" stroke="#222" stroke-width="0.8"/>
<circle cx="349.8" cy="480.4" r="2.75" fill="#fff" stroke="#222" stroke-width="0.8"/>
<circle cx="358.4" cy="491.6" r="2.75" fill="#fff" stroke="#222" stroke-width="0.8"/>
<circle cx="367.1" cy="502.9" r="2.75" fill="#fff" stroke="#222" stroke-width="0.8"/>
<circle cx="375.8" cy="502.9" r="2.75" fill="#fff" stroke="#222" stroke-width="0.8"/>
<circle cx="384.4" cy="502.9" r="2.75" fill="#fff" stroke="#222" stroke-width="0.8"/>
<circle cx="393.1" cy="502.9" r="2.75" fill="#fff" stroke="#222" stroke-width="0.8"/>
<circle cx="401.8" cy="514.4" r="2.75" fill="#fff" stroke="#222" stroke-width="0.8"/>
<circle cx="410.4" cy="514.4" r="2.75" fill="#fff" stroke="#222" stroke-width="0.8"/>
<circle cx="419.1" cy="514.4" r="2.75" fill="#fff" stroke="#222" stroke-width="0.8"/>
<circle cx="427.8" cy="514.4" r="2.75" fill="#fff" stroke="#222" stroke-width="0.8"/>
<rect x="386.5" y="462.8" width="46.0" height="27.8" fill="#fff" stroke="#333" stroke-width="0.8"/>
<path d="M391.3 471.9L407 471.9" stroke="#222" stroke-width="0.9" fill="none"/>
<circle cx="399.3" cy="471.9" r="3.1" fill="#0a0a0a"/>
<text x="410.6" y="474.5" font-size="6.9" font-weight="normal" text-anchor="start" fill="#222">JEV</text>
<path d="M391.3 481.8L407 481.8" stroke="#222" stroke-width="0.9" fill="none"/>
<circle cx="399.3" cy="481.8" r="2.75" fill="#fff" stroke="#222" stroke-width="0.8"/>
<text x="410.6" y="484.4" font-size="6.9" font-weight="normal" text-anchor="start" fill="#222">Mock</text>
</svg>
</body>
</html>
